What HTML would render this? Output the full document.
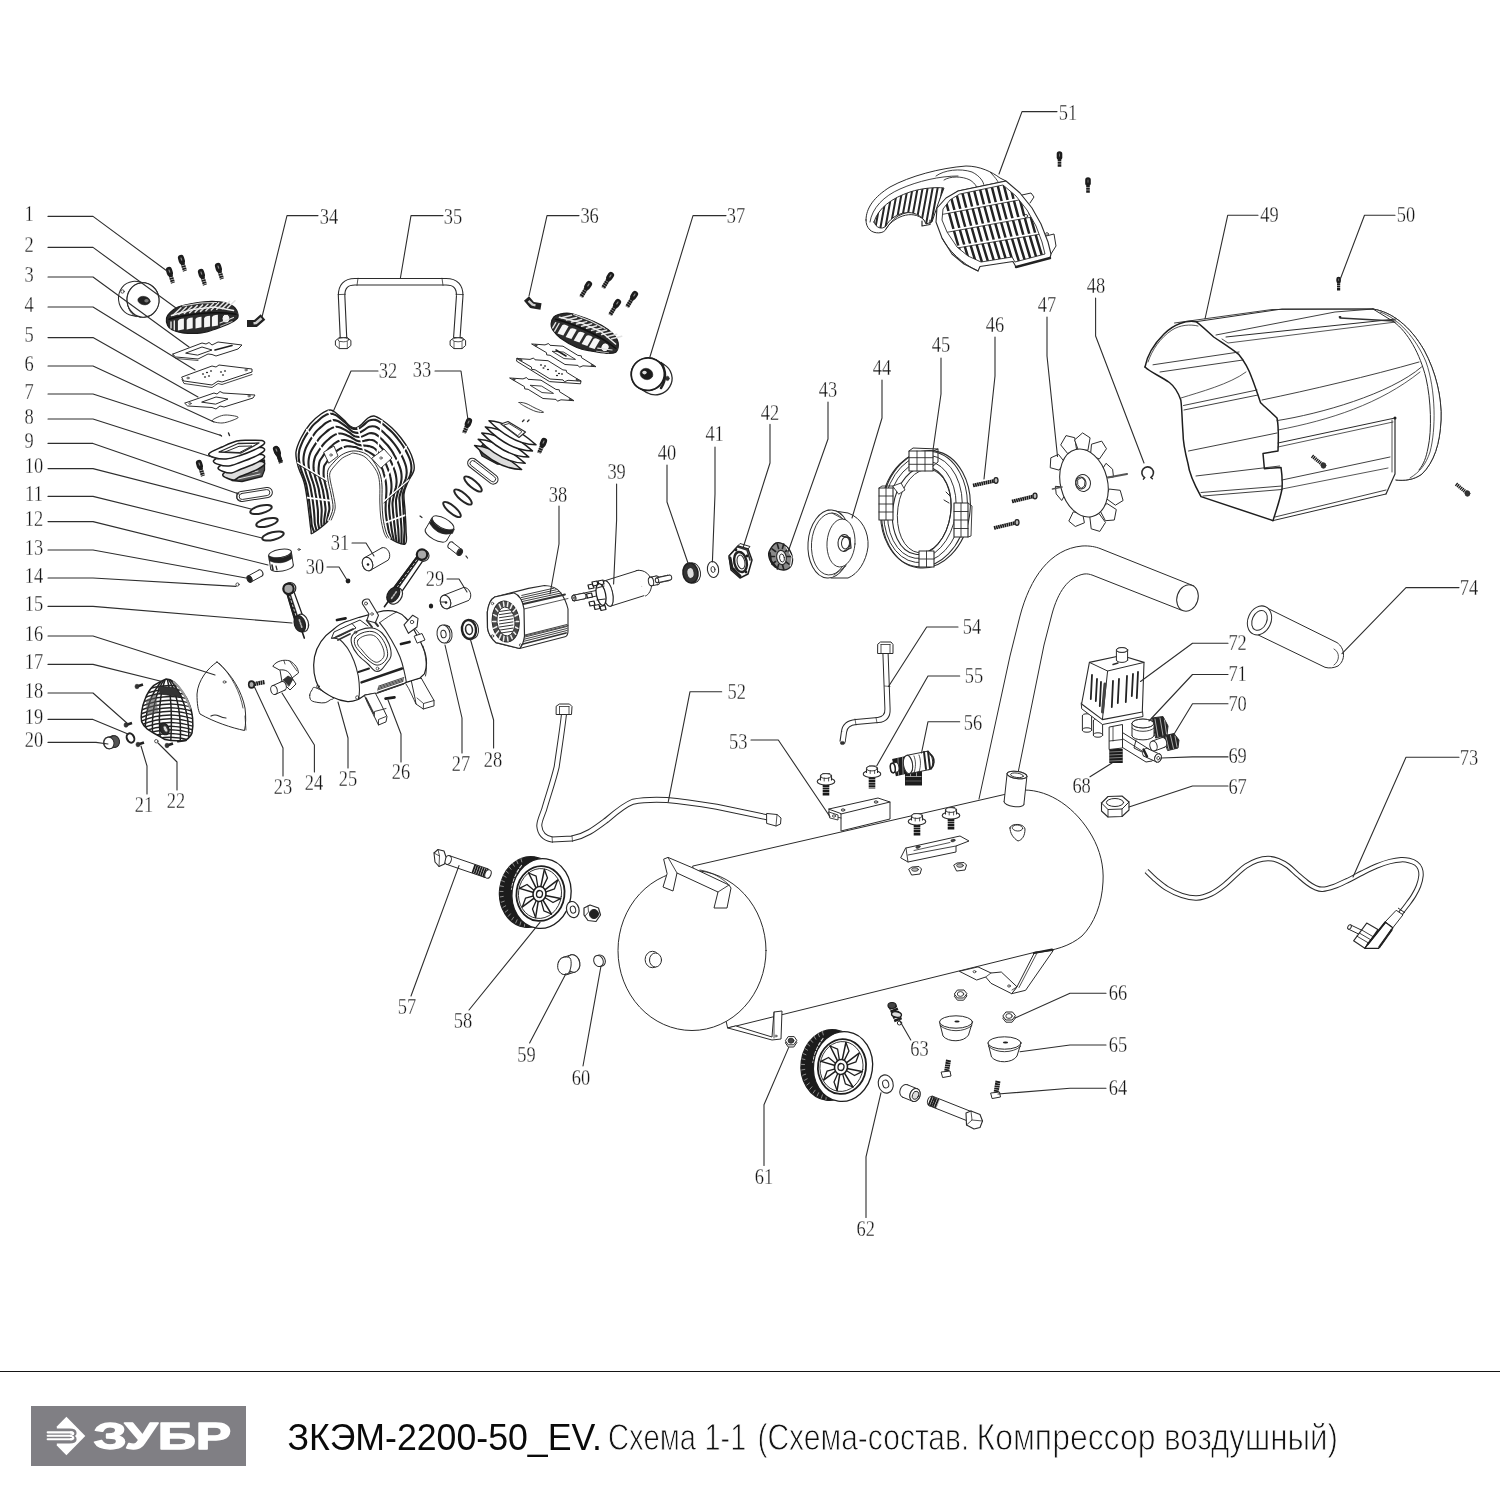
<!DOCTYPE html>
<html lang="ru"><head><meta charset="utf-8"><title>ЗКЭМ-2200-50_EV</title>
<style>
html,body{margin:0;padding:0;background:#fff}
body{width:1500px;height:1500px;position:relative;overflow:hidden;font-family:"Liberation Sans",sans-serif}
svg{position:absolute;left:0;top:0;display:block;will-change:transform}
.n{font-family:"Liberation Serif",serif;fill:#161616;stroke:#fff;stroke-width:0.3px}
.rule{position:absolute;left:0;top:1370.8px;width:1500px;height:1.4px;background:#151515}
.logo{position:absolute;left:31px;top:1406px;width:215.4px;height:60px;background:#807f84}
.title{position:absolute;left:288px;top:1418px;font-size:36px;line-height:44px;color:#111;white-space:nowrap;letter-spacing:-0.6px}
.title span{color:#2a2a2a;}
</style></head><body>
<svg width="1500" height="1500" viewBox="0 0 1500 1500" stroke-linejoin="round" stroke-linecap="round">
<path d="M169.9 273.1 L173 283" stroke="#1c1c1c" stroke-width="4.2" fill="none" stroke-linecap="butt" stroke-dasharray="1.9 0.45"/>
<path d="M169 270 L169.9 273.1" stroke="#1c1c1c" stroke-width="6.2" fill="none" stroke-linecap="round"/>
<path d="M169 270 L169.7 272.1" stroke="#888" stroke-width="1.2000000000000002" fill="none" stroke-linecap="round"/>
<path d="M181.9 261.1 L185 271" stroke="#1c1c1c" stroke-width="4.2" fill="none" stroke-linecap="butt" stroke-dasharray="1.9 0.45"/>
<path d="M181 258 L181.9 261.1" stroke="#1c1c1c" stroke-width="6.2" fill="none" stroke-linecap="round"/>
<path d="M181 258 L181.7 260.1" stroke="#888" stroke-width="1.2000000000000002" fill="none" stroke-linecap="round"/>
<path d="M201.9 275.1 L205 285" stroke="#1c1c1c" stroke-width="4.2" fill="none" stroke-linecap="butt" stroke-dasharray="1.9 0.45"/>
<path d="M201 272 L201.9 275.1" stroke="#1c1c1c" stroke-width="6.2" fill="none" stroke-linecap="round"/>
<path d="M201 272 L201.7 274.1" stroke="#888" stroke-width="1.2000000000000002" fill="none" stroke-linecap="round"/>
<path d="M218.9 269.1 L222 279" stroke="#1c1c1c" stroke-width="4.2" fill="none" stroke-linecap="butt" stroke-dasharray="1.9 0.45"/>
<path d="M218 266 L218.9 269.1" stroke="#1c1c1c" stroke-width="6.2" fill="none" stroke-linecap="round"/>
<path d="M218 266 L218.7 268.1" stroke="#888" stroke-width="1.2000000000000002" fill="none" stroke-linecap="round"/>
<ellipse cx="134.5" cy="298.5" rx="16" ry="17.2" transform="rotate(-6 134.5 298.5)" fill="#fff" stroke="#2b2b2b" stroke-width="1.0" />
<path d="M140.6 317 L132.1 315.5 L136.9 281.5 L145.4 283 Z" fill="#fff" stroke="none" stroke-width="0" />
<path d="M140.6 317 L132.1 315.5" fill="none" stroke="#2b2b2b" stroke-width="1.0" />
<path d="M136.9 281.5 L145.4 283" fill="none" stroke="#2b2b2b" stroke-width="1.0" />
<ellipse cx="143" cy="300" rx="16" ry="17.2" transform="rotate(-6 143 300)" fill="#fff" stroke="#2b2b2b" stroke-width="1.0" />
<path d="M140.5 283 C132 286 127 294 127.5 302 C128 310 132 315 136 316.5" fill="none" stroke="#2b2b2b" stroke-width="0.9" />
<ellipse cx="143" cy="300" rx="16" ry="17.2" transform="rotate(-6 143 300)" fill="#fff" stroke="#2b2b2b" stroke-width="1.1" />
<ellipse cx="122.5" cy="291.5" rx="1.7" ry="1.7" fill="none" stroke="#2b2b2b" stroke-width="0.8" />
<ellipse cx="144" cy="300.6" rx="6.2" ry="4.2" transform="rotate(10 144 300.6)" fill="#222" stroke="#2b2b2b" stroke-width="0.6" />
<ellipse cx="146.5" cy="300.8" rx="2.2" ry="1.8" fill="#777" stroke="#2b2b2b" stroke-width="0" />
<g transform="translate(202.5 318) rotate(0)" stroke-linejoin="round">
<path d="M-36 0 C-35.6 -2.1 -34.7 -3.2 -32.8 -5 C-30.9 -6.8 -28.7 -9.3 -24.5 -11 C-20.3 -12.7 -13.2 -14.1 -7.5 -15 C-1.8 -15.9 4.3 -16.6 9.5 -16.6 C14.7 -16.6 19.7 -16.1 23.5 -15 C27.3 -13.9 30.5 -12.3 32.5 -10 C34.5 -7.7 36.2 -3.5 35.5 -1 C34.8 1.5 31.6 3.1 28 5 C24.4 6.9 19 8.9 14.2 10.6 C9.4 12.2 4.9 14.2 -0.8 14.9 C-6.5 15.6 -15.1 15.4 -20 14.9 C-24.9 14.4 -28 12.9 -30.5 11.7 C-33 10.4 -34 9.3 -34.9 7.4 C-35.8 5.5 -36.4 2.1 -36 0 Z" fill="#2c2c2c" stroke="#1c1c1c" stroke-width="1.2"/>
<path d="M-29 -3.1 L-21.5 -10.3" stroke="#e2e2e2" stroke-width="1.5" fill="none"/>
<path d="M-23.6 -3.8 L-16.1 -11" stroke="#e2e2e2" stroke-width="1.5" fill="none"/>
<path d="M-18.2 -4.5 L-10.7 -11.7" stroke="#e2e2e2" stroke-width="1.5" fill="none"/>
<path d="M-12.8 -5.2 L-5.3 -12.4" stroke="#e2e2e2" stroke-width="1.5" fill="none"/>
<path d="M-7.4 -5.9 L0.1 -13.1" stroke="#e2e2e2" stroke-width="1.5" fill="none"/>
<path d="M-2 -6.6 L5.5 -13.8" stroke="#e2e2e2" stroke-width="1.5" fill="none"/>
<path d="M3.4 -7.3 L10.9 -14.5" stroke="#e2e2e2" stroke-width="1.5" fill="none"/>
<path d="M8.8 -8 L16.3 -15.2" stroke="#e2e2e2" stroke-width="1.5" fill="none"/>
<path d="M14.2 -8.7 L21.7 -15.9" stroke="#e2e2e2" stroke-width="1.5" fill="none"/>
<path d="M19.6 -9.4 L27.1 -16.6" stroke="#e2e2e2" stroke-width="1.5" fill="none"/>
<path d="M25 -10.1 L32.5 -17.3" stroke="#e2e2e2" stroke-width="1.5" fill="none"/>
<path d="M-31 -2.5 L-10 -8.5 L12 -11 L31 -7.5" stroke="#efefef" stroke-width="1.5" fill="none"/>
<path d="M-20 -12 L-2 -15 L14 -15.5" stroke="#ddd" stroke-width="1.1" fill="none"/>
<path d="M-33.5 1.2 C-20 -2.8 8 -7.8 33.5 -3.8" stroke="#111" stroke-width="1.5" fill="none"/>
<path d="M-24.6 12.4 L-24.6 3 Q-24 1 -21 0.8 L-18.6 0.6 L-18.6 11.2 Z" fill="#f6f6f6" stroke="none"/>
<path d="M-15.8 11.4 L-15.8 2 Q-15.2 0.1 -12.2 -0.2 L-9.8 -0.4 L-9.8 10.2 Z" fill="#f6f6f6" stroke="none"/>
<path d="M-7 10.5 L-7 1.1 Q-6.4 -0.9 -3.4 -1.1 L-1 -1.3 L-1 9.3 Z" fill="#f6f6f6" stroke="none"/>
<path d="M1.6 9.6 L1.6 0.2 Q2.2 -1.8 5.2 -2 L7.6 -2.2 L7.6 8.4 Z" fill="#f6f6f6" stroke="none"/>
<path d="M9.4 8.6 L9.4 -0.8 Q10 -2.8 13 -3 L15.4 -3.2 L15.4 7.4 Z" fill="#f6f6f6" stroke="none"/>
<path d="M-31.5 4 L-31.5 10 M-28.2 3 L-28.2 11.8" stroke="#e4e4e4" stroke-width="1.4" fill="none"/>
<ellipse cx="23.5" cy="0.6" rx="4" ry="4.4" fill="#f4f4f4" stroke="#1c1c1c" stroke-width="1"/>
<path d="M17.5 5 L31 -0.6" stroke="#e0e0e0" stroke-width="1.1" fill="none"/>
<path d="M18 8.2 L29.5 3.6" stroke="#ccc" stroke-width="0.9" fill="none"/>
</g>
<path d="M247 323.5 L255.5 323.5 L263 317" fill="none" stroke="#222" stroke-width="7" stroke-linecap="butt"/>
<path d="M253.5 323.3 L256 323 L261.5 318.3" fill="none" stroke="#d0d0d0" stroke-width="2.6" stroke-linecap="butt"/>
<path d="M173 354 L202 343 L206 344 L209 342.5 L212 345 L218 342 L242 345 L238 349 L216 356 L212 354.5 L208 354 L198 359 L176 357 Z" fill="#fff" stroke="#2b2b2b" stroke-width="1.0" />
<path d="M186 353 L202 347 L212 350 L198 355 Z" fill="none" stroke="#2b2b2b" stroke-width="1.0" />
<path d="M173 354 L173 356 L176 358.5 L198 360.5" fill="none" stroke="#2b2b2b" stroke-width="0.8" />
<path d="M215 350 L232 345.5" fill="none" stroke="#1e1e1e" stroke-width="1.6" />
<path d="M182 377 L212 366 L216 367 L219 365 L252 369 L252 372 L222 382 L218 381 L212 385 L184 381 Z" fill="#fff" stroke="#2b2b2b" stroke-width="1.0" />
<path d="M182 379.5 L184 383.5 L212 387.5 L218 383.5 L222 384.5 L252 374.5" fill="none" stroke="#2b2b2b" stroke-width="0.9" />
<ellipse cx="203" cy="374" rx="1.1" ry="0.8" fill="#1e1e1e" stroke="#2b2b2b" stroke-width="0" />
<ellipse cx="207" cy="372.5" rx="1.1" ry="0.8" fill="#1e1e1e" stroke="#2b2b2b" stroke-width="0" />
<ellipse cx="211" cy="371" rx="1.1" ry="0.8" fill="#1e1e1e" stroke="#2b2b2b" stroke-width="0" />
<ellipse cx="205" cy="377" rx="1.1" ry="0.8" fill="#1e1e1e" stroke="#2b2b2b" stroke-width="0" />
<ellipse cx="209" cy="376" rx="1.1" ry="0.8" fill="#1e1e1e" stroke="#2b2b2b" stroke-width="0" />
<ellipse cx="221" cy="372" rx="1.1" ry="0.8" fill="#1e1e1e" stroke="#2b2b2b" stroke-width="0" />
<ellipse cx="225" cy="371" rx="1.1" ry="0.8" fill="#1e1e1e" stroke="#2b2b2b" stroke-width="0" />
<ellipse cx="223" cy="375" rx="1.1" ry="0.8" fill="#1e1e1e" stroke="#2b2b2b" stroke-width="0" />
<ellipse cx="188" cy="378" rx="1.2" ry="0.9" fill="none" stroke="#2b2b2b" stroke-width="0.7" />
<ellipse cx="246" cy="370" rx="1.2" ry="0.9" fill="none" stroke="#2b2b2b" stroke-width="0.7" />
<path d="M185 403 L214 393 L217 394 L220 391.5 L223 393 L255 395 L253 398 L224 407 L220 406 L216 409 L212 407.5 L188 406 Z" fill="#fff" stroke="#2b2b2b" stroke-width="1.0" />
<path d="M202 402 L216 397 L228 399 L216 404 Z" fill="none" stroke="#2b2b2b" stroke-width="1.0" />
<ellipse cx="190" cy="403.5" rx="1.2" ry="0.9" fill="none" stroke="#2b2b2b" stroke-width="0.7" />
<ellipse cx="249" cy="396" rx="1.2" ry="0.9" fill="none" stroke="#2b2b2b" stroke-width="0.7" />
<path d="M212 421 C211.3 420 215.7 418 218 417 C220.3 416 222.7 415 226 415 C229.3 415 237 416.1 238 417 C239 417.9 234.7 419.5 232 420.5 C229.3 421.5 225.3 422.9 222 423 C218.7 423.1 212.7 422 212 421 Z" fill="#fff" stroke="#2b2b2b" stroke-width="0.9" />
<path d="M220 435 L221.5 436" fill="none" stroke="#2b2b2b" stroke-width="1.4" />
<path d="M228.5 433 L229.5 435.5" fill="none" stroke="#2b2b2b" stroke-width="1.4" />
<path d="M229 474 L232 480.5 L242 481.5 L262 476.5 L264.5 470 L264.5 460 L232 466 Z" fill="#555" stroke="#1e1e1e" stroke-width="1.3" />
<path d="M236 476 L258 471 M238 479 L260 474" fill="none" stroke="#ddd" stroke-width="1.0" />
<path d="M222.8 474.6 C223.4 472.9 228.6 470.1 231.7 468 C234.7 465.9 237.9 463.1 240.9 462 C244 460.9 246.5 461.4 250 461.3 C253.5 461.2 259.7 461 262 461.6 C264.3 462.2 265.3 463.4 264 465 C262.7 466.6 258 469.1 254 471 C250 472.9 243.3 475 240 476.5 C236.7 478 236.3 479.7 234.3 480 C232.2 480.3 229.7 479.4 227.8 478.5 C225.9 477.6 222.2 476.4 222.8 474.6 Z" fill="#ddd" stroke="#1e1e1e" stroke-width="1.5" />
<path d="M218.2 467.6 C219.1 465.9 224.9 463.1 228.4 461 C232 458.9 236 456.1 239.6 455 C243.2 453.9 246.3 454.4 250 454.3 C253.7 454.2 259.7 454 262 454.6 C264.3 455.2 265.3 456.4 264 458 C262.7 459.6 258 462.1 254 464 C250 465.9 243.7 468 240 469.5 C236.3 471 234.3 472.7 231.5 473 C228.7 473.3 225.4 472.4 223.2 471.5 C221 470.6 217.3 469.4 218.2 467.6 Z" fill="#fff" stroke="#1e1e1e" stroke-width="1.5" />
<path d="M213.6 460.6 C214.7 458.9 221.1 456.1 225.2 454 C229.3 451.9 234.1 449.1 238.2 448 C242.3 446.9 246 447.4 250 447.3 C254 447.2 259.7 447 262 447.6 C264.3 448.2 265.3 449.4 264 451 C262.7 452.6 258 455.1 254 457 C250 458.9 244.2 461 240 462.5 C235.8 464 232.3 465.7 228.8 466 C225.2 466.3 221.1 465.4 218.6 464.5 C216.1 463.6 212.5 462.4 213.6 460.6 Z" fill="#fff" stroke="#1e1e1e" stroke-width="1.5" />
<path d="M209 453.6 C210.3 451.9 217.4 449.1 222 447 C226.6 444.9 232.1 442.1 236.8 441 C241.5 439.9 245.8 440.4 250 440.3 C254.2 440.2 259.7 440 262 440.6 C264.3 441.2 265.3 442.4 264 444 C262.7 445.6 258 448.1 254 450 C250 451.9 244.7 454 240 455.5 C235.3 457 230.3 458.7 226 459 C221.7 459.3 216.8 458.4 214 457.5 C211.2 456.6 207.7 455.4 209 453.6 Z" fill="#fff" stroke="#1e1e1e" stroke-width="1.5" />
<path d="M219 452 L238 443.5 L259 443 L241 453 Z" fill="#fff" stroke="#2b2b2b" stroke-width="1.3" />
<path d="M225 452 L239 446.3 L252 446 L240 452.3 Z" fill="none" stroke="#2b2b2b" stroke-width="1.0" />
<path d="M199.9 466.1 L203 476" stroke="#1c1c1c" stroke-width="4.2" fill="none" stroke-linecap="butt" stroke-dasharray="1.9 0.45"/>
<path d="M199 463 L199.9 466.1" stroke="#1c1c1c" stroke-width="6.2" fill="none" stroke-linecap="round"/>
<path d="M199 463 L199.7 465.1" stroke="#888" stroke-width="1.2000000000000002" fill="none" stroke-linecap="round"/>
<path d="M277.9 453.1 L281 463" stroke="#1c1c1c" stroke-width="4.2" fill="none" stroke-linecap="butt" stroke-dasharray="1.9 0.45"/>
<path d="M277 450 L277.9 453.1" stroke="#1c1c1c" stroke-width="6.2" fill="none" stroke-linecap="round"/>
<path d="M277 450 L277.7 452.1" stroke="#888" stroke-width="1.2000000000000002" fill="none" stroke-linecap="round"/>
<g transform="rotate(-9 254.5 494.5)"><rect x="236.5" y="489.5" width="36" height="10" rx="5" fill="#fff" stroke="#2b2b2b" stroke-width="1"/><rect x="239" y="491.5" width="31" height="6" rx="3" fill="none" stroke="#2b2b2b" stroke-width="0.9"/></g>
<path d="M237 492.5 L237 499 L241 501" fill="none" stroke="#2b2b2b" stroke-width="0.9" />
<ellipse cx="261" cy="509.5" rx="11" ry="3.8" transform="rotate(-14 261 509.5)" fill="none" stroke="#262626" stroke-width="2.0" />
<ellipse cx="267" cy="522.5" rx="11" ry="3.8" transform="rotate(-14 267 522.5)" fill="none" stroke="#262626" stroke-width="2.0" />
<ellipse cx="273" cy="536" rx="11" ry="3.8" transform="rotate(-14 273 536)" fill="none" stroke="#262626" stroke-width="2.0" />
<ellipse cx="282" cy="567" rx="11.5" ry="4" transform="rotate(-10 282 567)" fill="#fff" stroke="#2b2b2b" stroke-width="1.0" />
<path d="M291.3 551.5 L293.3 565 L270.7 569 L268.7 555.5 Z" fill="#fff" stroke="none" stroke-width="0" />
<path d="M291.3 551.5 L293.3 565" fill="none" stroke="#2b2b2b" stroke-width="1.0" />
<path d="M270.7 569 L268.7 555.5" fill="none" stroke="#2b2b2b" stroke-width="1.0" />
<ellipse cx="280" cy="553.5" rx="11.5" ry="4" transform="rotate(-10 280 553.5)" fill="#fff" stroke="#2b2b2b" stroke-width="1.0" />
<path d="M268.7 556 Q280 561 291.5 553.5 L292 558.5 Q281 566 269.5 561 Z" fill="#222" stroke="#2b2b2b" stroke-width="0.5" />
<path d="M272 565 L273 570" fill="none" stroke="#2b2b2b" stroke-width="1.6" />
<path d="M276 566 L277 570" fill="none" stroke="#2b2b2b" stroke-width="1.2" />
<ellipse cx="299" cy="549.5" rx="1.2" ry="0.8" fill="none" stroke="#2b2b2b" stroke-width="0.8" />
<ellipse cx="260.5" cy="573" rx="2.2" ry="3.4" transform="rotate(-25 260.5 573)" fill="#fff" stroke="#2b2b2b" stroke-width="1.0" />
<path d="M248 576 L259 570 L262 576 L251 582 Z" fill="#fff" stroke="none" stroke-width="0" />
<path d="M248 576 L259 570" fill="none" stroke="#2b2b2b" stroke-width="1.0" />
<path d="M262 576 L251 582" fill="none" stroke="#2b2b2b" stroke-width="1.0" />
<ellipse cx="249.5" cy="579" rx="2.2" ry="3.4" transform="rotate(-25 249.5 579)" fill="#fff" stroke="#2b2b2b" stroke-width="1.0" />
<ellipse cx="249.5" cy="579" rx="2.2" ry="3.4" transform="rotate(-25 249.5 579)" fill="#222" stroke="#2b2b2b" stroke-width="1.0" />
<ellipse cx="237.5" cy="584.5" rx="1.6" ry="1.6" fill="none" stroke="#2b2b2b" stroke-width="0.8" />
<path d="M286.1 591.1 L295.3 622.1 L303.9 619.3 L292.9 588.9 Z" fill="#fff" stroke="#1e1e1e" stroke-width="1.3" />
<path d="M286.1 591.1 L295.3 622.1 L299.3 620.8 L289.2 590.1 Z" fill="#1e1e1e" stroke="#1e1e1e" stroke-width="0.6" />
<path d="M289.7 596.3 L296.5 617.5" stroke="#ccc" stroke-width="1" stroke-dasharray="2 2.5" fill="none"/>
<ellipse cx="302.1" cy="623" rx="9" ry="6.2" transform="rotate(71.8 302.1 623)" fill="#fff" stroke="#2b2b2b" stroke-width="1.2" />
<ellipse cx="299.8" cy="623.8" rx="8.4" ry="5.4" transform="rotate(71.8 299.8 623.8)" fill="#2a2a2a" stroke="#1e1e1e" stroke-width="1.2" />
<path d="M299.3 619.8 L301.8 627.3" stroke="#bbb" stroke-width="1.6" stroke-dasharray="1.6 1.6" fill="none"/>
<path d="M302.1 631.5 L304.3 638.1" stroke="#1e1e1e" stroke-width="1.6" fill="none"/>
<ellipse cx="290.2" cy="588.2" rx="5.6" ry="5.6" fill="#fff" stroke="#2b2b2b" stroke-width="1.2" />
<ellipse cx="288.5" cy="588.8" rx="5.2" ry="5.2" fill="#aaa" stroke="#1e1e1e" stroke-width="2.2" />
<path d="M217 662 C208 668 198 680 197 694 C197 704 198 710 200 714 C214 722 232 728 244.5 730.5 C246 724 246 716 245 708 C242 692 232 674 217 662 Z" fill="#fff" stroke="#2b2b2b" stroke-width="1.0" />
<path d="M219 663 C232 676 240 692 243 708" fill="none" stroke="#2b2b2b" stroke-width="0.8" />
<path d="M245 716 L246 730" fill="none" stroke="#2b2b2b" stroke-width="0.8" />
<ellipse cx="224.5" cy="682" rx="1.5" ry="1.1" fill="none" stroke="#2b2b2b" stroke-width="0.8" />
<path d="M211 716 q4 -2 8 0 q4 2 7 2" fill="none" stroke="#2b2b2b" stroke-width="1.2" />
<clipPath id="c17"><path d="M166.2 679 C161 681 157 683.5 153.6 685.6 C149 690 147 694 145.2 698.8 C143 704 142 708 141.6 712 C141 716 141 719 141.6 721.6 C143 725 145 727 147 728.8 C151 731.5 155 734 159 736 L165 739.6 C172 741 180 741 186 740.2 C189 738 191 736 192 733 C193 728 193 722 192.6 718 C192 713 191 708 189 703.6 C187.5 699.5 185.5 696 183 692.8 C180 688.5 177.5 685 174 682 C171.5 680 169 679 166.2 679 Z"/></clipPath>
<path d="M166.2 679 C161 681 157 683.5 153.6 685.6 C149 690 147 694 145.2 698.8 C143 704 142 708 141.6 712 C141 716 141 719 141.6 721.6 C143 725 145 727 147 728.8 C151 731.5 155 734 159 736 L165 739.6 C172 741 180 741 186 740.2 C189 738 191 736 192 733 C193 728 193 722 192.6 718 C192 713 191 708 189 703.6 C187.5 699.5 185.5 696 183 692.8 C180 688.5 177.5 685 174 682 C171.5 680 169 679 166.2 679 Z" fill="#fff" stroke="#1e1e1e" stroke-width="1.5" />
<g clip-path="url(#c17)" fill="none" stroke="#222">
<path d="M138 693 Q168 679 198 691" stroke-width="1.5"/>
<path d="M138 696.7 Q168 682.7 198 694.7" stroke-width="1.5"/>
<path d="M138 700.4 Q168 686.4 198 698.4" stroke-width="1.5"/>
<path d="M138 704.1 Q168 690.1 198 702.1" stroke-width="1.5"/>
<path d="M138 707.8 Q168 693.8 198 705.8" stroke-width="1.5"/>
<path d="M138 711.5 Q168 697.5 198 709.5" stroke-width="1.5"/>
<path d="M138 715.2 Q168 701.2 198 713.2" stroke-width="1.5"/>
<path d="M138 718.9 Q168 704.9 198 716.9" stroke-width="1.5"/>
<path d="M138 722.6 Q168 708.6 198 720.6" stroke-width="1.5"/>
<path d="M138 726.3 Q168 712.3 198 724.3" stroke-width="1.5"/>
<path d="M138 730 Q168 716 198 728" stroke-width="1.5"/>
<path d="M138 733.7 Q168 719.7 198 731.7" stroke-width="1.5"/>
<path d="M138 737.4 Q168 723.4 198 735.4" stroke-width="1.5"/>
<path d="M138 741.1 Q168 727.1 198 739.1" stroke-width="1.5"/>
<path d="M138 744.8 Q168 730.8 198 742.8" stroke-width="1.5"/>
<path d="M166.5 676 Q141 700 146 746" stroke-width="1.5"/>
<path d="M166.5 676 Q148.5 700 153.5 746" stroke-width="1.5"/>
<path d="M166.5 676 Q156 700 161 746" stroke-width="1.5"/>
<path d="M166.5 676 Q173.5 700 170.5 746" stroke-width="1.5"/>
<path d="M166.5 676 Q183 700 180 746" stroke-width="1.5"/>
<path d="M166.5 676 Q191.5 700 188.5 746" stroke-width="1.5"/>
<path d="M158 686 L176 688 L182 697 L160 694 Z" fill="#333" stroke-width="0.8"/>
<path d="M146 700 L156 694 L158 712 L147 716 Z" fill="#555" fill-opacity="0.6" stroke="none"/>
</g>
<path d="M174 682 C180 687 187 697 190 708" fill="none" stroke="#999" stroke-width="2.2" />
<ellipse cx="164.5" cy="729" rx="4.4" ry="6" transform="rotate(-25 164.5 729)" fill="#2a2a2a" stroke="#1e1e1e" stroke-width="1.2" />
<ellipse cx="165.5" cy="729" rx="1.8" ry="3.4" transform="rotate(-25 165.5 729)" fill="#ddd" stroke="#2b2b2b" stroke-width="0.6" />
<path d="M186 740.2 L178 741.5" fill="none" stroke="#222" stroke-width="2.0" />
<path d="M137 686.5 L143 684.5" fill="none" stroke="#222" stroke-width="2.6" stroke-linecap="butt"/>
<ellipse cx="137" cy="686.5" rx="2" ry="2.3" fill="#333" stroke="#2b2b2b" stroke-width="0.6" />
<path d="M126 725 L132 723" fill="none" stroke="#222" stroke-width="2.6" stroke-linecap="butt"/>
<ellipse cx="126" cy="725" rx="2" ry="2.3" fill="#333" stroke="#2b2b2b" stroke-width="0.6" />
<path d="M167 745.5 L173 743.5" fill="none" stroke="#222" stroke-width="2.6" stroke-linecap="butt"/>
<ellipse cx="167" cy="745.5" rx="2" ry="2.3" fill="#333" stroke="#2b2b2b" stroke-width="0.6" />
<path d="M138 744.5 L144 742.5" fill="none" stroke="#222" stroke-width="2.6" stroke-linecap="butt"/>
<ellipse cx="138" cy="744.5" rx="2" ry="2.3" fill="#333" stroke="#2b2b2b" stroke-width="0.6" />
<ellipse cx="130.5" cy="738" rx="3.6" ry="4.8" transform="rotate(-25 130.5 738)" fill="none" stroke="#222" stroke-width="2.0" />
<ellipse cx="114" cy="741.5" rx="5" ry="5.8" transform="rotate(-10 114 741.5)" fill="#fff" stroke="#2b2b2b" stroke-width="1.0" />
<path d="M107.1 737.4 L112.6 735.9 L115.4 747.1 L109.9 748.6 Z" fill="#fff" stroke="none" stroke-width="0" />
<path d="M107.1 737.4 L112.6 735.9" fill="none" stroke="#2b2b2b" stroke-width="1.0" />
<path d="M115.4 747.1 L109.9 748.6" fill="none" stroke="#2b2b2b" stroke-width="1.0" />
<ellipse cx="108.5" cy="743" rx="5" ry="5.8" transform="rotate(-10 108.5 743)" fill="#fff" stroke="#2b2b2b" stroke-width="1.0" />
<ellipse cx="114.5" cy="741.5" rx="5" ry="5.8" transform="rotate(-10 114.5 741.5)" fill="#555" stroke="#2b2b2b" stroke-width="1" />
<ellipse cx="109" cy="743" rx="5" ry="5.8" transform="rotate(-10 109 743)" fill="#fff" stroke="#2b2b2b" stroke-width="1" />
<ellipse cx="156.3" cy="741.2" rx="1.7" ry="1.7" fill="none" stroke="#2b2b2b" stroke-width="0.8" />
<path d="M252 684.5 L265 682" fill="none" stroke="#1c1c1c" stroke-width="4.2" stroke-linecap="butt" stroke-dasharray="1.7 0.5"/>
<ellipse cx="251.5" cy="684.5" rx="2.8" ry="3.4" fill="#aaa" stroke="#222" stroke-width="1.6" />
<path d="M273 666 C276 661 284 659 290 661 C295 664 298 668 298.5 673 L292 678 C290 672 286 669 280 670 Z" fill="#fff" stroke="#2b2b2b" stroke-width="1.0" />
<path d="M280 670 L282 682 L290 690 L296 684 L292 678" fill="#fff" stroke="#2b2b2b" stroke-width="1.0" />
<path d="M284 661 L285 664 M290 661.5 L297 671" fill="none" stroke="#2b2b2b" stroke-width="0.8" />
<path d="M283 680 L288 676 L293 679 L289 686 Z" fill="#333" stroke="#2b2b2b" stroke-width="0.8" />
<ellipse cx="283" cy="686" rx="3.2" ry="4.6" transform="rotate(-15 283 686)" fill="#fff" stroke="#2b2b2b" stroke-width="1.0" />
<path d="M272.5 685.7 L281.5 681.7 L284.5 690.3 L275.5 694.3 Z" fill="#fff" stroke="none" stroke-width="0" />
<path d="M272.5 685.7 L281.5 681.7" fill="none" stroke="#2b2b2b" stroke-width="1.0" />
<path d="M284.5 690.3 L275.5 694.3" fill="none" stroke="#2b2b2b" stroke-width="1.0" />
<ellipse cx="274" cy="690" rx="3.2" ry="4.6" transform="rotate(-15 274 690)" fill="#fff" stroke="#2b2b2b" stroke-width="1.0" />
<path d="M343.5 338 L341.6 296 Q341.2 281.8 355 281.8 L446 281.8 Q460.2 281.8 459.7 296 L456.8 338" fill="none" stroke="#2b2b2b" stroke-width="7.6" stroke-linecap="butt"/>
<path d="M343.5 338 L341.6 296 Q341.2 281.8 355 281.8 L446 281.8 Q460.2 281.8 459.7 296 L456.8 338" fill="none" stroke="#fff" stroke-width="5.4" stroke-linecap="butt"/>
<path d="M358 278.2 L357 285.4" fill="none" stroke="#2b2b2b" stroke-width="0.8" />
<path d="M442 278.2 L443 285.4" fill="none" stroke="#2b2b2b" stroke-width="0.8" />
<path d="M338 294.6 L345.3 294.3" fill="none" stroke="#2b2b2b" stroke-width="0.8" />
<path d="M456 294.3 L463.4 294.6" fill="none" stroke="#2b2b2b" stroke-width="0.8" />
<path d="M335.7 340.5 L339.3 337.6 L347.3 337.6 L350.9 340.5 L350.9 345.5 L347.3 348.6 L339.3 348.6 L335.7 345.5 Z" fill="#fff" stroke="#2b2b2b" stroke-width="1.0" />
<path d="M339.3 337.6 L339.3 348.6" fill="none" stroke="#2b2b2b" stroke-width="0.7" />
<path d="M347.3 337.6 L347.3 348.6" fill="none" stroke="#2b2b2b" stroke-width="0.7" />
<ellipse cx="343.3" cy="339.8" rx="5.4" ry="2" fill="#fff" stroke="#2b2b2b" stroke-width="0.8" />
<path d="M450.4 340.5 L454 337.6 L462 337.6 L465.6 340.5 L465.6 345.5 L462 348.6 L454 348.6 L450.4 345.5 Z" fill="#fff" stroke="#2b2b2b" stroke-width="1.0" />
<path d="M454 337.6 L454 348.6" fill="none" stroke="#2b2b2b" stroke-width="0.7" />
<path d="M462 337.6 L462 348.6" fill="none" stroke="#2b2b2b" stroke-width="0.7" />
<ellipse cx="458" cy="339.8" rx="5.4" ry="2" fill="#fff" stroke="#2b2b2b" stroke-width="0.8" />
<clipPath id="c32"><path d="M313 533 C310 534.7 311.7 533.2 311 530 C310.3 526.8 309.7 519.3 309 514 C308.3 508.7 307.8 503.3 307 498 C306.2 492.7 305.5 487.3 304 482 C302.5 476.7 299.3 471 298 466 C296.7 461 295.5 456.7 296 452 C296.5 447.3 298.7 442.7 301 438 C303.3 433.3 306.7 428 310 424 C313.3 420 317.7 416.3 321 414 C324.3 411.7 327.5 410.2 330 410 C332.5 409.8 333.7 411.3 336 413 C338.3 414.7 341.7 417.8 344 420 C346.3 422.2 348 424.7 350 426 C352 427.3 354 428.3 356 428 C358 427.7 360 425.7 362 424 C364 422.3 366 419.3 368 418 C370 416.7 371.7 415.7 374 416 C376.3 416.3 379 418 382 420 C385 422 388.8 425 392 428 C395.2 431 398.2 434.3 401 438 C403.8 441.7 407 446.3 409 450 C411 453.7 412.2 456.7 413 460 C413.8 463.3 414.8 466.3 414 470 C413.2 473.7 409.7 478 408 482 C406.3 486 404.5 489.3 404 494 C403.5 498.7 404.7 504 405 510 C405.3 516 406 524.3 406 530 C406 535.7 407.8 542.7 405 544 C402.2 545.3 392.2 540 389 538 C385.8 536 387 535.3 386 532 C385 528.7 383.7 523 383 518 C382.3 513 382.2 507.3 382 502 C381.8 496.7 382.3 490.7 382 486 C381.7 481.3 381.3 478 380 474 C378.7 470 376.3 465.3 374 462 C371.7 458.7 369 455.8 366 454 C363 452.2 359 451.3 356 451 C353 450.7 350.7 451.2 348 452 C345.3 452.8 342.3 454.3 340 456 C337.7 457.7 336 459.7 334 462 C332 464.3 329 467 328 470 C327 473 327.5 476 328 480 C328.5 484 330.2 489.3 331 494 C331.8 498.7 333.3 503.7 333 508 C332.7 512.3 332.3 515.8 329 520 C325.7 524.2 316 531.3 313 533 Z"/></clipPath>
<path d="M313 533 C310 534.7 311.7 533.2 311 530 C310.3 526.8 309.7 519.3 309 514 C308.3 508.7 307.8 503.3 307 498 C306.2 492.7 305.5 487.3 304 482 C302.5 476.7 299.3 471 298 466 C296.7 461 295.5 456.7 296 452 C296.5 447.3 298.7 442.7 301 438 C303.3 433.3 306.7 428 310 424 C313.3 420 317.7 416.3 321 414 C324.3 411.7 327.5 410.2 330 410 C332.5 409.8 333.7 411.3 336 413 C338.3 414.7 341.7 417.8 344 420 C346.3 422.2 348 424.7 350 426 C352 427.3 354 428.3 356 428 C358 427.7 360 425.7 362 424 C364 422.3 366 419.3 368 418 C370 416.7 371.7 415.7 374 416 C376.3 416.3 379 418 382 420 C385 422 388.8 425 392 428 C395.2 431 398.2 434.3 401 438 C403.8 441.7 407 446.3 409 450 C411 453.7 412.2 456.7 413 460 C413.8 463.3 414.8 466.3 414 470 C413.2 473.7 409.7 478 408 482 C406.3 486 404.5 489.3 404 494 C403.5 498.7 404.7 504 405 510 C405.3 516 406 524.3 406 530 C406 535.7 407.8 542.7 405 544 C402.2 545.3 392.2 540 389 538 C385.8 536 387 535.3 386 532 C385 528.7 383.7 523 383 518 C382.3 513 382.2 507.3 382 502 C381.8 496.7 382.3 490.7 382 486 C381.7 481.3 381.3 478 380 474 C378.7 470 376.3 465.3 374 462 C371.7 458.7 369 455.8 366 454 C363 452.2 359 451.3 356 451 C353 450.7 350.7 451.2 348 452 C345.3 452.8 342.3 454.3 340 456 C337.7 457.7 336 459.7 334 462 C332 464.3 329 467 328 470 C327 473 327.5 476 328 480 C328.5 484 330.2 489.3 331 494 C331.8 498.7 333.3 503.7 333 508 C332.7 512.3 332.3 515.8 329 520 C325.7 524.2 316 531.3 313 533 Z" fill="#fff" stroke="#1e1e1e" stroke-width="1.4" />
<g clip-path="url(#c32)" fill="none">
<path d="M326.8 521.8 C326.9 521.1 327.2 519.1 327.5 517.6 C327.8 516.2 328.1 514.8 328.5 513.4 C328.8 512 329.3 510.6 329.4 509.1 C329.5 507.7 329.2 506.2 329.1 504.8 C328.9 503.3 328.7 501.8 328.5 500.4 C328.3 498.9 328 497.5 327.8 496 C327.6 494.5 327.4 493.1 327.1 491.6 C326.8 490.2 326.4 488.8 326 487.3 C325.7 485.9 325.3 484.5 325 483 C324.6 481.6 324.2 480.2 324 478.7 C323.7 477.3 323.6 475.8 323.6 474.3 C323.5 472.8 323.6 471.4 323.7 469.9 C323.8 468.5 323.8 467 324.3 465.6 C324.9 464.3 326 463.2 326.8 462 C327.7 460.8 328.5 459.6 329.4 458.4 C330.3 457.2 331.3 456.1 332.3 455 C333.3 454 334.3 452.9 335.5 451.9 C336.6 451 337.7 450.1 339 449.3 C340.2 448.5 341.6 447.9 343 447.4 C344.3 446.9 345.6 446.5 347 446.3 C348.4 446.2 349.8 446.4 351.2 446.5 C352.6 446.7 354 446.8 355.3 447.1 C356.7 447.5 358 448.3 359.4 448.8 C360.7 449.2 362.3 449.4 363.6 449.8 C364.9 450.2 366 450.6 367.1 451.1 C368.2 451.6 369.2 452.1 370.3 452.8 C371.4 453.5 372.7 454.2 373.7 455.1 C374.7 456 375.5 457.3 376.3 458.5 C377.1 459.6 377.9 460.9 378.6 462.2 C379.4 463.4 380.2 464.6 380.9 465.9 C381.6 467.2 382.2 468.5 382.7 469.8 C383.2 471.2 383.6 472.6 383.9 474 C384.3 475.4 384.7 476.8 385.1 478.2 C385.4 479.6 385.7 481 385.9 482.5 C386.1 483.9 386.2 485.4 386.3 486.8 C386.4 488.3 386.4 489.8 386.4 491.3 C386.4 492.7 386.3 494.2 386.2 495.6 C386.2 497.1 385.9 498.5 385.9 500 C385.8 501.4 385.8 502.9 385.7 504.3 C385.7 505.8 385.6 507.2 385.6 508.7 C385.6 510.2 385.7 511.7 385.8 513.1 C386 514.6 386.1 516.1 386.3 517.5 C386.5 519 386.8 520.4 387 521.9 C387.3 523.3 387.5 524.8 387.8 526.2 C388.1 527.7 388.2 529.2 388.6 530.6 C388.9 532 389.3 533.4 389.8 534.8 C390.2 536.1 391 538.2 391.2 538.8" stroke="#222" stroke-width="2.1"/>
<path d="M324.2 523.9 C324.2 523.1 324.2 520.8 324.3 519.3 C324.5 517.7 324.8 516.1 325 514.5 C325.2 512.9 325.5 511.3 325.6 509.7 C325.6 508.1 325.3 506.4 325.1 504.8 C324.9 503.2 324.7 501.5 324.5 499.9 C324.2 498.2 323.9 496.6 323.7 495 C323.4 493.4 323.2 491.7 322.8 490.1 C322.5 488.5 322 486.9 321.6 485.3 C321.1 483.7 320.6 482.2 320.2 480.6 C319.8 479 319.3 477.4 319.1 475.8 C318.8 474.1 318.6 472.5 318.6 470.8 C318.5 469.2 318.6 467.6 318.8 466 C319 464.4 319.1 462.7 319.7 461.2 C320.3 459.7 321.4 458.4 322.3 457 C323.2 455.7 324.2 454.3 325.2 453 C326.2 451.7 327.2 450.3 328.3 449.1 C329.4 447.9 330.6 446.8 331.9 445.7 C333.1 444.6 334.3 443.5 335.7 442.7 C337.1 441.8 338.7 441 340.2 440.6 C341.7 440.1 343.2 439.9 344.7 440 C346.2 440.1 347.7 440.6 349.2 441 C350.7 441.4 352.1 441.8 353.5 442.4 C355 443 356.3 444.1 357.8 444.6 C359.3 445.1 361 445.4 362.5 445.5 C363.9 445.7 365.2 445.6 366.4 445.8 C367.7 445.9 368.8 445.9 370 446.3 C371.3 446.7 372.8 447.1 374 448 C375.2 448.8 376.3 450.1 377.4 451.3 C378.4 452.5 379.3 453.9 380.3 455.2 C381.3 456.5 382.3 457.7 383.2 459.1 C384.1 460.4 384.9 461.8 385.6 463.3 C386.3 464.7 386.8 466.2 387.4 467.7 C388 469.2 388.6 470.7 389.1 472.3 C389.6 473.8 390.1 475.3 390.4 476.9 C390.8 478.5 391 480.1 391.2 481.7 C391.4 483.3 391.5 485 391.5 486.7 C391.5 488.3 391.3 489.9 391.1 491.5 C390.9 493.1 390.4 494.6 390.2 496.2 C389.9 497.8 389.8 499.4 389.6 501 C389.4 502.6 389.1 504.2 389.1 505.9 C389 507.5 389.2 509.2 389.3 510.8 C389.4 512.4 389.5 514.1 389.7 515.7 C389.9 517.4 390.2 519 390.4 520.6 C390.7 522.3 390.9 523.9 391.1 525.5 C391.3 527.1 391.5 528.8 391.8 530.4 C392.1 532 392.4 533.6 392.7 535.1 C393 536.7 393.6 539 393.8 539.8" stroke="#222" stroke-width="2.1"/>
<path d="M321.6 526 C321.6 525.1 321.2 522.6 321.2 520.9 C321.2 519.2 321.4 517.3 321.5 515.6 C321.5 513.8 321.8 512 321.7 510.2 C321.7 508.4 321.4 506.6 321.2 504.8 C321 503 320.7 501.2 320.5 499.4 C320.2 497.6 319.9 495.8 319.5 494 C319.2 492.2 319 490.3 318.6 488.6 C318.2 486.8 317.6 485.1 317.1 483.3 C316.6 481.6 315.9 479.9 315.5 478.1 C315 476.3 314.5 474.6 314.1 472.8 C313.8 471 313.6 469.2 313.5 467.4 C313.5 465.6 313.6 463.8 313.8 462 C314.1 460.2 314.5 458.4 315.1 456.8 C315.8 455.1 316.9 453.6 317.9 452.1 C318.8 450.5 319.9 449 320.9 447.6 C322 446.1 323.1 444.6 324.3 443.2 C325.5 441.9 326.9 440.7 328.3 439.5 C329.6 438.3 331 437 332.5 436.1 C334 435.1 335.8 434.2 337.5 433.8 C339.1 433.4 340.8 433.4 342.4 433.7 C344.1 434 345.6 434.8 347.2 435.5 C348.7 436.1 350.2 436.8 351.7 437.7 C353.3 438.5 354.7 439.8 356.3 440.4 C357.9 441 359.8 441.3 361.4 441.3 C363 441.3 364.4 440.7 365.8 440.4 C367.2 440.2 368.3 439.7 369.7 439.8 C371.2 439.8 372.9 440.1 374.4 440.8 C375.8 441.6 377.2 442.9 378.4 444.2 C379.7 445.4 380.8 446.8 382 448.2 C383.2 449.5 384.4 450.8 385.5 452.3 C386.5 453.7 387.5 455.2 388.4 456.7 C389.3 458.3 390.1 459.9 390.9 461.5 C391.6 463.1 392.4 464.7 393.1 466.3 C393.7 468 394.4 469.7 394.9 471.4 C395.4 473.1 395.9 474.8 396.1 476.6 C396.4 478.4 396.6 480.3 396.6 482.1 C396.5 483.8 396.3 485.6 396 487.3 C395.6 489.1 394.9 490.7 394.5 492.5 C394.1 494.2 393.8 496 393.4 497.7 C393.1 499.5 392.6 501.2 392.5 503 C392.4 504.8 392.6 506.7 392.8 508.5 C392.9 510.3 393 512.1 393.2 513.9 C393.4 515.7 393.6 517.6 393.8 519.4 C394 521.2 394.2 523 394.4 524.8 C394.6 526.6 394.8 528.4 395 530.2 C395.2 532 395.4 533.8 395.6 535.5 C395.9 537.3 396.2 539.9 396.4 540.8" stroke="#222" stroke-width="2.1"/>
<path d="M319.1 528.1 C318.9 527.1 318.2 524.4 318 522.5 C317.9 520.6 318 518.6 318 516.6 C317.9 514.7 318 512.7 317.9 510.7 C317.8 508.8 317.5 506.8 317.2 504.8 C317 502.8 316.8 500.8 316.5 498.9 C316.1 496.9 315.8 494.9 315.4 492.9 C315.1 491 314.8 489 314.3 487 C313.9 485.1 313.2 483.2 312.6 481.3 C312 479.4 311.3 477.6 310.7 475.6 C310.1 473.7 309.6 471.8 309.2 469.9 C308.9 467.9 308.5 465.9 308.5 463.9 C308.4 461.9 308.6 460 308.9 458.1 C309.2 456.1 309.8 454.2 310.5 452.4 C311.3 450.5 312.3 448.8 313.4 447.1 C314.4 445.4 315.6 443.8 316.7 442.1 C317.8 440.5 318.9 438.8 320.3 437.3 C321.6 435.9 323.2 434.6 324.7 433.3 C326.2 431.9 327.6 430.5 329.3 429.5 C330.9 428.4 332.9 427.3 334.7 427 C336.5 426.6 338.4 426.9 340.1 427.4 C341.9 427.9 343.5 429 345.1 429.9 C346.8 430.9 348.3 431.9 349.9 432.9 C351.5 434 353 435.6 354.7 436.3 C356.5 436.9 358.6 437.2 360.3 437 C362 436.8 363.6 435.8 365.1 435.1 C366.6 434.5 367.9 433.5 369.5 433.2 C371.1 433 373.1 433.1 374.7 433.7 C376.4 434.4 378 435.8 379.5 437 C381 438.3 382.3 439.8 383.7 441.2 C385.1 442.6 386.5 444 387.8 445.5 C389 447 390.2 448.6 391.3 450.2 C392.4 451.8 393.4 453.5 394.3 455.2 C395.3 456.9 396.2 458.6 397.1 460.4 C397.9 462.2 398.7 464 399.4 465.8 C400.1 467.7 400.7 469.6 401.1 471.5 C401.4 473.4 401.7 475.5 401.6 477.5 C401.6 479.4 401.3 481.3 400.8 483.2 C400.3 485.1 399.4 486.9 398.8 488.7 C398.2 490.6 397.8 492.5 397.3 494.4 C396.8 496.3 396.2 498.2 396 500.2 C395.8 502.1 396.1 504.2 396.2 506.2 C396.3 508.1 396.5 510.1 396.6 512.1 C396.8 514.1 397 516.1 397.2 518.1 C397.4 520.1 397.6 522.1 397.7 524.1 C397.9 526 398.2 528 398.3 530 C398.4 532 398.5 533.9 398.6 535.9 C398.7 537.8 398.9 540.7 398.9 541.7" stroke="#222" stroke-width="2.1"/>
<path d="M316.5 530.1 C316.2 529.1 315.2 526.2 314.9 524.2 C314.5 522.1 314.6 519.9 314.5 517.7 C314.3 515.6 314.2 513.4 314 511.3 C313.8 509.1 313.6 507 313.3 504.8 C313 502.7 312.8 500.5 312.4 498.4 C312.1 496.2 311.7 494.1 311.3 491.9 C310.9 489.8 310.6 487.6 310.1 485.5 C309.6 483.4 308.8 481.4 308.1 479.3 C307.4 477.3 306.6 475.2 306 473.2 C305.3 471.1 304.7 469 304.3 466.9 C303.9 464.8 303.5 462.6 303.4 460.4 C303.4 458.3 303.6 456.2 304 454.1 C304.4 452 305.1 449.9 305.9 447.9 C306.8 445.9 307.8 444 308.9 442.2 C310 440.3 311.2 438.5 312.5 436.7 C313.7 434.9 314.8 433.1 316.3 431.4 C317.7 429.8 319.4 428.5 321 427 C322.7 425.6 324.2 424 326 422.8 C327.8 421.7 330 420.5 332 420.2 C333.9 419.9 336 420.3 337.8 421 C339.7 421.8 341.4 423.2 343.1 424.4 C344.8 425.6 346.5 426.9 348.2 428.2 C349.8 429.5 351.4 431.3 353.2 432.1 C355 432.8 357.3 433.1 359.2 432.7 C361.1 432.3 362.8 430.8 364.4 429.8 C366.1 428.8 367.4 427.2 369.2 426.7 C371 426.2 373.2 426.1 375.1 426.6 C377 427.1 378.9 428.6 380.6 429.9 C382.3 431.1 383.8 432.7 385.4 434.2 C387 435.6 388.6 437.1 390 438.7 C391.5 440.2 392.8 442 394.1 443.7 C395.4 445.4 396.6 447.1 397.8 448.9 C398.9 450.7 400 452.6 401.1 454.5 C402.1 456.4 403.1 458.3 403.9 460.3 C404.7 462.3 405.5 464.3 406 466.4 C406.4 468.5 406.7 470.7 406.7 472.8 C406.6 475 406.2 477 405.7 479 C405.1 481.1 403.9 483 403.1 485 C402.4 487 401.8 489 401.2 491.1 C400.5 493.2 399.7 495.2 399.4 497.3 C399.2 499.5 399.6 501.7 399.7 503.8 C399.8 506 400 508.2 400.1 510.3 C400.3 512.5 400.4 514.7 400.6 516.8 C400.8 519 400.9 521.2 401.1 523.3 C401.2 525.5 401.5 527.7 401.5 529.8 C401.6 532 401.5 534.1 401.5 536.3 C401.5 538.4 401.5 541.6 401.5 542.7" stroke="#222" stroke-width="2.1"/>
<path d="M314.1 532.1 C313.8 531 312.4 527.9 311.9 525.7 C311.4 523.5 311.4 521 311.2 518.7 C310.9 516.4 310.7 514.1 310.4 511.8 C310.2 509.5 309.9 507.1 309.6 504.8 C309.3 502.5 309.1 500.2 308.7 497.9 C308.3 495.6 307.8 493.3 307.4 491 C307 488.7 306.7 486.3 306.1 484.1 C305.5 481.8 304.7 479.6 303.9 477.4 C303.2 475.2 302.2 473.1 301.5 470.9 C300.8 468.6 300.2 466.4 299.7 464.1 C299.2 461.8 298.8 459.5 298.7 457.2 C298.7 454.9 298.9 452.6 299.3 450.4 C299.8 448.2 300.8 445.9 301.6 443.8 C302.5 441.6 303.5 439.5 304.7 437.5 C305.8 435.5 307.2 433.6 308.5 431.6 C309.8 429.7 311 427.7 312.5 425.9 C314 424.2 315.9 422.7 317.7 421.2 C319.4 419.6 321 417.9 323 416.6 C324.9 415.4 327.3 414 329.4 413.8 C331.5 413.5 333.7 414.2 335.7 415.1 C337.7 416 339.4 417.8 341.2 419.2 C343 420.7 344.7 422.3 346.5 423.8 C348.2 425.3 349.8 427.4 351.8 428.2 C353.7 429 356.2 429.3 358.2 428.7 C360.2 428.2 362 426.2 363.8 424.8 C365.6 423.5 367 421.4 368.9 420.6 C370.9 419.8 373.3 419.5 375.4 419.9 C377.5 420.3 379.7 421.9 381.6 423.2 C383.5 424.5 385.2 426.1 387 427.6 C388.7 429.1 390.5 430.6 392.2 432.3 C393.8 433.9 395.3 435.7 396.8 437.5 C398.2 439.3 399.7 441.2 401 443 C402.4 444.9 403.6 446.9 404.8 448.9 C406 450.9 407.1 453 408.1 455.1 C409.1 457.2 410 459.3 410.6 461.6 C411.1 463.8 411.5 466.3 411.4 468.5 C411.4 470.8 410.9 473 410.2 475.2 C409.5 477.3 408.1 479.3 407.2 481.5 C406.3 483.6 405.5 485.8 404.8 488 C404 490.2 403 492.4 402.7 494.7 C402.4 496.9 402.8 499.3 402.9 501.6 C403 504 403.2 506.3 403.4 508.6 C403.5 511 403.6 513.3 403.8 515.6 C403.9 518 404 520.3 404.2 522.6 C404.3 525 404.5 527.3 404.6 529.6 C404.6 532 404.3 534.3 404.2 536.6 C404.1 538.9 403.9 542.4 403.9 543.6" stroke="#222" stroke-width="2.1"/>
<path d="M332 500.8 L306.9 497.7" stroke="#fff" stroke-width="1.7"/>
<path d="M328.3 481.3 L297.5 462.8" stroke="#fff" stroke-width="1.7"/>
<path d="M333.1 463.1 L306.6 429.3" stroke="#fff" stroke-width="1.7"/>
<path d="M345.4 453.3 L328.2 410.8" stroke="#fff" stroke-width="1.7"/>
<path d="M364.5 453.6 L357.7 426.9" stroke="#fff" stroke-width="1.7"/>
<path d="M375.4 464.7 L382.1 420" stroke="#fff" stroke-width="1.7"/>
<path d="M381.6 483.4 L406.6 446.3" stroke="#fff" stroke-width="1.7"/>
<path d="M382.1 503.2 L409.1 479.8" stroke="#fff" stroke-width="1.7"/>
<path d="M384.1 523 L405.3 515.1" stroke="#fff" stroke-width="1.7"/>
<path d="M328.3 482.5 L297.5 464" stroke="#222" stroke-width="0.9"/>
<path d="M382.1 504.4 L409.1 481" stroke="#222" stroke-width="0.9"/>
</g>
<path d="M329 520 C329.7 518 332.7 512.3 333 508 C333.3 503.7 331.8 498.7 331 494 C330.2 489.3 328.5 484 328 480 C327.5 476 327 473 328 470 C329 467 332 464.3 334 462 C336 459.7 337.7 457.7 340 456 C342.3 454.3 345.3 452.8 348 452 C350.7 451.2 353 450.7 356 451 C359 451.3 363 452.2 366 454 C369 455.8 371.7 458.7 374 462 C376.3 465.3 378.7 470 380 474 C381.3 478 381.7 481.3 382 486 C382.3 490.7 381.8 496.7 382 502 C382.2 507.3 382.3 513 383 518 C383.7 523 385 528.7 386 532 C387 535.3 388.5 537 389 538" fill="none" stroke="#fff" stroke-width="3.2" />
<path d="M329 520 C329.7 518 332.7 512.3 333 508 C333.3 503.7 331.8 498.7 331 494 C330.2 489.3 328.5 484 328 480 C327.5 476 327 473 328 470 C329 467 332 464.3 334 462 C336 459.7 337.7 457.7 340 456 C342.3 454.3 345.3 452.8 348 452 C350.7 451.2 353 450.7 356 451 C359 451.3 363 452.2 366 454 C369 455.8 371.7 458.7 374 462 C376.3 465.3 378.7 470 380 474 C381.3 478 381.7 481.3 382 486 C382.3 490.7 381.8 496.7 382 502 C382.2 507.3 382.3 513 383 518 C383.7 523 385 528.7 386 532 C387 535.3 388.5 537 389 538" fill="none" stroke="#2b2b2b" stroke-width="1.0" />
<path d="M331.2 520 C331.9 518 334.9 512.3 335.2 508 C335.5 503.7 334 498.7 333.2 494 C332.4 489.3 330.7 483.6 330.2 480 C329.7 476.4 329.2 474.8 330.2 472.2 C331.2 469.6 334.2 466.5 336.2 464.2 C338.2 461.9 339.9 459.9 342.2 458.2 C344.5 456.5 348.3 455 350.2 454.2 C352.1 453.4 351.5 452.9 353.8 453.2 C356.1 453.5 360.8 454.4 363.8 456.2 C366.8 458 369.5 461.2 371.8 464.2 C374.1 467.2 376.5 470.4 377.8 474 C379.1 477.6 379.5 481.3 379.8 486 C380.1 490.7 379.6 496.7 379.8 502 C380 507.3 380.1 513 380.8 518 C381.5 523 382.8 528.7 383.8 532 C384.8 535.3 386.3 537 386.8 538" fill="none" stroke="#2b2b2b" stroke-width="0.9" />
<path d="M372 458 L384 449 L392 458 L381 468 Z" fill="#fff" stroke="#2b2b2b" stroke-width="0.9" />
<path d="M324 452 L334 446 L338 456 L329 463 Z" fill="#fff" stroke="#2b2b2b" stroke-width="0.9" />
<ellipse cx="381" cy="458" rx="1.2" ry="1.2" fill="none" stroke="#2b2b2b" stroke-width="0.7" />
<ellipse cx="331" cy="455" rx="1.2" ry="1.2" fill="none" stroke="#2b2b2b" stroke-width="0.7" />
<path d="M467.8 424 L464 433" stroke="#1c1c1c" stroke-width="4.2" fill="none" stroke-linecap="butt" stroke-dasharray="1.9 0.45"/>
<path d="M469 421 L467.8 424" stroke="#1c1c1c" stroke-width="6.2" fill="none" stroke-linecap="round"/>
<path d="M469 421 L468.1 423.1" stroke="#888" stroke-width="1.2000000000000002" fill="none" stroke-linecap="round"/>
<path d="M542.8 444 L539 453" stroke="#1c1c1c" stroke-width="4.2" fill="none" stroke-linecap="butt" stroke-dasharray="1.9 0.45"/>
<path d="M544 441 L542.8 444" stroke="#1c1c1c" stroke-width="6.2" fill="none" stroke-linecap="round"/>
<path d="M544 441 L543.1 443.1" stroke="#888" stroke-width="1.2000000000000002" fill="none" stroke-linecap="round"/>
<path d="M277.1 452 L281 462" stroke="#1c1c1c" stroke-width="4.2" fill="none" stroke-linecap="butt" stroke-dasharray="1.9 0.45"/>
<path d="M276 449 L277.1 452" stroke="#1c1c1c" stroke-width="6.2" fill="none" stroke-linecap="round"/>
<path d="M276 449 L276.8 451.1" stroke="#888" stroke-width="1.2000000000000002" fill="none" stroke-linecap="round"/>
<path d="M587.3 286.7 L581 297" stroke="#1c1c1c" stroke-width="4.2" fill="none" stroke-linecap="butt" stroke-dasharray="1.9 0.45"/>
<path d="M589 284 L587.3 286.7" stroke="#1c1c1c" stroke-width="6.2" fill="none" stroke-linecap="round"/>
<path d="M589 284 L587.8 285.9" stroke="#888" stroke-width="1.2000000000000002" fill="none" stroke-linecap="round"/>
<path d="M609.3 277.7 L603 288" stroke="#1c1c1c" stroke-width="4.2" fill="none" stroke-linecap="butt" stroke-dasharray="1.9 0.45"/>
<path d="M611 275 L609.3 277.7" stroke="#1c1c1c" stroke-width="6.2" fill="none" stroke-linecap="round"/>
<path d="M611 275 L609.8 276.9" stroke="#888" stroke-width="1.2000000000000002" fill="none" stroke-linecap="round"/>
<path d="M616.3 304.7 L610 315" stroke="#1c1c1c" stroke-width="4.2" fill="none" stroke-linecap="butt" stroke-dasharray="1.9 0.45"/>
<path d="M618 302 L616.3 304.7" stroke="#1c1c1c" stroke-width="6.2" fill="none" stroke-linecap="round"/>
<path d="M618 302 L616.8 303.9" stroke="#888" stroke-width="1.2000000000000002" fill="none" stroke-linecap="round"/>
<path d="M633.3 296.7 L627 307" stroke="#1c1c1c" stroke-width="4.2" fill="none" stroke-linecap="butt" stroke-dasharray="1.9 0.45"/>
<path d="M635 294 L633.3 296.7" stroke="#1c1c1c" stroke-width="6.2" fill="none" stroke-linecap="round"/>
<path d="M635 294 L633.8 295.9" stroke="#888" stroke-width="1.2000000000000002" fill="none" stroke-linecap="round"/>
<path d="M526.5 298.5 L532 305 L541 306.5" fill="none" stroke="#222" stroke-width="6.6" stroke-linecap="butt"/>
<path d="M528.5 300.8 L532.5 304.6 L535.5 305.3" fill="none" stroke="#d0d0d0" stroke-width="2.4" stroke-linecap="butt"/>
<g transform="translate(585 335) rotate(30)" stroke-linejoin="round">
<path d="M-36 0 C-35.6 -2.1 -34.7 -3.2 -32.8 -5 C-30.9 -6.8 -28.7 -9.3 -24.5 -11 C-20.3 -12.7 -13.2 -14.1 -7.5 -15 C-1.8 -15.9 4.3 -16.6 9.5 -16.6 C14.7 -16.6 19.7 -16.1 23.5 -15 C27.3 -13.9 30.5 -12.3 32.5 -10 C34.5 -7.7 36.2 -3.5 35.5 -1 C34.8 1.5 31.6 3.1 28 5 C24.4 6.9 19 8.9 14.2 10.6 C9.4 12.2 4.9 14.2 -0.8 14.9 C-6.5 15.6 -15.1 15.4 -20 14.9 C-24.9 14.4 -28 12.9 -30.5 11.7 C-33 10.4 -34 9.3 -34.9 7.4 C-35.8 5.5 -36.4 2.1 -36 0 Z" fill="#2c2c2c" stroke="#1c1c1c" stroke-width="1.2"/>
<path d="M-29 -3.1 L-21.5 -10.3" stroke="#e2e2e2" stroke-width="1.5" fill="none"/>
<path d="M-23.6 -3.8 L-16.1 -11" stroke="#e2e2e2" stroke-width="1.5" fill="none"/>
<path d="M-18.2 -4.5 L-10.7 -11.7" stroke="#e2e2e2" stroke-width="1.5" fill="none"/>
<path d="M-12.8 -5.2 L-5.3 -12.4" stroke="#e2e2e2" stroke-width="1.5" fill="none"/>
<path d="M-7.4 -5.9 L0.1 -13.1" stroke="#e2e2e2" stroke-width="1.5" fill="none"/>
<path d="M-2 -6.6 L5.5 -13.8" stroke="#e2e2e2" stroke-width="1.5" fill="none"/>
<path d="M3.4 -7.3 L10.9 -14.5" stroke="#e2e2e2" stroke-width="1.5" fill="none"/>
<path d="M8.8 -8 L16.3 -15.2" stroke="#e2e2e2" stroke-width="1.5" fill="none"/>
<path d="M14.2 -8.7 L21.7 -15.9" stroke="#e2e2e2" stroke-width="1.5" fill="none"/>
<path d="M19.6 -9.4 L27.1 -16.6" stroke="#e2e2e2" stroke-width="1.5" fill="none"/>
<path d="M25 -10.1 L32.5 -17.3" stroke="#e2e2e2" stroke-width="1.5" fill="none"/>
<path d="M-31 -2.5 L-10 -8.5 L12 -11 L31 -7.5" stroke="#efefef" stroke-width="1.5" fill="none"/>
<path d="M-20 -12 L-2 -15 L14 -15.5" stroke="#ddd" stroke-width="1.1" fill="none"/>
<path d="M-33.5 1.2 C-20 -2.8 8 -7.8 33.5 -3.8" stroke="#111" stroke-width="1.5" fill="none"/>
<path d="M-24.6 12.4 L-24.6 3 Q-24 1 -21 0.8 L-18.6 0.6 L-18.6 11.2 Z" fill="#f6f6f6" stroke="none"/>
<path d="M-15.8 11.4 L-15.8 2 Q-15.2 0.1 -12.2 -0.2 L-9.8 -0.4 L-9.8 10.2 Z" fill="#f6f6f6" stroke="none"/>
<path d="M-7 10.5 L-7 1.1 Q-6.4 -0.9 -3.4 -1.1 L-1 -1.3 L-1 9.3 Z" fill="#f6f6f6" stroke="none"/>
<path d="M1.6 9.6 L1.6 0.2 Q2.2 -1.8 5.2 -2 L7.6 -2.2 L7.6 8.4 Z" fill="#f6f6f6" stroke="none"/>
<path d="M9.4 8.6 L9.4 -0.8 Q10 -2.8 13 -3 L15.4 -3.2 L15.4 7.4 Z" fill="#f6f6f6" stroke="none"/>
<path d="M-31.5 4 L-31.5 10 M-28.2 3 L-28.2 11.8" stroke="#e4e4e4" stroke-width="1.4" fill="none"/>
<ellipse cx="23.5" cy="0.6" rx="4" ry="4.4" fill="#f4f4f4" stroke="#1c1c1c" stroke-width="1"/>
<path d="M17.5 5 L31 -0.6" stroke="#e0e0e0" stroke-width="1.1" fill="none"/>
<path d="M18 8.2 L29.5 3.6" stroke="#ccc" stroke-width="0.9" fill="none"/>
</g>
<path d="M532 344 L545 344.9 L548.5 343.5 L550 345.3 L563 346.2 L577.9 355.4 L581.3 355.8 L581.5 357.7 L596 366.7 L583 365.8 L579.5 367.2 L578 365.4 L565 364.5 L550.1 355.3 L546.7 354.9 L546.5 353 Z" fill="#fff" stroke="#2b2b2b" stroke-width="1.0" />
<path d="M552.5 351.3 L563.6 352.1 L575.5 359.4 L564.4 358.6 Z" fill="none" stroke="#2b2b2b" stroke-width="0.9" />
<ellipse cx="535.8" cy="345.4" rx="1.3" ry="0.9" transform="rotate(20 535.8 345.4)" fill="#555" stroke="#2b2b2b" stroke-width="0.5" />
<ellipse cx="592.2" cy="365.3" rx="1.3" ry="0.9" transform="rotate(20 592.2 365.3)" fill="#555" stroke="#2b2b2b" stroke-width="0.5" />
<path d="M556 350 L566 356" fill="none" stroke="#1e1e1e" stroke-width="1.5" />
<path d="M517 358.5 L516.5 361.1 L549.5 381.6 L580.5 383.8 L581 381.2 Z" fill="#fff" stroke="#2b2b2b" stroke-width="1.0" />
<path d="M517 358.5 L530 359.4 L533.5 358 L535 359.8 L548 360.7 L562.9 369.9 L566.3 370.3 L566.5 372.2 L581 381.2 L568 380.3 L564.5 381.7 L563 379.9 L550 379 L535.1 369.8 L531.7 369.4 L531.5 367.5 Z" fill="#fff" stroke="#2b2b2b" stroke-width="1.0" />
<ellipse cx="520.8" cy="359.9" rx="1.3" ry="0.9" transform="rotate(20 520.8 359.9)" fill="#555" stroke="#2b2b2b" stroke-width="0.5" />
<ellipse cx="577.2" cy="379.8" rx="1.3" ry="0.9" transform="rotate(20 577.2 379.8)" fill="#555" stroke="#2b2b2b" stroke-width="0.5" />
<ellipse cx="541" cy="365" rx="1.1" ry="0.8" fill="#1e1e1e" stroke="#2b2b2b" stroke-width="0" />
<ellipse cx="545" cy="366" rx="1.1" ry="0.8" fill="#1e1e1e" stroke="#2b2b2b" stroke-width="0" />
<ellipse cx="543.5" cy="368" rx="1.1" ry="0.8" fill="#1e1e1e" stroke="#2b2b2b" stroke-width="0" />
<ellipse cx="548" cy="369.5" rx="1.1" ry="0.8" fill="#1e1e1e" stroke="#2b2b2b" stroke-width="0" />
<ellipse cx="556" cy="371" rx="1.1" ry="0.8" fill="#1e1e1e" stroke="#2b2b2b" stroke-width="0" />
<ellipse cx="559" cy="373.5" rx="1.1" ry="0.8" fill="#1e1e1e" stroke="#2b2b2b" stroke-width="0" />
<ellipse cx="562" cy="374" rx="1.1" ry="0.8" fill="#1e1e1e" stroke="#2b2b2b" stroke-width="0" />
<ellipse cx="557" cy="375.5" rx="1.1" ry="0.8" fill="#1e1e1e" stroke="#2b2b2b" stroke-width="0" />
<path d="M510 378 L523 378.9 L526.5 377.5 L528 379.3 L541 380.2 L555.9 389.4 L559.3 389.8 L559.5 391.7 L574 400.7 L561 399.8 L557.5 401.2 L556 399.4 L543 398.5 L528.1 389.3 L524.7 388.9 L524.5 387 Z" fill="#fff" stroke="#2b2b2b" stroke-width="1.0" />
<path d="M530.5 385.3 L541.6 386.1 L553.5 393.4 L542.4 392.6 Z" fill="none" stroke="#2b2b2b" stroke-width="0.9" />
<ellipse cx="513.8" cy="379.4" rx="1.3" ry="0.9" transform="rotate(20 513.8 379.4)" fill="#555" stroke="#2b2b2b" stroke-width="0.5" />
<ellipse cx="570.2" cy="399.3" rx="1.3" ry="0.9" transform="rotate(20 570.2 399.3)" fill="#555" stroke="#2b2b2b" stroke-width="0.5" />
<path d="M519 402.5 C519 401.9 523.3 402.6 526 403.5 C528.7 404.4 532.1 406.6 535 408 C537.9 409.4 543.4 411.6 543.6 412.2 C543.8 412.8 538.9 412.4 536 411.5 C533.1 410.6 528.8 408.5 526 407 C523.2 405.5 519 403.1 519 402.5 Z" fill="#fff" stroke="#2b2b2b" stroke-width="0.9" />
<path d="M522.5 421.5 L524 420" fill="none" stroke="#2b2b2b" stroke-width="1.4" />
<path d="M527.5 421.5 L529 420" fill="none" stroke="#2b2b2b" stroke-width="1.4" />
<path d="M479 449 L482 456 L497 464 L510 464.5 L515 458 L486 441 Z" fill="#4a4a4a" stroke="#1e1e1e" stroke-width="1.3" />
<path d="M485 453 L501 460.5 M483 449.5 L499 457.5" fill="none" stroke="#ddd" stroke-width="1.0" />
<path d="M474.6 445.5 Q494.9 446.4 521.6 469.5 Q498.1 469.2 474.6 445.5 Z" fill="#ddd" stroke="#1e1e1e" stroke-width="1.5" />
<path d="M478.2 439.3 Q498.5 440.2 525.2 463.3 Q501.7 463 478.2 439.3 Z" fill="#fff" stroke="#1e1e1e" stroke-width="1.5" />
<path d="M481.8 433.1 Q502.1 434 528.8 457.1 Q505.3 456.8 481.8 433.1 Z" fill="#fff" stroke="#1e1e1e" stroke-width="1.5" />
<path d="M485.4 426.9 Q505.7 427.8 532.4 450.9 Q508.9 450.6 485.4 426.9 Z" fill="#fff" stroke="#1e1e1e" stroke-width="1.5" />
<path d="M489 420.7 Q509.3 421.6 536 444.7 Q512.5 444.4 489 420.7 Z" fill="#fff" stroke="#1e1e1e" stroke-width="1.5" />
<path d="M501 424 L508 421.5 L525.5 432 L519 437.5 Z" fill="#fff" stroke="#2b2b2b" stroke-width="1.2" />
<path d="M504 425 L509 423.5 L522 431.5 L518 435.5 Z" fill="none" stroke="#2b2b2b" stroke-width="0.9" />
<g transform="rotate(38 483 471)"><rect x="465" y="466.5" width="36" height="9.5" rx="4.7" fill="#fff" stroke="#2b2b2b" stroke-width="1"/><rect x="467.5" y="468.5" width="31" height="5.5" rx="2.7" fill="none" stroke="#2b2b2b" stroke-width="0.9"/></g>
<ellipse cx="473" cy="484" rx="11" ry="3.6" transform="rotate(40 473 484)" fill="none" stroke="#262626" stroke-width="2.0" />
<ellipse cx="463" cy="497" rx="11" ry="3.6" transform="rotate(40 463 497)" fill="none" stroke="#262626" stroke-width="2.0" />
<ellipse cx="452" cy="509.5" rx="11" ry="3.6" transform="rotate(40 452 509.5)" fill="none" stroke="#262626" stroke-width="2.0" />
<ellipse cx="436" cy="535" rx="12" ry="5" transform="rotate(28 436 535)" fill="#fff" stroke="#2b2b2b" stroke-width="1.0" />
<path d="M453.6 528.7 L446.6 540.7 L425.4 529.3 L432.4 517.3 Z" fill="#fff" stroke="none" stroke-width="0" />
<path d="M453.6 528.7 L446.6 540.7" fill="none" stroke="#2b2b2b" stroke-width="1.0" />
<path d="M425.4 529.3 L432.4 517.3" fill="none" stroke="#2b2b2b" stroke-width="1.0" />
<ellipse cx="443" cy="523" rx="12" ry="5" transform="rotate(28 443 523)" fill="#fff" stroke="#2b2b2b" stroke-width="1.0" />
<path d="M431.5 519 Q440 533 454.5 529 L452.5 533.5 Q438 537 429.5 523.5 Z" fill="#222" stroke="#2b2b2b" stroke-width="0.5" />
<path d="M420 516 L422 517.5" fill="none" stroke="#2b2b2b" stroke-width="1.2" />
<ellipse cx="450.5" cy="545" rx="2.2" ry="3.4" transform="rotate(30 450.5 545)" fill="#fff" stroke="#2b2b2b" stroke-width="1.0" />
<path d="M457.6 554.8 L448.6 547.8 L452.4 542.2 L461.4 549.2 Z" fill="#fff" stroke="none" stroke-width="0" />
<path d="M457.6 554.8 L448.6 547.8" fill="none" stroke="#2b2b2b" stroke-width="1.0" />
<path d="M452.4 542.2 L461.4 549.2" fill="none" stroke="#2b2b2b" stroke-width="1.0" />
<ellipse cx="459.5" cy="552" rx="2.2" ry="3.4" transform="rotate(30 459.5 552)" fill="#fff" stroke="#2b2b2b" stroke-width="1.0" />
<ellipse cx="460" cy="552.5" rx="2.2" ry="3.2" transform="rotate(30 460 552.5)" fill="#222" stroke="#2b2b2b" stroke-width="1.0" />
<path d="M466 556 L467.5 558" fill="none" stroke="#2b2b2b" stroke-width="1.2" />
<path d="M418.7 554.1 L392 590 L399.4 595.2 L424.5 558.3 Z" fill="#fff" stroke="#1e1e1e" stroke-width="1.3" />
<path d="M418.7 554.1 L392 590 L395.5 592.4 L421.4 556 Z" fill="#1e1e1e" stroke="#1e1e1e" stroke-width="0.6" />
<path d="M416.7 560 L396.4 588.2" stroke="#ccc" stroke-width="1" stroke-dasharray="2 2.5" fill="none"/>
<ellipse cx="395.3" cy="596" rx="9" ry="6.2" transform="rotate(125.4 395.3 596)" fill="#fff" stroke="#2b2b2b" stroke-width="1.2" />
<ellipse cx="393.3" cy="594.6" rx="8.4" ry="5.4" transform="rotate(125.4 393.3 594.6)" fill="#2a2a2a" stroke="#1e1e1e" stroke-width="1.2" />
<path d="M396.3 591.8 L391.6 598.3" stroke="#bbb" stroke-width="1.6" stroke-dasharray="1.6 1.6" fill="none"/>
<path d="M388.5 601 L384.4 606.7" stroke="#1e1e1e" stroke-width="1.6" fill="none"/>
<ellipse cx="423.4" cy="555.7" rx="5.6" ry="5.6" fill="#fff" stroke="#2b2b2b" stroke-width="1.2" />
<ellipse cx="422" cy="554.6" rx="5.2" ry="5.2" fill="#aaa" stroke="#1e1e1e" stroke-width="2.2" />
<path d="M364.6 557.7 L382.1 547.7 L387.9 560.3 L370.4 570.3 Z" fill="#fff" stroke="none" stroke-width="0" />
<path d="M364.6 557.7 L382.1 547.7" fill="none" stroke="#2b2b2b" stroke-width="1.0" />
<path d="M387.9 560.3 L370.4 570.3" fill="none" stroke="#2b2b2b" stroke-width="1.0" />
<ellipse cx="367.5" cy="564" rx="5" ry="7" transform="rotate(-20 367.5 564)" fill="#fff" stroke="#2b2b2b" stroke-width="1.0" />
<path d="M382.1 547.7 A5 7 -20 0 1 387.9 560.3" fill="#fff" stroke="#2b2b2b" stroke-width="1.0" />
<ellipse cx="367.5" cy="564" rx="5" ry="7" transform="rotate(-20 367.5 564)" fill="#fff" stroke="#2b2b2b" stroke-width="1.0" />
<ellipse cx="368" cy="564.5" rx="1.3" ry="1.3" fill="#1e1e1e" stroke="#2b2b2b" stroke-width="0" />
<path d="M443 595.5 L463.5 587.5 L468.5 600.5 L448 608.5 Z" fill="#fff" stroke="none" stroke-width="0" />
<path d="M443 595.5 L463.5 587.5" fill="none" stroke="#2b2b2b" stroke-width="1.0" />
<path d="M468.5 600.5 L448 608.5" fill="none" stroke="#2b2b2b" stroke-width="1.0" />
<ellipse cx="445.5" cy="602" rx="5" ry="7" transform="rotate(-20 445.5 602)" fill="#fff" stroke="#2b2b2b" stroke-width="1.0" />
<path d="M463.5 587.5 A5 7 -20 0 1 468.5 600.5" fill="#fff" stroke="#2b2b2b" stroke-width="1.0" />
<ellipse cx="445.5" cy="602" rx="5" ry="7" transform="rotate(-20 445.5 602)" fill="#fff" stroke="#2b2b2b" stroke-width="1.0" />
<ellipse cx="446" cy="602.5" rx="1.3" ry="1.3" fill="#1e1e1e" stroke="#2b2b2b" stroke-width="0" />
<path d="M441 602 L445 602" fill="none" stroke="#2b2b2b" stroke-width="1.2" />
<ellipse cx="348" cy="581" rx="2.4" ry="2.4" fill="#1e1e1e" stroke="#2b2b2b" stroke-width="0" />
<ellipse cx="431" cy="606" rx="2.2" ry="2.6" fill="#1e1e1e" stroke="#2b2b2b" stroke-width="0" />
<ellipse cx="445.5" cy="634" rx="6.5" ry="9" transform="rotate(-8 445.5 634)" fill="#fff" stroke="#2b2b2b" stroke-width="1.0" />
<ellipse cx="443.5" cy="634" rx="6.5" ry="9" transform="rotate(-8 443.5 634)" fill="#fff" stroke="#2b2b2b" stroke-width="1.0" />
<ellipse cx="443.5" cy="634" rx="2.6" ry="3.8" transform="rotate(-8 443.5 634)" fill="#fff" stroke="#2b2b2b" stroke-width="1.0" />
<path d="M447 642.5 L449 642 M447.5 626 L449.5 626.5" fill="none" stroke="#2b2b2b" stroke-width="0.8" />
<ellipse cx="471.5" cy="629.5" rx="7" ry="9.5" transform="rotate(-8 471.5 629.5)" fill="#fff" stroke="#2b2b2b" stroke-width="1.0" />
<ellipse cx="469" cy="629.5" rx="7" ry="9.5" transform="rotate(-8 469 629.5)" fill="#fff" stroke="#222" stroke-width="2.4" />
<ellipse cx="469" cy="629.5" rx="3.4" ry="5" transform="rotate(-8 469 629.5)" fill="#fff" stroke="#2b2b2b" stroke-width="1.6" />
<path d="M309.7 695.2 C309.8 693.5 311 691.2 312 690 C313 688.8 312.2 686.5 315.6 687.7 C319.1 688.9 330.3 695.2 332.7 697.3 C335.1 699.3 331.2 699.1 330 700 C328.8 700.9 327.2 702.3 325.2 702.7 C323.2 703.1 320.3 702.9 318 702.5 C315.7 702.1 312.7 701.7 311.3 700.5 C309.9 699.3 309.6 697 309.7 695.2 Z" fill="#fff" stroke="#2b2b2b" stroke-width="1.0" />
<path d="M411.6 680.3 L421.2 678 L428 690 L434 700.5 L434 705.9 L423.3 709 L416 704 L414.8 697.3 Z" fill="#fff" stroke="#2b2b2b" stroke-width="1.0" />
<path d="M423.3 709 L423.5 703.5 L434 700.5" fill="none" stroke="#2b2b2b" stroke-width="0.9" />
<path d="M423.5 703.5 L417 698" fill="none" stroke="#2b2b2b" stroke-width="0.8" />
<path d="M406 684 C410 690 413 698 416 704" fill="none" stroke="#2b2b2b" stroke-width="0.9" />
<path d="M318.8 687.7 C314 678 312.5 668 314.5 656.8 C317 645 324 636 332.7 630 C338 625 344 622 349.7 620.5 L359.3 617.3 L378.5 612 C386 610 392 610.5 396.7 612 C401 613.5 403 615 405 617.3 C410 622 413 628 415.9 633.3 C419 638 421.5 643 423.3 648.3 C425.5 653 426.5 658 426.5 663.2 C426.5 668 425.5 671 424.4 673.9 L420 678 L406.3 682.4 L403 684 L377.5 693 L364.7 695.2 L358.3 699.5 C354 701 350 701.8 347.6 701.6 C342 701 337 699.5 332.7 697.3 C327 694.5 322 691 318.8 687.7 Z" fill="#fff" stroke="#1e1e1e" stroke-width="1.2" />
<path d="M358.3 699.5 C360 694 359.8 686 358.3 676 C357 670 356 666 354 661 C352 656 350 652 347.6 648.3 C345 645 343 642 340 639.7 C337 638 334 638 331.6 638" fill="none" stroke="#2b2b2b" stroke-width="1.1" />
<path d="M331.6 638 L334 632 L352 623.5 L356 628 L340 636 Z" fill="#fff" stroke="#2b2b2b" stroke-width="1.0" />
<path d="M336 637 L353 629 M338 640 L350 634" fill="none" stroke="#333" stroke-width="1.8" />
<path d="M352 623.5 L360 620 L368 626" fill="none" stroke="#2b2b2b" stroke-width="1.0" />
<path d="M379.6 622.7 C384 628 388 634 391.3 639.7 C395 646 398 652 399.9 656.8 C402 662 403 666 404 670.7 C405 675 406 679 406.3 682.4" fill="none" stroke="#2b2b2b" stroke-width="1.1" />
<path d="M396.7 612 C392 614 386 618 379.6 622.7" fill="none" stroke="#2b2b2b" stroke-width="0.9" />
<path d="M361.5 682.4 L402 668.5" fill="none" stroke="#222" stroke-width="2.4" />
<path d="M358.5 672 L369 668.5" fill="none" stroke="#222" stroke-width="2.0" />
<path d="M377.5 690 L403 681.4" fill="none" stroke="#333" stroke-width="0.9" />
<path d="M377.9 688.7 L403.3 680.1" fill="none" stroke="#333" stroke-width="0.9" />
<path d="M378.3 687.4 L403.6 678.8" fill="none" stroke="#333" stroke-width="0.9" />
<path d="M378.7 686.1 L403.9 677.5" fill="none" stroke="#333" stroke-width="0.9" />
<path d="M378 692.5 L403 684" fill="none" stroke="#333" stroke-width="1.8" />
<path d="M352 636 C353.3 633.5 356.7 631.3 360 630 C363.3 628.7 368.3 627.5 372 628 C375.7 628.5 379.2 630.3 382 633 C384.8 635.7 387.5 640.2 389 644 C390.5 647.8 391.5 652.7 391 656 C390.5 659.3 387.7 661.7 386 664 C384.3 666.3 382.8 668.8 381 670 C379.2 671.2 377.2 672 375 671 C372.8 670 370.8 666.7 368 664 C365.2 661.3 360.7 658.2 358 655 C355.3 651.8 353 648.2 352 645 C351 641.8 350.7 638.5 352 636 Z" fill="#fff" stroke="#2b2b2b" stroke-width="1.1" />
<path d="M355 638 C356.2 636 359.2 634.1 362 633 C364.8 631.9 369 631 372 631.5 C375 632 377.7 633.6 380 636 C382.3 638.4 384.8 642.7 386 646 C387.2 649.3 388 653.2 387.5 656 C387 658.8 384.9 661.5 383 663 C381.1 664.5 378.5 665.5 376 665 C373.5 664.5 370.7 662.2 368 660 C365.3 657.8 362.2 654.5 360 652 C357.8 649.5 355.8 647.3 355 645 C354.2 642.7 353.8 640 355 638 Z" fill="#fff" stroke="#2b2b2b" stroke-width="1.0" />
<path d="M358 640 C359 638.5 361.7 636.8 364 636 C366.3 635.2 369.7 634.5 372 635 C374.3 635.5 376.2 636.8 378 639 C379.8 641.2 382 645.2 383 648 C384 650.8 384.5 653.8 384 656 C383.5 658.2 381.5 660 380 661 C378.5 662 377 662.7 375 662 C373 661.3 370.2 659 368 657 C365.8 655 363.7 652 362 650 C360.3 648 358.7 646.7 358 645 C357.3 643.3 357 641.5 358 640 Z" fill="#fff" stroke="#2b2b2b" stroke-width="0.9" />
<ellipse cx="355.5" cy="632.5" rx="1.3" ry="1.3" fill="none" stroke="#2b2b2b" stroke-width="0.7" />
<ellipse cx="377.5" cy="668.5" rx="1.4" ry="1.4" fill="none" stroke="#2b2b2b" stroke-width="0.7" />
<path d="M364.7 695.2 L375.3 693 L381 704 L387 716.5 L386 721.9 L378.5 725 L374.3 716.5 L368 704 Z" fill="#fff" stroke="#2b2b2b" stroke-width="1.0" />
<path d="M374.3 716.5 L374.5 711.5 L386 708.5" fill="none" stroke="#2b2b2b" stroke-width="0.9" />
<path d="M378.5 725 L378.5 719.5 L386 716.5" fill="none" stroke="#2b2b2b" stroke-width="0.9" />
<path d="M366 698 L374 714" fill="none" stroke="#333" stroke-width="1.6" stroke-dasharray="1 1"/>
<ellipse cx="318" cy="686.5" rx="1.5" ry="1.5" fill="none" stroke="#2b2b2b" stroke-width="0.7" />
<ellipse cx="357.3" cy="697.5" rx="1.7" ry="1.7" fill="none" stroke="#2b2b2b" stroke-width="0.8" />
<path d="M362.5 604 C361.5 600.5 365 598.5 368.9 599.2 L378.5 615.2 L375.3 622.7 L366.8 620.5 L369 614 Z" fill="#fff" stroke="#2b2b2b" stroke-width="1.1" />
<ellipse cx="366" cy="603.5" rx="1.5" ry="1.5" fill="none" stroke="#2b2b2b" stroke-width="0.8" />
<ellipse cx="372" cy="614" rx="1.3" ry="1.3" fill="none" stroke="#2b2b2b" stroke-width="0.7" />
<path d="M366.8 620.5 L372 627 M375.3 622.7 L378 626" fill="none" stroke="#333" stroke-width="2.0" />
<path d="M404 624.8 L412.7 615.2 L418 618.4 L417 627 L408.4 633.3 Z" fill="#fff" stroke="#2b2b2b" stroke-width="1.1" />
<ellipse cx="412" cy="622" rx="1.7" ry="1.7" fill="none" stroke="#2b2b2b" stroke-width="0.8" />
<path d="M415 628.5 C419 633 422 637 423.5 640 M423 646 C426 656 427.5 668 425.5 676" fill="none" stroke="#2b2b2b" stroke-width="0.9" />
<path d="M414.5 636 L422 633.5 L425 640 L417.5 643 Z" fill="#fff" stroke="#2b2b2b" stroke-width="1.0" />
<path d="M337 620 L345.5 618.3" fill="none" stroke="#1c1c1c" stroke-width="2.8" />
<path d="M401 644 L409.5 642" fill="none" stroke="#1c1c1c" stroke-width="2.8" />
<path d="M385.5 698.6 L394.5 697.4" fill="none" stroke="#1c1c1c" stroke-width="2.6" />
<ellipse cx="655.5" cy="378.6" rx="16.6" ry="16.2" transform="rotate(-15 655.5 378.6)" fill="#fff" stroke="#2b2b2b" stroke-width="1.3" />
<path d="M656.3 360.2 L664 364.6 L647 392.6 L639.3 388.2 Z" fill="#fff" stroke="none" stroke-width="0" />
<path d="M656.3 360.2 L664 364.6" fill="none" stroke="#2b2b2b" stroke-width="1.3" />
<path d="M647 392.6 L639.3 388.2" fill="none" stroke="#2b2b2b" stroke-width="1.3" />
<ellipse cx="647.8" cy="374.2" rx="16.6" ry="16.2" transform="rotate(-15 647.8 374.2)" fill="#fff" stroke="#2b2b2b" stroke-width="1.3" />
<path d="M661 363 C666 370 666.5 380 661 388" fill="none" stroke="#222" stroke-width="2.6" />
<ellipse cx="647.8" cy="374.2" rx="16.6" ry="16.2" transform="rotate(-15 647.8 374.2)" fill="#fff" stroke="#1e1e1e" stroke-width="1.7" />
<ellipse cx="667.5" cy="378.4" rx="1.7" ry="2.2" fill="#333" stroke="#2b2b2b" stroke-width="0.6" />
<ellipse cx="646.5" cy="374" rx="6.5" ry="5.6" transform="rotate(20 646.5 374)" fill="#1c1c1c" stroke="#2b2b2b" stroke-width="0.5" />
<ellipse cx="644.5" cy="372.6" rx="2.2" ry="1.8" fill="#ddd" stroke="#2b2b2b" stroke-width="0" />
<path d="M494.7 597 L528.4 588.4 L544.5 585.5 Q556 586 560.7 592.8 Q566 600 568 609 L568 631 Q568 636 565 636.8 L519.6 648.5 L496 642.7 Q488.5 636 487.5 628 L487.3 612 Q489 600 494.7 597 Z" fill="#fff" stroke="#2b2b2b" stroke-width="1.1" />
<path d="M520 602 L561 593" fill="none" stroke="#2b2b2b" stroke-width="0.9" />
<path d="M520.6 599.8 L558.6 591.4" fill="none" stroke="#2b2b2b" stroke-width="0.9" />
<path d="M521.2 597.6 L556.2 589.8" fill="none" stroke="#2b2b2b" stroke-width="0.9" />
<path d="M521.8 595.4 L553.8 588.2" fill="none" stroke="#2b2b2b" stroke-width="0.9" />
<path d="M521 604.5 L565 594.5" fill="none" stroke="#333" stroke-width="1.8" />
<path d="M523 641.5 L567 630.5" fill="none" stroke="#2b2b2b" stroke-width="0.9" />
<path d="M523 639.5 L567 628.5" fill="none" stroke="#2b2b2b" stroke-width="0.9" />
<path d="M523 637.5 L567 626.5" fill="none" stroke="#2b2b2b" stroke-width="0.9" />
<path d="M523 635.5 L567 624.5" fill="none" stroke="#2b2b2b" stroke-width="0.9" />
<path d="M523 644 L566 633" fill="none" stroke="#333" stroke-width="1.8" />
<path d="M524 609 L568 598.5" fill="none" stroke="#2b2b2b" stroke-width="0.8" />
<path d="M524.5 636 L568 625.5" fill="none" stroke="#2b2b2b" stroke-width="0.8" />
<path d="M494.7 597 L513.7 592.8 Q522 596 524 609 L524.5 636 Q523 646 519.6 648.5 L496 642.7 Q488.5 636 487.5 628 L487.3 612 Q489 600 494.7 597 Z" fill="#fff" stroke="#2b2b2b" stroke-width="1.2" />
<ellipse cx="505.7" cy="621.5" rx="13.5" ry="20.5" transform="rotate(-6 505.7 621.5)" fill="#4a4a4a" stroke="#2b2b2b" stroke-width="1.0" />
<path d="M514.7 621.5 L518.7 621.5" fill="none" stroke="#eee" stroke-width="1.5" />
<path d="M514.2 626.5 L517.9 628.3" fill="none" stroke="#eee" stroke-width="1.5" />
<path d="M512.6 630.8 L515.7 634.2" fill="none" stroke="#eee" stroke-width="1.5" />
<path d="M510.2 634.1 L512.2 638.6" fill="none" stroke="#eee" stroke-width="1.5" />
<path d="M507.3 635.8 L508 641" fill="none" stroke="#eee" stroke-width="1.5" />
<path d="M504.1 635.8 L503.4 641" fill="none" stroke="#eee" stroke-width="1.5" />
<path d="M501.2 634.1 L499.2 638.6" fill="none" stroke="#eee" stroke-width="1.5" />
<path d="M498.8 630.8 L495.7 634.2" fill="none" stroke="#eee" stroke-width="1.5" />
<path d="M497.2 626.5 L493.5 628.3" fill="none" stroke="#eee" stroke-width="1.5" />
<path d="M496.7 621.5 L492.7 621.5" fill="none" stroke="#eee" stroke-width="1.5" />
<path d="M497.2 616.5 L493.5 614.7" fill="none" stroke="#eee" stroke-width="1.5" />
<path d="M498.8 612.2 L495.7 608.8" fill="none" stroke="#eee" stroke-width="1.5" />
<path d="M501.2 608.9 L499.2 604.4" fill="none" stroke="#eee" stroke-width="1.5" />
<path d="M504.1 607.2 L503.4 602" fill="none" stroke="#eee" stroke-width="1.5" />
<path d="M507.3 607.2 L508 602" fill="none" stroke="#eee" stroke-width="1.5" />
<path d="M510.2 608.9 L512.2 604.4" fill="none" stroke="#eee" stroke-width="1.5" />
<path d="M512.6 612.2 L515.7 608.8" fill="none" stroke="#eee" stroke-width="1.5" />
<path d="M514.2 616.5 L517.9 614.7" fill="none" stroke="#eee" stroke-width="1.5" />
<ellipse cx="506" cy="621.5" rx="9" ry="14.5" transform="rotate(-6 506 621.5)" fill="#fff" stroke="#2b2b2b" stroke-width="0.9" />
<path d="M499.5 611.5 L513 609.5" fill="none" stroke="#333" stroke-width="1.0" />
<path d="M499.5 614.6 L513 612.6" fill="none" stroke="#333" stroke-width="1.0" />
<path d="M499.5 617.7 L513 615.7" fill="none" stroke="#333" stroke-width="1.0" />
<path d="M499.5 620.8 L513 618.8" fill="none" stroke="#333" stroke-width="1.0" />
<path d="M499.5 623.9 L513 621.9" fill="none" stroke="#333" stroke-width="1.0" />
<path d="M499.5 627 L513 625" fill="none" stroke="#333" stroke-width="1.0" />
<path d="M499.5 630.1 L513 628.1" fill="none" stroke="#333" stroke-width="1.0" />
<path d="M499.5 633.2 L513 631.2" fill="none" stroke="#333" stroke-width="1.0" />
<ellipse cx="492.5" cy="603.5" rx="1.2" ry="1.2" fill="none" stroke="#2b2b2b" stroke-width="0.7" />
<ellipse cx="492.5" cy="636" rx="1.2" ry="1.2" fill="none" stroke="#2b2b2b" stroke-width="0.7" />
<ellipse cx="520.5" cy="645" rx="1.2" ry="1.2" fill="none" stroke="#2b2b2b" stroke-width="0.7" />
<ellipse cx="668" cy="578" rx="2" ry="2.8" transform="rotate(-10 668 578)" fill="#fff" stroke="#2b2b2b" stroke-width="1.0" />
<path d="M573.5 595.3 L667.5 575.3 L668.5 580.7 L574.5 600.7 Z" fill="#fff" stroke="none" stroke-width="0" />
<path d="M573.5 595.3 L667.5 575.3" fill="none" stroke="#2b2b2b" stroke-width="1.0" />
<path d="M668.5 580.7 L574.5 600.7" fill="none" stroke="#2b2b2b" stroke-width="1.0" />
<ellipse cx="574" cy="598" rx="2" ry="2.8" transform="rotate(-10 574 598)" fill="#fff" stroke="#2b2b2b" stroke-width="1.0" />
<path d="M604.7 580.8 L638.1 570.3 L643.9 595.7 L610.5 606.2 Z" fill="#fff" stroke="none" stroke-width="0" />
<path d="M604.7 580.8 L638.1 570.3" fill="none" stroke="#2b2b2b" stroke-width="1.0" />
<path d="M643.9 595.7 L610.5 606.2" fill="none" stroke="#2b2b2b" stroke-width="1.0" />
<ellipse cx="607.6" cy="593.5" rx="5" ry="13" transform="rotate(-12 607.6 593.5)" fill="#fff" stroke="#2b2b2b" stroke-width="1.0" />
<path d="M636.2 570.5 C645 569 651 575 651.6 583 C652 590 648.5 595 645.5 596" fill="#fff" stroke="#2b2b2b" stroke-width="1.0" />
<ellipse cx="607.6" cy="593.5" rx="5" ry="13" transform="rotate(-12 607.6 593.5)" fill="#fff" stroke="#2b2b2b" stroke-width="1.0" />
<path d="M588 585 L593 584 L594 588 L589 589 Z" fill="#fff" stroke="#1e1e1e" stroke-width="1.2" />
<path d="M592 582 L597 581 L598 585 L593 586 Z" fill="#fff" stroke="#1e1e1e" stroke-width="1.2" />
<path d="M598 581 L603 580 L604 584 L599 585 Z" fill="#fff" stroke="#1e1e1e" stroke-width="1.2" />
<path d="M589 602 L594 601 L595 605 L590 606 Z" fill="#fff" stroke="#1e1e1e" stroke-width="1.2" />
<path d="M594 605.5 L599 604.5 L600 608.5 L595 609.5 Z" fill="#fff" stroke="#1e1e1e" stroke-width="1.2" />
<path d="M600 606.5 L605 605.5 L606 609.5 L601 610.5 Z" fill="#fff" stroke="#1e1e1e" stroke-width="1.2" />
<path d="M586.5 594 L591.5 593 L592.5 597 L587.5 598 Z" fill="#fff" stroke="#1e1e1e" stroke-width="1.2" />
<ellipse cx="601" cy="594.5" rx="4.6" ry="11" transform="rotate(-12 601 594.5)" fill="#fff" stroke="#1e1e1e" stroke-width="1.3" />
<path d="M597 588 L604 586 M597 600 L605 599" fill="none" stroke="#2b2b2b" stroke-width="1.2" />
<ellipse cx="657" cy="580.3" rx="2.6" ry="4.4" transform="rotate(-10 657 580.3)" fill="#fff" stroke="#2b2b2b" stroke-width="1.0" />
<path d="M650.2 577.2 L656.2 576 L657.8 584.6 L651.8 585.8 Z" fill="#fff" stroke="none" stroke-width="0" />
<path d="M650.2 577.2 L656.2 576" fill="none" stroke="#2b2b2b" stroke-width="1.0" />
<path d="M657.8 584.6 L651.8 585.8" fill="none" stroke="#2b2b2b" stroke-width="1.0" />
<ellipse cx="651" cy="581.5" rx="2.6" ry="4.4" transform="rotate(-10 651 581.5)" fill="#fff" stroke="#2b2b2b" stroke-width="1.0" />
<ellipse cx="670" cy="577.5" rx="1.7" ry="2.4" transform="rotate(-10 670 577.5)" fill="#fff" stroke="#2b2b2b" stroke-width="1.0" />
<path d="M656.5 577.9 L669.5 575.1 L670.5 579.9 L657.5 582.7 Z" fill="#fff" stroke="none" stroke-width="0" />
<path d="M656.5 577.9 L669.5 575.1" fill="none" stroke="#2b2b2b" stroke-width="1.0" />
<path d="M670.5 579.9 L657.5 582.7" fill="none" stroke="#2b2b2b" stroke-width="1.0" />
<ellipse cx="657" cy="580.3" rx="1.7" ry="2.4" transform="rotate(-10 657 580.3)" fill="#fff" stroke="#2b2b2b" stroke-width="1.0" />
<ellipse cx="584" cy="596" rx="2" ry="2.8" transform="rotate(-10 584 596)" fill="#fff" stroke="#2b2b2b" stroke-width="1.0" />
<path d="M573.5 595.2 L583.5 593.2 L584.5 598.8 L574.5 600.8 Z" fill="#fff" stroke="none" stroke-width="0" />
<path d="M573.5 595.2 L583.5 593.2" fill="none" stroke="#2b2b2b" stroke-width="1.0" />
<path d="M584.5 598.8 L574.5 600.8" fill="none" stroke="#2b2b2b" stroke-width="1.0" />
<ellipse cx="574" cy="598" rx="2" ry="2.8" transform="rotate(-10 574 598)" fill="#fff" stroke="#2b2b2b" stroke-width="1.0" />
<ellipse cx="574.3" cy="598" rx="1" ry="1.5" transform="rotate(-10 574.3 598)" fill="#999" stroke="#2b2b2b" stroke-width="0.5" />
<ellipse cx="693" cy="573" rx="7.5" ry="10" transform="rotate(-8 693 573)" fill="#fff" stroke="#2b2b2b" stroke-width="1.0" />
<ellipse cx="690.5" cy="573" rx="7.5" ry="10" transform="rotate(-8 690.5 573)" fill="#333" stroke="#1e1e1e" stroke-width="1.6" />
<ellipse cx="690.5" cy="573" rx="3.6" ry="5.4" transform="rotate(-8 690.5 573)" fill="#ddd" stroke="#2b2b2b" stroke-width="1" />
<ellipse cx="713" cy="569.5" rx="5.6" ry="8" transform="rotate(-8 713 569.5)" fill="#fff" stroke="#2b2b2b" stroke-width="1.1" />
<ellipse cx="713" cy="569.5" rx="2" ry="3" transform="rotate(-8 713 569.5)" fill="#fff" stroke="#2b2b2b" stroke-width="0.9" />
<path d="M729 556 L738 546 L748 549 L752 560 L748 574 L740 578 L731 570 Z" fill="#fff" stroke="#1e1e1e" stroke-width="1.5" />
<path d="M729 556 L731 553 L740 543.5 L750 546.5 L748 549" fill="none" stroke="#2b2b2b" stroke-width="1.0" />
<ellipse cx="740.5" cy="562" rx="6.2" ry="10.2" transform="rotate(-12 740.5 562)" fill="#fff" stroke="#222" stroke-width="2.4" />
<ellipse cx="741" cy="562" rx="3.8" ry="7" transform="rotate(-12 741 562)" fill="#fff" stroke="#2b2b2b" stroke-width="1.0" />
<path d="M730 558 L732 568 L740 576" fill="none" stroke="#222" stroke-width="3.0" />
<path d="M738 547 L747 550 L750 560" fill="none" stroke="#333" stroke-width="1.6" />
<ellipse cx="736" cy="550" rx="1.4" ry="1.4" fill="#1e1e1e" stroke="#2b2b2b" stroke-width="0" />
<ellipse cx="747" cy="556" rx="1.4" ry="1.4" fill="#1e1e1e" stroke="#2b2b2b" stroke-width="0" />
<ellipse cx="746" cy="572" rx="1.4" ry="1.4" fill="#1e1e1e" stroke="#2b2b2b" stroke-width="0" />
<ellipse cx="734" cy="570" rx="1.4" ry="1.4" fill="#1e1e1e" stroke="#2b2b2b" stroke-width="0" />
<path d="M769 552 C770 549.2 773.2 544 776 543 C778.8 542 783.3 543.8 786 546 C788.7 548.2 791.2 552.7 792 556 C792.8 559.3 792.3 563.7 791 566 C789.7 568.3 786.7 569.8 784 570 C781.3 570.2 777.3 568.7 775 567 C772.7 565.3 771 562.5 770 560 C769 557.5 768 554.8 769 552 Z" fill="#8a8a8a" stroke="#1e1e1e" stroke-width="1.4" />
<path d="M786.5 556.5 L791 556.5" fill="none" stroke="#222" stroke-width="1.6" />
<path d="M785.4 561.5 L789 564.1" fill="none" stroke="#222" stroke-width="1.6" />
<path d="M782.4 564.6 L783.7 568.9" fill="none" stroke="#222" stroke-width="1.6" />
<path d="M778.6 564.6 L777.3 568.9" fill="none" stroke="#222" stroke-width="1.6" />
<path d="M775.6 561.5 L772 564.1" fill="none" stroke="#222" stroke-width="1.6" />
<path d="M774.5 556.5 L770 556.5" fill="none" stroke="#222" stroke-width="1.6" />
<path d="M775.6 551.5 L772 548.9" fill="none" stroke="#222" stroke-width="1.6" />
<path d="M778.6 548.4 L777.3 544.1" fill="none" stroke="#222" stroke-width="1.6" />
<path d="M782.4 548.4 L783.7 544.1" fill="none" stroke="#222" stroke-width="1.6" />
<path d="M785.4 551.5 L789 548.9" fill="none" stroke="#222" stroke-width="1.6" />
<ellipse cx="781.5" cy="557.5" rx="4.8" ry="7.2" transform="rotate(-10 781.5 557.5)" fill="#eee" stroke="#2b2b2b" stroke-width="1.2" />
<ellipse cx="782" cy="558" rx="2.4" ry="4" transform="rotate(-10 782 558)" fill="#fff" stroke="#2b2b2b" stroke-width="0.9" />
<path d="M786 547 L792 557 L790.5 566" fill="none" stroke="#eee" stroke-width="1.0" />
<path d="M770 553 L771 561 L776 567" fill="none" stroke="#222" stroke-width="2.0" />
<path d="M828 510 L848 513 C862 518 869 532 868 547 C866 562 858 574 848 578 L831 578" fill="#fff" stroke="#2b2b2b" stroke-width="1.0" />
<ellipse cx="829.5" cy="544" rx="21.5" ry="34" transform="rotate(4 829.5 544)" fill="#fff" stroke="#2b2b2b" stroke-width="1.0" />
<ellipse cx="830.5" cy="544" rx="19" ry="31" transform="rotate(4 830.5 544)" fill="none" stroke="#2b2b2b" stroke-width="0.9" />
<ellipse cx="841" cy="543" rx="14" ry="24" transform="rotate(4 841 543)" fill="#fff" stroke="#2b2b2b" stroke-width="0.9" />
<path d="M832 513 L843 519 M834 575 L846 566" fill="none" stroke="#2b2b2b" stroke-width="0.8" />
<ellipse cx="844" cy="543" rx="6" ry="8.5" transform="rotate(4 844 543)" fill="#fff" stroke="#2b2b2b" stroke-width="1.1" />
<ellipse cx="845.5" cy="543" rx="4" ry="6" transform="rotate(4 845.5 543)" fill="#fff" stroke="#2b2b2b" stroke-width="1.0" />
<path d="M842 536 L850 538 L851 548 L844 551" fill="none" stroke="#2b2b2b" stroke-width="1.3" />
<g transform="rotate(8 924 509)">
<ellipse cx="926" cy="509" rx="44" ry="59" fill="#fff" stroke="#2b2b2b" stroke-width="1.1"/>
<ellipse cx="924" cy="509" rx="43" ry="58" fill="none" stroke="#2b2b2b" stroke-width="1.0"/>
<ellipse cx="923" cy="509" rx="39" ry="54" fill="none" stroke="#2b2b2b" stroke-width="0.9"/>
<ellipse cx="922" cy="510" rx="34" ry="49" fill="none" stroke="#2b2b2b" stroke-width="0.9"/>
<ellipse cx="922" cy="511" rx="29" ry="44" fill="#fff" stroke="#2b2b2b" stroke-width="1.1"/>
<ellipse cx="924.5" cy="511" rx="26.5" ry="42" fill="none" stroke="#2b2b2b" stroke-width="0.9"/>
</g>
<path d="M909 451 L933 451 L933 471 L909 471 Z" fill="#fff" stroke="#2b2b2b" stroke-width="1.1" />
<path d="M917 451 L917 471" fill="none" stroke="#2b2b2b" stroke-width="0.9" />
<path d="M925 451 L925 471" fill="none" stroke="#2b2b2b" stroke-width="0.9" />
<path d="M909 457.7 L933 457.7" fill="none" stroke="#2b2b2b" stroke-width="0.9" />
<path d="M909 464.3 L933 464.3" fill="none" stroke="#2b2b2b" stroke-width="0.9" />
<path d="M909 451 L913 448 L938 449 L933 451" fill="none" stroke="#2b2b2b" stroke-width="1.0" />
<path d="M938 449 L938 462 L933 466" fill="none" stroke="#2b2b2b" stroke-width="1.0" />
<path d="M879 488 L893 488 L893 520 L879 520 Z" fill="#fff" stroke="#2b2b2b" stroke-width="1.1" />
<path d="M886 488 L886 520" fill="none" stroke="#2b2b2b" stroke-width="0.9" />
<path d="M879 496 L893 496" fill="none" stroke="#2b2b2b" stroke-width="0.9" />
<path d="M879 504 L893 504" fill="none" stroke="#2b2b2b" stroke-width="0.9" />
<path d="M879 512 L893 512" fill="none" stroke="#2b2b2b" stroke-width="0.9" />
<path d="M879 488 L882 486 L894 486" fill="none" stroke="#2b2b2b" stroke-width="0.9" />
<path d="M954 503 L968 503 L968 537 L954 537 Z" fill="#fff" stroke="#2b2b2b" stroke-width="1.1" />
<path d="M961 503 L961 537" fill="none" stroke="#2b2b2b" stroke-width="0.9" />
<path d="M954 511.5 L968 511.5" fill="none" stroke="#2b2b2b" stroke-width="0.9" />
<path d="M954 520 L968 520" fill="none" stroke="#2b2b2b" stroke-width="0.9" />
<path d="M954 528.5 L968 528.5" fill="none" stroke="#2b2b2b" stroke-width="0.9" />
<path d="M968 503 L972 506 L971 536 L968 537" fill="none" stroke="#2b2b2b" stroke-width="0.9" />
<path d="M919 551 L934 551 L934 567 L919 567 Z" fill="#fff" stroke="#2b2b2b" stroke-width="1.1" />
<path d="M926.5 551 L926.5 567" fill="none" stroke="#2b2b2b" stroke-width="0.9" />
<path d="M919 559 L934 559" fill="none" stroke="#2b2b2b" stroke-width="0.9" />
<path d="M893 486 L901 483 L905 490 L899 494 Z" fill="#fff" stroke="#2b2b2b" stroke-width="0.9" />
<path d="M946 492 L950 496 M944 500 L949 503" fill="none" stroke="#2b2b2b" stroke-width="1.0" />
<path d="M973 485.5 L996 480.5" fill="none" stroke="#1a1a1a" stroke-width="3.8" stroke-linecap="butt" stroke-dasharray="1.7 0.45"/>
<ellipse cx="996" cy="480.5" rx="2" ry="2.8" fill="#bbb" stroke="#222" stroke-width="1.3" />
<path d="M1012 501.5 L1035 496" fill="none" stroke="#1a1a1a" stroke-width="3.8" stroke-linecap="butt" stroke-dasharray="1.7 0.45"/>
<ellipse cx="1035" cy="496" rx="2" ry="2.8" fill="#bbb" stroke="#222" stroke-width="1.3" />
<path d="M994 528 L1017 522.5" fill="none" stroke="#1a1a1a" stroke-width="3.8" stroke-linecap="butt" stroke-dasharray="1.7 0.45"/>
<ellipse cx="1017" cy="522.5" rx="2" ry="2.8" fill="#bbb" stroke="#222" stroke-width="1.3" />
<path d="M1067.4 453.2 L1060.7 444.9 L1066 435.6 L1074.7 437.7 L1076.6 449.7 Z" fill="#fff" stroke="#2b2b2b" stroke-width="1.0" />
<path d="M1078.2 450 L1074.6 439.9 L1082.6 432.9 L1090.1 437.8 L1088 449.8 Z" fill="#fff" stroke="#2b2b2b" stroke-width="1.0" />
<path d="M1090.5 454.9 L1091.5 444.2 L1101.7 441.1 L1106.5 448.7 L1099.6 458.7 Z" fill="#fff" stroke="#2b2b2b" stroke-width="1.0" />
<path d="M1102.8 468.5 L1106 463.3 L1112.6 469.2 L1113.5 477 L1107.1 477.3 Z" fill="#fff" stroke="#2b2b2b" stroke-width="1.0" />
<path d="M1109.6 489.1 L1120.2 490.3 L1123.1 500.5 L1115.4 505.2 L1105.6 498.1 Z" fill="#fff" stroke="#2b2b2b" stroke-width="1.0" />
<path d="M1107.3 503.7 L1116.3 509.5 L1114.3 520 L1105.4 520.7 L1099.7 510 Z" fill="#fff" stroke="#2b2b2b" stroke-width="1.0" />
<path d="M1099.2 513.7 L1105.5 522.4 L1099.8 531.4 L1091.2 528.8 L1089.8 516.8 Z" fill="#fff" stroke="#2b2b2b" stroke-width="1.0" />
<path d="M1082.8 514.2 L1084.4 522.8 L1075.3 526.5 L1068.8 521.1 L1073.1 512.2 Z" fill="#fff" stroke="#2b2b2b" stroke-width="1.0" />
<path d="M1064.3 496 L1061.7 500.5 L1056.2 493.9 L1055.4 486.3 L1060.7 486.8 Z" fill="#fff" stroke="#2b2b2b" stroke-width="1.0" />
<path d="M1058.6 470 L1050.2 467.7 L1050.8 457.8 L1058.5 454.4 L1064.6 462.1 Z" fill="#fff" stroke="#2b2b2b" stroke-width="1.0" />
<ellipse cx="1084" cy="483" rx="23.5" ry="34.5" transform="rotate(-14 1084 483)" fill="#fff" stroke="#2b2b2b" stroke-width="1.1" />
<path d="M1108 477.5 L1127 474" fill="none" stroke="#555" stroke-width="2.2" />
<path d="M1052.5 489 L1062 487" fill="none" stroke="#555" stroke-width="1.6" />
<ellipse cx="1083" cy="483" rx="7.5" ry="8.5" transform="rotate(-14 1083 483)" fill="#fff" stroke="#2b2b2b" stroke-width="1.0" />
<ellipse cx="1081" cy="483" rx="5" ry="6" transform="rotate(-14 1081 483)" fill="#fff" stroke="#2b2b2b" stroke-width="1.0" />
<path d="M1078 479.5 L1082 477.5 L1085 481 L1084.5 486 L1081 488.5 L1078 485 Z" fill="none" stroke="#2b2b2b" stroke-width="0.9" />
<path d="M1144.6 477.6 A5.8 5.8 0 1 1 1151 477.4" fill="none" stroke="#2b2b2b" stroke-width="1.6" />
<path d="M1144.6 477.6 l-1.2 1.6 M1151 477.4 l1.4 1.4" fill="none" stroke="#2b2b2b" stroke-width="1.4" />
<path d="M866 220 C866 208 874 197 890 187 C910 176 940 168 966 166 C980 166 992 172 1000 178 L1006 181 L958 191 C950 196 940 204 936 212 C930 207 910 210 898 216 C892 220 888 226 886 229 C884 234 874 234 870 230 C867 227 866 224 866 220 Z" fill="#fff" stroke="#2b2b2b" stroke-width="1.0" />
<path d="M870 222 C872 208 884 196 900 189 C918 181 940 176 958 176" fill="none" stroke="#2b2b2b" stroke-width="0.9" />
<path d="M936 176 C944 170 960 168 972 172 C980 176 984 182 984 186" fill="none" stroke="#2b2b2b" stroke-width="0.9" />
<path d="M944 180 C950 176 962 176 970 180 C976 184 978 188 976 190" fill="none" stroke="#2b2b2b" stroke-width="0.9" />
<path d="M990 172 C996 178 1000 184 1000 186" fill="none" stroke="#2b2b2b" stroke-width="0.9" />
<clipPath id="c51a"><path d="M874 222 C878 208 892 198 910 192 C922 188 936 187 944 188 L938 204 C936 210 934 216 932 222 L926 224 L924 220 C912 206 892 214 886 226 C882 230 876 228 874 222 Z"/></clipPath>
<path d="M874 222 C878 208 892 198 910 192 C922 188 936 187 944 188 L938 204 C936 210 934 216 932 222 L926 224 L924 220 C912 206 892 214 886 226 C882 230 876 228 874 222 Z" fill="#fff" stroke="#2b2b2b" stroke-width="1.0" />
<g clip-path="url(#c51a)" stroke="#262626" stroke-width="2.0" fill="none">
<path d="M883 186 L875 230"/>
<path d="M888 186 L880 230"/>
<path d="M893 186 L885 230"/>
<path d="M898 186 L890 230"/>
<path d="M903 186 L895 230"/>
<path d="M908 186 L900 230"/>
<path d="M913 186 L905 230"/>
<path d="M918 186 L910 230"/>
<path d="M923 186 L915 230"/>
<path d="M928 186 L920 230"/>
<path d="M933 186 L925 230"/>
<path d="M938 186 L930 230"/>
<path d="M943 186 L935 230"/>
<path d="M948 186 L940 230"/>
</g>
<path d="M922 221 L922 226 L930 224.5 L930 220" fill="none" stroke="#2b2b2b" stroke-width="1.2" />
<path d="M886 229 C892 218 912 208 924 220" fill="none" stroke="#2b2b2b" stroke-width="1.0" />
<path d="M958 191 L1006 181 L1020 193 L1032 208 L1041 224 L1048 242 L1051 254 L1050 258 L1016 267 L1013 261.5 L980 266.5 L978 271 L964 264 L952 254 L942 238 L936 222 L937 208 L946 198 Z" fill="#fff" stroke="#2b2b2b" stroke-width="1.1" />
<clipPath id="c51b"><path d="M960 194 L1003 185 L1016 196 L1027 210 L1036 226 L1042 242 L1045 254 L1015 262 L1012 257 L981 262 L968 256 L957 247 L947 232 L942 220 L943 209 L950 200 Z"/></clipPath>
<g clip-path="url(#c51b)" stroke="#222" fill="none">
<path d="M942 186 C948 210 956 240 966 270" stroke-width="2.5"/>
<path d="M948.2 186 C954.2 210 962.2 240 972.2 270" stroke-width="2.5"/>
<path d="M954.4 186 C960.4 210 968.4 240 978.4 270" stroke-width="2.5"/>
<path d="M960.6 186 C966.6 210 974.6 240 984.6 270" stroke-width="2.5"/>
<path d="M966.8 186 C972.8 210 980.8 240 990.8 270" stroke-width="2.5"/>
<path d="M973 186 C979 210 987 240 997 270" stroke-width="2.5"/>
<path d="M979.2 186 C985.2 210 993.2 240 1003.2 270" stroke-width="2.5"/>
<path d="M985.4 186 C991.4 210 999.4 240 1009.4 270" stroke-width="2.5"/>
<path d="M991.6 186 C997.6 210 1005.6 240 1015.6 270" stroke-width="2.5"/>
<path d="M997.8 186 C1003.8 210 1011.8 240 1021.8 270" stroke-width="2.5"/>
<path d="M1004 186 C1010 210 1018 240 1028 270" stroke-width="2.5"/>
<path d="M1010.2 186 C1016.2 210 1024.2 240 1034.2 270" stroke-width="2.5"/>
<path d="M1016.4 186 C1022.4 210 1030.4 240 1040.4 270" stroke-width="2.5"/>
<path d="M1022.6 186 C1028.6 210 1036.6 240 1046.6 270" stroke-width="2.5"/>
<path d="M1028.8 186 C1034.8 210 1042.8 240 1052.8 270" stroke-width="2.5"/>
<path d="M1035 186 C1041 210 1049 240 1059 270" stroke-width="2.5"/>
<path d="M938 214 L1034 196" stroke="#fff" stroke-width="2.2"/>
<path d="M938 215.2 L1034 197.2" stroke-width="0.8"/>
<path d="M942 232 L1042 214" stroke="#fff" stroke-width="2.2"/>
<path d="M942 233.2 L1042 215.2" stroke-width="0.8"/>
<path d="M950 248 L1046 232" stroke="#fff" stroke-width="2.2"/>
<path d="M950 249.2 L1046 233.2" stroke-width="0.8"/>
</g>
<path d="M960 194 L1003 185 L1016 196 L1027 210 L1036 226 L1042 242 L1045 254 L1015 262 L1012 257 L981 262 L968 256 L957 247 L947 232 L942 220 L943 209 L950 200 Z" fill="none" stroke="#2b2b2b" stroke-width="0.9" />
<path d="M1016 267 L1050 258" fill="none" stroke="#222" stroke-width="2.4" />
<path d="M1022 195 L1031 193 L1034 197 L1030 203" fill="none" stroke="#2b2b2b" stroke-width="1.0" />
<path d="M1046 236 L1054 234 L1056 246 L1051 254" fill="none" stroke="#2b2b2b" stroke-width="1.0" />
<ellipse cx="1026" cy="216" rx="1.6" ry="1.6" fill="#fff" stroke="#2b2b2b" stroke-width="0.8" />
<ellipse cx="1047" cy="234" rx="1.4" ry="1.4" fill="#fff" stroke="#2b2b2b" stroke-width="0.8" />
<path d="M978 271 C962 264 948 250 942 238" fill="none" stroke="#2b2b2b" stroke-width="1.0" />
<path d="M1059.5 157.2 L1059.5 167" stroke="#1c1c1c" stroke-width="3.6" fill="none" stroke-linecap="butt" stroke-dasharray="1.9 0.45"/>
<path d="M1059.5 154 L1059.5 157.2" stroke="#1c1c1c" stroke-width="5.6" fill="none" stroke-linecap="round"/>
<path d="M1059.5 154 L1059.5 156.2" stroke="#888" stroke-width="0.8" fill="none" stroke-linecap="round"/>
<path d="M1088 183.2 L1088 193" stroke="#1c1c1c" stroke-width="3.6" fill="none" stroke-linecap="butt" stroke-dasharray="1.9 0.45"/>
<path d="M1088 180 L1088 183.2" stroke="#1c1c1c" stroke-width="5.6" fill="none" stroke-linecap="round"/>
<path d="M1088 180 L1088 182.2" stroke="#888" stroke-width="0.8" fill="none" stroke-linecap="round"/>
<path d="M1373 309 C1392 312 1410 326 1424 350 C1436 372 1442 398 1441 420 C1440 444 1434 462 1422 474 C1414 480 1404 481 1396 480" fill="none" stroke="#2b2b2b" stroke-width="1.0" />
<path d="M1393.6 321.7 C1408 332 1420 354 1426 378 C1431 400 1432 430 1428 448 C1426 458 1424 463.6 1419 470" fill="none" stroke="#2b2b2b" stroke-width="1.0" />
<path d="M1380 312 C1398 318 1416 338 1426 362 C1436 390 1436 430 1430 452 C1426 464 1420 472 1410 478" fill="none" stroke="#2b2b2b" stroke-width="0.8" />
<path d="M1145 367 C1147 356 1154 344 1164 334 C1174 324 1186 320 1196 321.7 L1282 309 L1373 309 C1392 312 1410 326 1424 350 C1436 372 1442 398 1441 420 C1440 444 1434 462 1422 474 C1414 480 1404 481 1396 480 L1395 474 L1386 494 L1273 520.6 L1201 496.6 C1194 484 1189 472 1188 463.6 C1185 452 1183 442 1183 433 C1182 420 1182 408 1180.8 400 C1178 392 1174 386 1169.4 382.5 C1160 376 1150 372 1145 367 Z" fill="#fff" stroke="none" stroke-width="0" />
<path d="M1373 309 C1392 312 1410 326 1424 350 C1436 372 1442 398 1441 420 C1440 444 1434 462 1422 474 C1414 480 1404 481 1396 480" fill="none" stroke="#2b2b2b" stroke-width="1.0" />
<path d="M1393.6 321.7 C1408 332 1420 354 1426 378 C1431 400 1432 430 1428 448 C1426 458 1424 463.6 1419 470" fill="none" stroke="#2b2b2b" stroke-width="1.0" />
<path d="M1380 312 C1398 318 1416 338 1426 362 C1436 390 1436 430 1430 452 C1426 464 1420 472 1410 478" fill="none" stroke="#2b2b2b" stroke-width="0.8" />
<path d="M1196 321.7 L1282 309 L1373 309 L1393.6 321.7" fill="none" stroke="#2b2b2b" stroke-width="1.0" />
<path d="M1386 494 L1273 520.6" fill="none" stroke="#2b2b2b" stroke-width="1.0" />
<path d="M1145 367 C1147 356 1154 344 1164 334 C1174 324 1186 320 1196 321.7 C1202 326 1208 332 1213.7 337 C1224 344 1232 349 1239 354.7 C1245 362 1249 370 1251.7 377.5 C1255 386 1258 395 1260.6 402.8 C1266 408 1272 413 1277 418 C1279 428 1278.5 440 1278 451 L1263 453.5 L1264.4 468.7 L1281 467.4 C1282 474 1282.5 482 1282 489 C1280 500 1276 511 1273 520.6" fill="none" stroke="#1e1e1e" stroke-width="1.5" />
<path d="M1145 367 C1150 372 1160 376 1169.4 382.5 C1174 386 1178 392 1180.8 400 C1182 408 1182 420 1183 433 C1183 442 1185 452 1188 463.6 C1189 472 1194 484 1201 496.6 L1273 520.6" fill="none" stroke="#1e1e1e" stroke-width="1.5" />
<path d="M1148 362 C1152 350 1160 338 1172 330 C1180 325 1190 324 1198 326" fill="none" stroke="#2b2b2b" stroke-width="0.8" />
<path d="M1174.5 323 L1272 309.5 L1373 309" fill="none" stroke="#2b2b2b" stroke-width="0.9" />
<path d="M1216 335 L1335 312 L1373 309" fill="none" stroke="#2b2b2b" stroke-width="0.9" />
<path d="M1226 337 L1396 319" fill="none" stroke="#2b2b2b" stroke-width="1.0" />
<path d="M1222 339 L1228 343 L1396 322" fill="none" stroke="#2b2b2b" stroke-width="0.8" />
<path d="M1340 318 L1394 321" fill="none" stroke="#333" stroke-width="1.6" />
<ellipse cx="1340" cy="317" rx="1.4" ry="1" fill="#1e1e1e" stroke="#2b2b2b" stroke-width="0" />
<path d="M1153 364.8 L1239 352" fill="none" stroke="#2b2b2b" stroke-width="0.9" />
<path d="M1160 372 L1243 360" fill="none" stroke="#2b2b2b" stroke-width="0.9" />
<path d="M1183.5 405.5 L1257 390" fill="none" stroke="#2b2b2b" stroke-width="0.9" />
<path d="M1184 410 L1258 395" fill="none" stroke="#2b2b2b" stroke-width="0.9" />
<path d="M1188.5 451 L1277 433" fill="none" stroke="#2b2b2b" stroke-width="0.9" />
<path d="M1196 476 L1279.6 466" fill="none" stroke="#2b2b2b" stroke-width="0.9" />
<path d="M1201 492.5 L1282 486" fill="none" stroke="#2b2b2b" stroke-width="0.9" />
<path d="M1203 496 L1282 489.5" fill="none" stroke="#2b2b2b" stroke-width="0.9" />
<path d="M1181 398 C1200 392 1230 384 1246 372" fill="none" stroke="#2b2b2b" stroke-width="0.8" />
<path d="M1262 400 C1310 390 1370 376 1419 362" fill="none" stroke="#2b2b2b" stroke-width="0.9" />
<path d="M1277 420.6 C1320 414 1390 394 1421.5 367" fill="none" stroke="#2b2b2b" stroke-width="0.9" />
<path d="M1278 430 C1330 420 1380 404 1420 372" fill="none" stroke="#2b2b2b" stroke-width="0.8" />
<path d="M1278 443 L1395 418" fill="none" stroke="#2b2b2b" stroke-width="1.0" />
<path d="M1278 447 L1393 422" fill="none" stroke="#2b2b2b" stroke-width="0.8" />
<path d="M1395 418 L1395 474 L1386 494" fill="none" stroke="#2b2b2b" stroke-width="1.2" />
<path d="M1392 420 L1392 472" fill="none" stroke="#2b2b2b" stroke-width="0.8" />
<ellipse cx="1395" cy="418" rx="1.5" ry="1.5" fill="#1e1e1e" stroke="#2b2b2b" stroke-width="0" />
<path d="M1282 480 L1390 457" fill="none" stroke="#2b2b2b" stroke-width="0.9" />
<path d="M1282 489 L1388 468" fill="none" stroke="#2b2b2b" stroke-width="0.8" />
<path d="M1275 517 L1386 490" fill="none" stroke="#2b2b2b" stroke-width="0.9" />
<path d="M1338.6 281 L1338.6 291" stroke="#1c1c1c" stroke-width="3.2" fill="none" stroke-linecap="butt" stroke-dasharray="1.9 0.45"/>
<path d="M1338.6 279 L1338.6 281" stroke="#1c1c1c" stroke-width="4.6" fill="none" stroke-linecap="round"/>
<path d="M1338.6 279 L1338.6 280.4" stroke="#888" stroke-width="0.8" fill="none" stroke-linecap="round"/>
<path d="M1312 456 L1323 465" fill="none" stroke="#1a1a1a" stroke-width="3.6" stroke-linecap="butt" stroke-dasharray="1.4 0.6"/>
<ellipse cx="1323.5" cy="465.5" rx="2.4" ry="2.8" fill="#333" stroke="#2b2b2b" stroke-width="0.8" />
<path d="M1456 484 L1467 493" fill="none" stroke="#1a1a1a" stroke-width="3.6" stroke-linecap="butt" stroke-dasharray="1.4 0.6"/>
<ellipse cx="1467.5" cy="493.5" rx="2.4" ry="2.8" fill="#333" stroke="#2b2b2b" stroke-width="0.8" />
<path d="M979 799 L1010 656 L1020 616 C1030 578 1050 549 1082 546 C1090 545.5 1096 547 1100 548.5 L1194 586 L1181 610 L1092 575 C1090 574.5 1088 573.5 1084 574 C1068 577 1058 592 1052 614 L1044 645 L1018 773 Z" fill="#fff" stroke="none" stroke-width="0" />
<path d="M979 799 L1010 656 L1020 616 C1030 578 1050 549 1082 546 C1090 545.5 1096 547 1100 548.5 L1194 586" fill="none" stroke="#2b2b2b" stroke-width="1.0" />
<path d="M1181 610 L1092 575 C1090 574.5 1088 573.5 1084 574 C1068 577 1058 592 1052 614 L1044 645 L1018 773" fill="none" stroke="#2b2b2b" stroke-width="1.0" />
<ellipse cx="1187.5" cy="598" rx="10.5" ry="13.5" transform="rotate(18 1187.5 598)" fill="#fff" stroke="#2b2b2b" stroke-width="1.0" />
<path d="M693 866 L1024 790 C1050 790 1076 808 1092 836 C1100 850 1104 866 1103 882 C1102 904 1094 924 1082 936 C1070 946 1054 951 1036 952 L728 1028 Z" fill="#fff" stroke="#2b2b2b" stroke-width="1.0" />
<ellipse cx="692" cy="950.5" rx="74" ry="80" fill="#fff" stroke="#2b2b2b" stroke-width="1.0" />
<ellipse cx="652.5" cy="959.5" rx="7.4" ry="8.2" fill="#fff" stroke="#2b2b2b" stroke-width="1.0" />
<ellipse cx="655.5" cy="960" rx="6" ry="7" fill="#fff" stroke="#2b2b2b" stroke-width="1.0" />
<path d="M664 859 L668 857.4 L693 868 L729 885 L731 888 L727 908 L714 908 L718 892 L677 873 L673 891 L663 887 L667 874 Z" fill="#fff" stroke="#2b2b2b" stroke-width="1.0" />
<path d="M668 857.4 L677 873" fill="none" stroke="#2b2b2b" stroke-width="0.9" />
<path d="M729 885 L718 892" fill="none" stroke="#2b2b2b" stroke-width="0.9" />
<path d="M700 870 C712 872 722 878 728 884" fill="none" stroke="#2b2b2b" stroke-width="0.8" />
<path d="M728 1028 L772 1040 L781 1039 L782 1011 L774 1012 L772 1037 L736 1026 Z" fill="#fff" stroke="#2b2b2b" stroke-width="1.0" />
<path d="M774 1012 L774 1038" fill="none" stroke="#2b2b2b" stroke-width="0.8" />
<ellipse cx="776" cy="1036" rx="1" ry="1" fill="none" stroke="#2b2b2b" stroke-width="0.7" />
<path d="M1017 986.8 L1034.3 953 L1053.3 950.4 L1025.6 990.3 L1011.7 993.7 Z" fill="#fff" stroke="#2b2b2b" stroke-width="1.0" />
<path d="M959.7 971.2 L978 966.9 L991 973 L1001.3 972 L1017 986.8 L1011.7 993.7 L991 983.3 L985.7 977 L977 979.9 Z" fill="#fff" stroke="#2b2b2b" stroke-width="1.0" />
<path d="M991 973 L985.7 977" fill="none" stroke="#2b2b2b" stroke-width="0.8" />
<path d="M1017 986.8 L1012 990" fill="none" stroke="#2b2b2b" stroke-width="0.8" />
<path d="M1019 987.5 L1037 953" fill="none" stroke="#2b2b2b" stroke-width="0.8" />
<ellipse cx="974.5" cy="971.7" rx="1.4" ry="1.1" fill="none" stroke="#2b2b2b" stroke-width="0.8" />
<ellipse cx="1009" cy="986" rx="1.4" ry="1.1" fill="none" stroke="#2b2b2b" stroke-width="0.8" />
<path d="M1034 953 L1052 949.5" fill="none" stroke="#222" stroke-width="2.2" />
<ellipse cx="1014" cy="803" rx="10" ry="3.6" transform="rotate(8 1014 803)" fill="#fff" stroke="#2b2b2b" stroke-width="1.0" />
<path d="M1026.9 776.3 L1023.9 804.3 L1004.1 801.7 L1007.1 773.7 Z" fill="#fff" stroke="none" stroke-width="0" />
<path d="M1026.9 776.3 L1023.9 804.3" fill="none" stroke="#2b2b2b" stroke-width="1.0" />
<path d="M1004.1 801.7 L1007.1 773.7" fill="none" stroke="#2b2b2b" stroke-width="1.0" />
<ellipse cx="1017" cy="775" rx="10" ry="3.6" transform="rotate(8 1017 775)" fill="#fff" stroke="#2b2b2b" stroke-width="1.0" />
<ellipse cx="1017" cy="775" rx="10" ry="3.6" transform="rotate(8 1017 775)" fill="#fff" stroke="#2b2b2b" stroke-width="1.0" />
<ellipse cx="1017" cy="775.3" rx="6.5" ry="2.2" transform="rotate(8 1017 775.3)" fill="#fff" stroke="#2b2b2b" stroke-width="0.9" />
<path d="M1010 828 C1010 823 1024 823 1025 829 C1025 836 1022 840 1018 841 C1013 838 1010 833 1010 828 Z" fill="#fff" stroke="#2b2b2b" stroke-width="1.0" />
<ellipse cx="1017.5" cy="828" rx="5.2" ry="3" transform="rotate(5 1017.5 828)" fill="#fff" stroke="#2b2b2b" stroke-width="0.9" />
<path d="M829 809 L878 798 L890 802 L890 819 L841 831 L841 814 Z" fill="#fff" stroke="#2b2b2b" stroke-width="1.0" />
<path d="M841 814 L890 802" fill="none" stroke="#2b2b2b" stroke-width="1.0" />
<path d="M829 809 L829 815 L841 818" fill="none" stroke="#2b2b2b" stroke-width="0.9" />
<path d="M829 812 L838 815 L838 820 L830 818 Z" fill="#fff" stroke="#2b2b2b" stroke-width="0.9" />
<ellipse cx="834" cy="816" rx="1.6" ry="1.2" fill="none" stroke="#2b2b2b" stroke-width="0.8" />
<ellipse cx="843" cy="810" rx="1.8" ry="1.2" fill="#bbb" stroke="#2b2b2b" stroke-width="0.8" />
<ellipse cx="876" cy="802" rx="1.8" ry="1.2" fill="#bbb" stroke="#2b2b2b" stroke-width="0.8" />
<path d="M826 782 L826 796" fill="none" stroke="#1a1a1a" stroke-width="6.6" stroke-linecap="butt" stroke-dasharray="2.2 0.5"/>
<ellipse cx="826" cy="781.5" rx="8.8" ry="3.6" fill="#fff" stroke="#2b2b2b" stroke-width="1.1" />
<path d="M820.5 780 L820.5 775.5 L823.5 773.5 L829 773.5 L831.5 775.5 L831.5 780" fill="#fff" stroke="#2b2b2b" stroke-width="1.1" />
<ellipse cx="826" cy="776" rx="5.3" ry="2.4" fill="#fff" stroke="#2b2b2b" stroke-width="0.9" />
<path d="M824.2 778 L824.2 781" fill="none" stroke="#2b2b2b" stroke-width="0.8" />
<path d="M828.6 778 L828.6 781" fill="none" stroke="#2b2b2b" stroke-width="0.8" />
<path d="M872 774.5 L872 788.5" fill="none" stroke="#1a1a1a" stroke-width="6.6" stroke-linecap="butt" stroke-dasharray="2.2 0.5"/>
<ellipse cx="872" cy="774" rx="8.8" ry="3.6" fill="#fff" stroke="#2b2b2b" stroke-width="1.1" />
<path d="M866.5 772.5 L866.5 768 L869.5 766 L875 766 L877.5 768 L877.5 772.5" fill="#fff" stroke="#2b2b2b" stroke-width="1.1" />
<ellipse cx="872" cy="768.5" rx="5.3" ry="2.4" fill="#fff" stroke="#2b2b2b" stroke-width="0.9" />
<path d="M870.2 770.5 L870.2 773.5" fill="none" stroke="#2b2b2b" stroke-width="0.8" />
<path d="M874.6 770.5 L874.6 773.5" fill="none" stroke="#2b2b2b" stroke-width="0.8" />
<path d="M917 822 L917 836" fill="none" stroke="#1a1a1a" stroke-width="6.6" stroke-linecap="butt" stroke-dasharray="2.2 0.5"/>
<ellipse cx="917" cy="821.5" rx="8.8" ry="3.6" fill="#fff" stroke="#2b2b2b" stroke-width="1.1" />
<path d="M911.5 820 L911.5 815.5 L914.5 813.5 L920 813.5 L922.5 815.5 L922.5 820" fill="#fff" stroke="#2b2b2b" stroke-width="1.1" />
<ellipse cx="917" cy="816" rx="5.3" ry="2.4" fill="#fff" stroke="#2b2b2b" stroke-width="0.9" />
<path d="M915.2 818 L915.2 821" fill="none" stroke="#2b2b2b" stroke-width="0.8" />
<path d="M919.6 818 L919.6 821" fill="none" stroke="#2b2b2b" stroke-width="0.8" />
<path d="M951 816 L951 830" fill="none" stroke="#1a1a1a" stroke-width="6.6" stroke-linecap="butt" stroke-dasharray="2.2 0.5"/>
<ellipse cx="951" cy="815.5" rx="8.8" ry="3.6" fill="#fff" stroke="#2b2b2b" stroke-width="1.1" />
<path d="M945.5 814 L945.5 809.5 L948.5 807.5 L954 807.5 L956.5 809.5 L956.5 814" fill="#fff" stroke="#2b2b2b" stroke-width="1.1" />
<ellipse cx="951" cy="810" rx="5.3" ry="2.4" fill="#fff" stroke="#2b2b2b" stroke-width="0.9" />
<path d="M949.2 812 L949.2 815" fill="none" stroke="#2b2b2b" stroke-width="0.8" />
<path d="M953.6 812 L953.6 815" fill="none" stroke="#2b2b2b" stroke-width="0.8" />
<path d="M906 848 L960 836 L969 841 L956 846 L956 852 L908 862 L901 858 Z" fill="#fff" stroke="#2b2b2b" stroke-width="1.0" />
<path d="M906 848 L908 862" fill="none" stroke="#2b2b2b" stroke-width="0.9" />
<path d="M908 855 L956 846" fill="none" stroke="#2b2b2b" stroke-width="0.9" />
<path d="M914 850.5 L950 842.5" fill="none" stroke="#2b2b2b" stroke-width="0.8" />
<ellipse cx="918" cy="847" rx="2.2" ry="1.3" transform="rotate(-12 918 847)" fill="#444" stroke="#2b2b2b" stroke-width="0.6" />
<ellipse cx="953" cy="840.5" rx="2.2" ry="1.3" transform="rotate(-12 953 840.5)" fill="#444" stroke="#2b2b2b" stroke-width="0.6" />
<path d="M909 869 L912 867 L919 866.5 L921.5 869 L920 874 L912 875 Z" fill="#fff" stroke="#2b2b2b" stroke-width="1.0" />
<ellipse cx="915" cy="869.5" rx="3.4" ry="1.8" fill="#bbb" stroke="#2b2b2b" stroke-width="0.8" />
<path d="M954 865 L957 863 L964 862.5 L966.5 865 L965 870 L957 871 Z" fill="#fff" stroke="#2b2b2b" stroke-width="1.0" />
<ellipse cx="960" cy="865.5" rx="3.4" ry="1.8" fill="#bbb" stroke="#2b2b2b" stroke-width="0.8" />
<path d="M913.5 768 L913.5 785.5" fill="none" stroke="#1c1c1c" stroke-width="17" stroke-linecap="butt"/>
<path d="M906 776.5 L921 776.5" fill="none" stroke="#aaa" stroke-width="0.9" />
<path d="M910.5 771 L910.5 776.5 M916.5 771 L916.5 776.5" fill="none" stroke="#aaa" stroke-width="0.9" />
<path d="M906 781 L921 781" fill="none" stroke="#777" stroke-width="0.7" />
<ellipse cx="928" cy="760.5" rx="4.5" ry="9.2" transform="rotate(-8 928 760.5)" fill="#fff" stroke="#2b2b2b" stroke-width="1.0" />
<path d="M906.6 755.4 L926.6 751.4 L929.4 769.6 L909.4 773.6 Z" fill="#fff" stroke="none" stroke-width="0" />
<path d="M906.6 755.4 L926.6 751.4" fill="none" stroke="#2b2b2b" stroke-width="1.0" />
<path d="M929.4 769.6 L909.4 773.6" fill="none" stroke="#2b2b2b" stroke-width="1.0" />
<ellipse cx="908" cy="764.5" rx="4.5" ry="9.2" transform="rotate(-8 908 764.5)" fill="#fff" stroke="#2b2b2b" stroke-width="1.0" />
<path d="M894 767.6 L908 764.5" fill="none" stroke="#1c1c1c" stroke-width="17.5" stroke-linecap="butt"/>
<path d="M898 758.5 L898.6 775.5 M902.5 757.5 L903.1 774.5" fill="none" stroke="#999" stroke-width="0.9" />
<ellipse cx="908" cy="764.5" rx="4.5" ry="9.2" transform="rotate(-8 908 764.5)" fill="#fff" stroke="#2b2b2b" stroke-width="1.0" />
<path d="M924 752 L926 769 M928 751.5 L930 768.5" fill="none" stroke="#222" stroke-width="2.0" />
<path d="M930 754 C935 757 935 765 931 769" fill="none" stroke="#222" stroke-width="1.6" />
<path d="M914 756 C916 761 916 767 914 773 M919 755 C921 760 921 766 919 772" fill="none" stroke="#2b2b2b" stroke-width="0.8" />
<ellipse cx="896.5" cy="767.2" rx="2.4" ry="4.8" transform="rotate(-8 896.5 767.2)" fill="#fff" stroke="#2b2b2b" stroke-width="1.0" />
<path d="M892 763.3 L895.7 762.5 L897.3 771.9 L893.6 772.7 Z" fill="#fff" stroke="none" stroke-width="0" />
<path d="M892 763.3 L895.7 762.5" fill="none" stroke="#2b2b2b" stroke-width="1.0" />
<path d="M897.3 771.9 L893.6 772.7" fill="none" stroke="#2b2b2b" stroke-width="1.0" />
<ellipse cx="892.8" cy="768" rx="2.4" ry="4.8" transform="rotate(-8 892.8 768)" fill="#fff" stroke="#2b2b2b" stroke-width="1.0" />
<ellipse cx="892.8" cy="768" rx="2.4" ry="4.8" transform="rotate(-8 892.8 768)" fill="#fff" stroke="#222" stroke-width="1.5" />
<path d="M885.5 653 L887.5 709 Q888 719 878 720 L856 722 Q845 723 844 732 L842.5 742" fill="none" stroke="#2b2b2b" stroke-width="6.2" stroke-linecap="butt"/>
<path d="M885.5 653 L887.5 709 Q888 719 878 720 L856 722 Q845 723 844 732 L842.5 743" fill="none" stroke="#fff" stroke-width="4.2" stroke-linecap="butt"/>
<path d="M878 644 L880.5 642 L891 642 L893 644.5 L893 653.5 L878 653.5 Z" fill="#fff" stroke="#2b2b2b" stroke-width="1.0" />
<path d="M881 644.5 L881 653.5" fill="none" stroke="#2b2b2b" stroke-width="0.8" />
<path d="M890 644.5 L890 653.5" fill="none" stroke="#2b2b2b" stroke-width="0.8" />
<path d="M881 644.5 L890 644.5" fill="none" stroke="#2b2b2b" stroke-width="0.8" />
<ellipse cx="842.5" cy="743" rx="2.2" ry="1.6" fill="#333" stroke="#2b2b2b" stroke-width="0.6" />
<path d="M884.5 686 L890 686.5" fill="none" stroke="#2b2b2b" stroke-width="0.7" />
<path d="M876 717.5 L877 723" fill="none" stroke="#2b2b2b" stroke-width="0.7" />
<path d="M855 719 L856 725" fill="none" stroke="#2b2b2b" stroke-width="0.7" />
<path d="M564 714 C562 732 559 750 556.7 766.7 C553 782 548 796 544 810 C541 818 539 822 539.3 826 C540 834 544 838 552 839.5 L572 838.5 C586 836 596 828 606.7 820 C616 812 624 805 633 801.7 C644 799.5 656 799.5 666.7 800 C684 801.5 700 804 716.7 806.7 L768 817.5" fill="none" stroke="#2b2b2b" stroke-width="6.0" stroke-linecap="butt"/>
<path d="M564 714 C562 732 559 750 556.7 766.7 C553 782 548 796 544 810 C541 818 539 822 539.3 826 C540 834 544 838 552 839.5 L572 838.5 C586 836 596 828 606.7 820 C616 812 624 805 633 801.7 C644 799.5 656 799.5 666.7 800 C684 801.5 700 804 716.7 806.7 L768 817.5" fill="none" stroke="#fff" stroke-width="4.0" stroke-linecap="butt"/>
<path d="M556.5 706 L559.5 704 L569.5 704 L572 706.5 L571.5 714.5 L556.5 714.5 Z" fill="#fff" stroke="#2b2b2b" stroke-width="1.0" />
<path d="M559.5 706.5 L559.5 714.5" fill="none" stroke="#2b2b2b" stroke-width="0.8" />
<path d="M569 706.5 L569 714.5" fill="none" stroke="#2b2b2b" stroke-width="0.8" />
<path d="M559.5 706.5 L569 706.5" fill="none" stroke="#2b2b2b" stroke-width="0.8" />
<path d="M767 813.5 L777 814.5 L781 818 L780.5 824 L776 826 L767 823.5 Z" fill="#fff" stroke="#2b2b2b" stroke-width="1.0" />
<path d="M777 814.5 L776 826" fill="none" stroke="#2b2b2b" stroke-width="0.8" />
<path d="M552 836.5 L552.5 842.5" fill="none" stroke="#2b2b2b" stroke-width="0.7" />
<path d="M572 835.5 L572.5 841.5" fill="none" stroke="#2b2b2b" stroke-width="0.7" />
<ellipse cx="486" cy="873" rx="3.2" ry="4.6" transform="rotate(20 486 873)" fill="#fff" stroke="#2b2b2b" stroke-width="1.0" />
<path d="M449.5 855.7 L487.5 868.7 L484.5 877.3 L446.5 864.3 Z" fill="#fff" stroke="none" stroke-width="0" />
<path d="M449.5 855.7 L487.5 868.7" fill="none" stroke="#2b2b2b" stroke-width="1.0" />
<path d="M484.5 877.3 L446.5 864.3" fill="none" stroke="#2b2b2b" stroke-width="1.0" />
<ellipse cx="448" cy="860" rx="3.2" ry="4.6" transform="rotate(20 448 860)" fill="#fff" stroke="#2b2b2b" stroke-width="1.0" />
<path d="M473 868.5 L487 873.5" fill="none" stroke="#1c1c1c" stroke-width="8.8" stroke-linecap="butt" stroke-dasharray="1.8 0.45"/>
<ellipse cx="488" cy="874" rx="3" ry="4.4" transform="rotate(20 488 874)" fill="#fff" stroke="#2b2b2b" stroke-width="1.0" />
<path d="M434 853 L438 849.5 L444 851 L446 857 L444.5 864 L439 866.5 L435 862 Z" fill="#fff" stroke="#2b2b2b" stroke-width="1.1" />
<path d="M438 849.5 L439.5 856 L439 866.5" fill="none" stroke="#2b2b2b" stroke-width="0.8" />
<path d="M434 853 L439.5 856" fill="none" stroke="#2b2b2b" stroke-width="0.8" />
<ellipse cx="529.5" cy="892" rx="30" ry="35.5" transform="rotate(8 529.5 892)" fill="#1c1c1c" stroke="#1e1e1e" stroke-width="1.2" />
<path d="M524.9 923 L524.4 926.5" fill="none" stroke="#999" stroke-width="0.9" />
<path d="M520.9 921.8 L519.9 925.1" fill="none" stroke="#999" stroke-width="0.9" />
<path d="M517.1 919.8 L515.7 922.9" fill="none" stroke="#999" stroke-width="0.9" />
<path d="M513.6 917.2 L511.7 920" fill="none" stroke="#999" stroke-width="0.9" />
<path d="M510.4 913.9 L508.3 916.3" fill="none" stroke="#999" stroke-width="0.9" />
<path d="M507.8 910.1 L505.3 912.1" fill="none" stroke="#999" stroke-width="0.9" />
<path d="M505.7 905.8 L503 907.3" fill="none" stroke="#999" stroke-width="0.9" />
<path d="M504.2 901.2 L501.3 902.2" fill="none" stroke="#999" stroke-width="0.9" />
<path d="M503.3 896.4 L500.3 896.9" fill="none" stroke="#999" stroke-width="0.9" />
<path d="M503 891.5 L500 891.4" fill="none" stroke="#999" stroke-width="0.9" />
<path d="M503.4 886.5 L500.4 885.9" fill="none" stroke="#999" stroke-width="0.9" />
<path d="M504.4 881.7 L501.6 880.6" fill="none" stroke="#999" stroke-width="0.9" />
<path d="M506.1 877.2 L503.5 875.6" fill="none" stroke="#999" stroke-width="0.9" />
<path d="M508.3 873 L505.9 870.9" fill="none" stroke="#999" stroke-width="0.9" />
<path d="M511.1 869.3 L509 866.8" fill="none" stroke="#999" stroke-width="0.9" />
<path d="M514.3 866.2 L512.6 863.3" fill="none" stroke="#999" stroke-width="0.9" />
<path d="M517.9 863.7 L516.6 860.5" fill="none" stroke="#999" stroke-width="0.9" />
<path d="M521.8 861.9 L520.9 858.5" fill="none" stroke="#999" stroke-width="0.9" />
<path d="M521.5 865.5 q-8 10 -10 24" fill="none" stroke="#ddd" stroke-width="1.2" stroke-dasharray="3 2"/>
<ellipse cx="541.5" cy="893.5" rx="29.5" ry="35" transform="rotate(8 541.5 893.5)" fill="#fff" stroke="#1e1e1e" stroke-width="1.3" />
<ellipse cx="540.5" cy="893.5" rx="24" ry="27.5" transform="rotate(8 540.5 893.5)" fill="#fff" stroke="#1e1e1e" stroke-width="1.8" />
<ellipse cx="540" cy="893.5" rx="21.5" ry="25" transform="rotate(8 540 893.5)" fill="#fff" stroke="#2b2b2b" stroke-width="0.9" />
<path d="M545.4 895.5 L560.5 898.6" fill="none" stroke="#1e1e1e" stroke-width="1.5" />
<path d="M544.7 897.5 L553 902.5 L560.5 898.6" fill="none" stroke="#1e1e1e" stroke-width="1.3" />
<path d="M542.8 899.9 L551.4 914" fill="none" stroke="#1e1e1e" stroke-width="1.5" />
<path d="M541.1 900.8 L543.9 910.9 L551.4 914" fill="none" stroke="#1e1e1e" stroke-width="1.3" />
<path d="M538.3 900.8 L535.6 917.5" fill="none" stroke="#1e1e1e" stroke-width="1.5" />
<path d="M536.5 900.1 L532.5 909.1 L535.6 917.5" fill="none" stroke="#1e1e1e" stroke-width="1.3" />
<path d="M534.5 897.8 L522.4 906.8" fill="none" stroke="#1e1e1e" stroke-width="1.5" />
<path d="M533.7 895.8 L525.5 898.2 L522.4 906.8" fill="none" stroke="#1e1e1e" stroke-width="1.3" />
<path d="M533.6 892.5 L519.5 888.4" fill="none" stroke="#1e1e1e" stroke-width="1.5" />
<path d="M534.3 890.5 L527 884.5 L519.5 888.4" fill="none" stroke="#1e1e1e" stroke-width="1.3" />
<path d="M536.2 888.1 L528.6 873" fill="none" stroke="#1e1e1e" stroke-width="1.5" />
<path d="M537.9 887.2 L536.1 876.1 L528.6 873" fill="none" stroke="#1e1e1e" stroke-width="1.3" />
<path d="M540.7 887.2 L544.4 869.5" fill="none" stroke="#1e1e1e" stroke-width="1.5" />
<path d="M542.5 887.9 L547.5 877.9 L544.4 869.5" fill="none" stroke="#1e1e1e" stroke-width="1.3" />
<path d="M544.5 890.2 L557.6 880.2" fill="none" stroke="#1e1e1e" stroke-width="1.5" />
<path d="M545.3 892.2 L554.5 888.8 L557.6 880.2" fill="none" stroke="#1e1e1e" stroke-width="1.3" />
<ellipse cx="539.5" cy="894" rx="6.5" ry="7.5" transform="rotate(8 539.5 894)" fill="#fff" stroke="#1e1e1e" stroke-width="1.6" />
<ellipse cx="539.5" cy="894" rx="3" ry="3.5" transform="rotate(8 539.5 894)" fill="#fff" stroke="#1e1e1e" stroke-width="1.3" />
<ellipse cx="831" cy="1065" rx="30" ry="35.5" transform="rotate(8 831 1065)" fill="#1c1c1c" stroke="#1e1e1e" stroke-width="1.2" />
<path d="M826.4 1096 L825.9 1099.5" fill="none" stroke="#999" stroke-width="0.9" />
<path d="M822.4 1094.8 L821.4 1098.1" fill="none" stroke="#999" stroke-width="0.9" />
<path d="M818.6 1092.8 L817.2 1095.9" fill="none" stroke="#999" stroke-width="0.9" />
<path d="M815.1 1090.2 L813.2 1093" fill="none" stroke="#999" stroke-width="0.9" />
<path d="M811.9 1086.9 L809.8 1089.3" fill="none" stroke="#999" stroke-width="0.9" />
<path d="M809.3 1083.1 L806.8 1085.1" fill="none" stroke="#999" stroke-width="0.9" />
<path d="M807.2 1078.8 L804.5 1080.3" fill="none" stroke="#999" stroke-width="0.9" />
<path d="M805.7 1074.2 L802.8 1075.2" fill="none" stroke="#999" stroke-width="0.9" />
<path d="M804.8 1069.4 L801.8 1069.9" fill="none" stroke="#999" stroke-width="0.9" />
<path d="M804.5 1064.5 L801.5 1064.4" fill="none" stroke="#999" stroke-width="0.9" />
<path d="M804.9 1059.5 L801.9 1058.9" fill="none" stroke="#999" stroke-width="0.9" />
<path d="M805.9 1054.7 L803.1 1053.6" fill="none" stroke="#999" stroke-width="0.9" />
<path d="M807.6 1050.2 L805 1048.6" fill="none" stroke="#999" stroke-width="0.9" />
<path d="M809.8 1046 L807.4 1043.9" fill="none" stroke="#999" stroke-width="0.9" />
<path d="M812.6 1042.3 L810.5 1039.8" fill="none" stroke="#999" stroke-width="0.9" />
<path d="M815.8 1039.2 L814.1 1036.3" fill="none" stroke="#999" stroke-width="0.9" />
<path d="M819.4 1036.7 L818.1 1033.5" fill="none" stroke="#999" stroke-width="0.9" />
<path d="M823.3 1034.9 L822.4 1031.5" fill="none" stroke="#999" stroke-width="0.9" />
<path d="M823 1038.5 q-8 10 -10 24" fill="none" stroke="#ddd" stroke-width="1.2" stroke-dasharray="3 2"/>
<ellipse cx="843" cy="1066.5" rx="29.5" ry="35" transform="rotate(8 843 1066.5)" fill="#fff" stroke="#1e1e1e" stroke-width="1.3" />
<ellipse cx="842" cy="1066.5" rx="24" ry="27.5" transform="rotate(8 842 1066.5)" fill="#fff" stroke="#1e1e1e" stroke-width="1.8" />
<ellipse cx="841.5" cy="1066.5" rx="21.5" ry="25" transform="rotate(8 841.5 1066.5)" fill="#fff" stroke="#2b2b2b" stroke-width="0.9" />
<path d="M846.9 1068.5 L862 1071.6" fill="none" stroke="#1e1e1e" stroke-width="1.5" />
<path d="M846.2 1070.5 L854.5 1075.5 L862 1071.6" fill="none" stroke="#1e1e1e" stroke-width="1.3" />
<path d="M844.3 1072.9 L852.9 1087" fill="none" stroke="#1e1e1e" stroke-width="1.5" />
<path d="M842.6 1073.8 L845.4 1083.9 L852.9 1087" fill="none" stroke="#1e1e1e" stroke-width="1.3" />
<path d="M839.8 1073.8 L837.1 1090.5" fill="none" stroke="#1e1e1e" stroke-width="1.5" />
<path d="M838 1073.1 L834 1082.1 L837.1 1090.5" fill="none" stroke="#1e1e1e" stroke-width="1.3" />
<path d="M836 1070.8 L823.9 1079.8" fill="none" stroke="#1e1e1e" stroke-width="1.5" />
<path d="M835.2 1068.8 L827 1071.2 L823.9 1079.8" fill="none" stroke="#1e1e1e" stroke-width="1.3" />
<path d="M835.1 1065.5 L821 1061.4" fill="none" stroke="#1e1e1e" stroke-width="1.5" />
<path d="M835.8 1063.5 L828.5 1057.5 L821 1061.4" fill="none" stroke="#1e1e1e" stroke-width="1.3" />
<path d="M837.7 1061.1 L830.1 1046" fill="none" stroke="#1e1e1e" stroke-width="1.5" />
<path d="M839.4 1060.2 L837.6 1049.1 L830.1 1046" fill="none" stroke="#1e1e1e" stroke-width="1.3" />
<path d="M842.2 1060.2 L845.9 1042.5" fill="none" stroke="#1e1e1e" stroke-width="1.5" />
<path d="M844 1060.9 L849 1050.9 L845.9 1042.5" fill="none" stroke="#1e1e1e" stroke-width="1.3" />
<path d="M846 1063.2 L859.1 1053.2" fill="none" stroke="#1e1e1e" stroke-width="1.5" />
<path d="M846.8 1065.2 L856 1061.8 L859.1 1053.2" fill="none" stroke="#1e1e1e" stroke-width="1.3" />
<ellipse cx="841" cy="1067" rx="6.5" ry="7.5" transform="rotate(8 841 1067)" fill="#fff" stroke="#1e1e1e" stroke-width="1.6" />
<ellipse cx="841" cy="1067" rx="3" ry="3.5" transform="rotate(8 841 1067)" fill="#fff" stroke="#1e1e1e" stroke-width="1.3" />
<ellipse cx="572.8" cy="909.6" rx="6.2" ry="8.2" transform="rotate(-15 572.8 909.6)" fill="#fff" stroke="#2b2b2b" stroke-width="1.2" />
<ellipse cx="573" cy="909.6" rx="2.6" ry="3.6" transform="rotate(-15 573 909.6)" fill="#fff" stroke="#2b2b2b" stroke-width="1.0" />
<path d="M584 908 L590 905 L598.5 908 L600.5 915 L596 921.5 L588 920.5 L584 915 Z" fill="#fff" stroke="#2b2b2b" stroke-width="1.2" />
<ellipse cx="594" cy="914" rx="4.6" ry="4.6" fill="#222" stroke="#2b2b2b" stroke-width="1.0" />
<path d="M588 906 L588.5 912 L585 916" fill="none" stroke="#2b2b2b" stroke-width="0.8" />
<ellipse cx="573" cy="963.5" rx="6.8" ry="8.8" transform="rotate(-10 573 963.5)" fill="#fff" stroke="#2b2b2b" stroke-width="1.0" />
<path d="M562.8 957.5 L570.8 955 L575.2 972 L567.2 974.5 Z" fill="#fff" stroke="none" stroke-width="0" />
<path d="M562.8 957.5 L570.8 955" fill="none" stroke="#2b2b2b" stroke-width="1.0" />
<path d="M575.2 972 L567.2 974.5" fill="none" stroke="#2b2b2b" stroke-width="1.0" />
<ellipse cx="565" cy="966" rx="6.8" ry="8.8" transform="rotate(-10 565 966)" fill="#fff" stroke="#2b2b2b" stroke-width="1.0" />
<ellipse cx="573" cy="963.5" rx="6.8" ry="8.8" transform="rotate(-10 573 963.5)" fill="#fff" stroke="#2b2b2b" stroke-width="1.0" />
<path d="M558.5 962 C559.3 960.1 561.1 958.2 563 957.5 C564.9 956.8 568.7 956.6 570 958 C571.3 959.4 571.3 963.4 571 966 C570.7 968.6 569.5 972.2 568 973.5 C566.5 974.8 563.7 974.8 562 974 C560.3 973.2 558.6 971 558 969 C557.4 967 557.7 963.9 558.5 962 Z" fill="#fff" stroke="#2b2b2b" stroke-width="1.0" />
<ellipse cx="600.5" cy="960.5" rx="4.6" ry="5.8" transform="rotate(-25 600.5 960.5)" fill="#fff" stroke="#2b2b2b" stroke-width="1.0" />
<ellipse cx="598.5" cy="961" rx="4.6" ry="5.8" transform="rotate(-25 598.5 961)" fill="#fff" stroke="#2b2b2b" stroke-width="1.0" />
<path d="M796.6 1042.9 L793.8 1047 L788.2 1047 L785.4 1042.9 L788.2 1038.8 L793.8 1038.8 Z" fill="#fff" stroke="#2b2b2b" stroke-width="1.0" />
<path d="M796.6 1040.7 L793.8 1044.8 L788.2 1044.8 L785.4 1040.7 L788.2 1036.6 L793.8 1036.6 Z" fill="#fff" stroke="#2b2b2b" stroke-width="1.0" />
<ellipse cx="791" cy="1040.7" rx="2.9" ry="2.5" fill="#444" stroke="#2b2b2b" stroke-width="0.9" />
<ellipse cx="885.7" cy="1084" rx="7.4" ry="9.2" transform="rotate(-15 885.7 1084)" fill="#fff" stroke="#2b2b2b" stroke-width="1.1" />
<ellipse cx="885.7" cy="1084" rx="3" ry="4" transform="rotate(-15 885.7 1084)" fill="#fff" stroke="#2b2b2b" stroke-width="1.0" />
<ellipse cx="905" cy="1091" rx="5" ry="6.6" transform="rotate(20 905 1091)" fill="#fff" stroke="#2b2b2b" stroke-width="1.0" />
<path d="M912.6 1101.2 L902.6 1097.2 L907.4 1084.8 L917.4 1088.8 Z" fill="#fff" stroke="none" stroke-width="0" />
<path d="M912.6 1101.2 L902.6 1097.2" fill="none" stroke="#2b2b2b" stroke-width="1.0" />
<path d="M907.4 1084.8 L917.4 1088.8" fill="none" stroke="#2b2b2b" stroke-width="1.0" />
<ellipse cx="915" cy="1095" rx="5" ry="6.6" transform="rotate(20 915 1095)" fill="#fff" stroke="#2b2b2b" stroke-width="1.0" />
<ellipse cx="915" cy="1095" rx="5" ry="6.6" transform="rotate(20 915 1095)" fill="#fff" stroke="#2b2b2b" stroke-width="1.0" />
<ellipse cx="915.5" cy="1095.3" rx="3" ry="4.2" transform="rotate(20 915.5 1095.3)" fill="#ddd" stroke="#2b2b2b" stroke-width="0.9" />
<ellipse cx="970" cy="1116.5" rx="3.4" ry="5" transform="rotate(20 970 1116.5)" fill="#fff" stroke="#2b2b2b" stroke-width="1.0" />
<path d="M932.8 1096.3 L971.8 1111.8 L968.2 1121.2 L929.2 1105.7 Z" fill="#fff" stroke="none" stroke-width="0" />
<path d="M932.8 1096.3 L971.8 1111.8" fill="none" stroke="#2b2b2b" stroke-width="1.0" />
<path d="M968.2 1121.2 L929.2 1105.7" fill="none" stroke="#2b2b2b" stroke-width="1.0" />
<ellipse cx="931" cy="1101" rx="3.4" ry="5" transform="rotate(20 931 1101)" fill="#fff" stroke="#2b2b2b" stroke-width="1.0" />
<path d="M929.5 1100.5 L938 1104" fill="none" stroke="#1c1c1c" stroke-width="9.6" stroke-linecap="butt" stroke-dasharray="1.8 0.45"/>
<path d="M966 1113 L971 1111 L980 1114.5 L982.5 1121 L980 1127.5 L974 1129 L966.5 1125 Z" fill="#fff" stroke="#2b2b2b" stroke-width="1.1" />
<path d="M971 1111 L972 1120 L966.5 1125" fill="none" stroke="#2b2b2b" stroke-width="0.8" />
<path d="M972 1120 L982.5 1121" fill="none" stroke="#2b2b2b" stroke-width="0.8" />
<path d="M892.5 1006 L898.5 1021" fill="none" stroke="#1c1c1c" stroke-width="8" stroke-linecap="butt" stroke-dasharray="2.6 0.7"/>
<ellipse cx="892" cy="1005.5" rx="4" ry="3" fill="#444" stroke="#1e1e1e" stroke-width="1.2" />
<ellipse cx="896.5" cy="1014.5" rx="5" ry="2.8" transform="rotate(10 896.5 1014.5)" fill="#ddd" stroke="#1e1e1e" stroke-width="1.3" />
<ellipse cx="899.5" cy="1023" rx="2.2" ry="2" fill="#fff" stroke="#2b2b2b" stroke-width="1.0" />
<path d="M966.7 996.2 L963.6 1000.2 L957.4 1000.2 L954.3 996.2 L957.4 992.2 L963.6 992.2 Z" fill="#fff" stroke="#2b2b2b" stroke-width="1.0" />
<path d="M966.7 994 L963.6 998 L957.4 998 L954.3 994 L957.4 990 L963.6 990 Z" fill="#fff" stroke="#2b2b2b" stroke-width="1.0" />
<ellipse cx="960.5" cy="994" rx="3.2" ry="2.4" fill="#fff" stroke="#2b2b2b" stroke-width="0.9" />
<path d="M1015.2 1018.2 L1012.1 1022.2 L1005.9 1022.2 L1002.8 1018.2 L1005.9 1014.2 L1012.1 1014.2 Z" fill="#fff" stroke="#2b2b2b" stroke-width="1.0" />
<path d="M1015.2 1016 L1012.1 1020 L1005.9 1020 L1002.8 1016 L1005.9 1012 L1012.1 1012 Z" fill="#fff" stroke="#2b2b2b" stroke-width="1.0" />
<ellipse cx="1009" cy="1016" rx="3.2" ry="2.4" fill="#fff" stroke="#2b2b2b" stroke-width="0.9" />
<path d="M939.5 1022 L943 1036 C948 1042.5 964 1042.5 968.5 1035 L972.5 1022" fill="#fff" stroke="#2b2b2b" stroke-width="1.0" />
<ellipse cx="956" cy="1022" rx="16.5" ry="6.2" fill="#fff" stroke="#2b2b2b" stroke-width="1.0" />
<path d="M940 1025.5 C948 1032.5 964 1032.5 972 1025.5" fill="none" stroke="#2b2b2b" stroke-width="0.9" />
<ellipse cx="957" cy="1021.5" rx="2.6" ry="1" fill="#1e1e1e" stroke="#2b2b2b" stroke-width="0" />
<path d="M988.0 1043 L991.5 1057 C996.5 1063.5 1012.5 1063.5 1017.0 1056 L1021.0 1043" fill="#fff" stroke="#2b2b2b" stroke-width="1.0" />
<ellipse cx="1004.5" cy="1043" rx="16.5" ry="6.2" fill="#fff" stroke="#2b2b2b" stroke-width="1.0" />
<path d="M988.5 1046.5 C996.5 1053.5 1012.5 1053.5 1020.5 1046.5" fill="none" stroke="#2b2b2b" stroke-width="0.9" />
<ellipse cx="1005.5" cy="1042.5" rx="2.6" ry="1" fill="#1e1e1e" stroke="#2b2b2b" stroke-width="0" />
<path d="M948.5 1060 L946.5 1072" fill="none" stroke="#1c1c1c" stroke-width="5.0" stroke-linecap="butt" stroke-dasharray="1.9 0.4"/>
<path d="M941.5 1072 L950 1071 L951 1076 L943 1077.5 Z" fill="#fff" stroke="#2b2b2b" stroke-width="1.0" />
<path d="M998.0 1081 L996.0 1093" fill="none" stroke="#1c1c1c" stroke-width="5.0" stroke-linecap="butt" stroke-dasharray="1.9 0.4"/>
<path d="M991 1093 L999.5 1092 L1000.5 1097 L992.5 1098.5 Z" fill="#fff" stroke="#2b2b2b" stroke-width="1.0" />
<ellipse cx="1087" cy="716" rx="4.6" ry="2.2" fill="#fff" stroke="#2b2b2b" stroke-width="1.0" />
<path d="M1082.4 730 L1082.4 716 L1091.6 716 L1091.6 730 Z" fill="#fff" stroke="none" stroke-width="0" />
<path d="M1082.4 730 L1082.4 716" fill="none" stroke="#2b2b2b" stroke-width="1.0" />
<path d="M1091.6 716 L1091.6 730" fill="none" stroke="#2b2b2b" stroke-width="1.0" />
<ellipse cx="1087" cy="730" rx="4.6" ry="2.2" fill="#fff" stroke="#2b2b2b" stroke-width="1.0" />
<ellipse cx="1098" cy="721" rx="4.6" ry="2.2" fill="#fff" stroke="#2b2b2b" stroke-width="1.0" />
<path d="M1093.4 735 L1093.4 721 L1102.6 721 L1102.6 735 Z" fill="#fff" stroke="none" stroke-width="0" />
<path d="M1093.4 735 L1093.4 721" fill="none" stroke="#2b2b2b" stroke-width="1.0" />
<path d="M1102.6 721 L1102.6 735" fill="none" stroke="#2b2b2b" stroke-width="1.0" />
<ellipse cx="1098" cy="735" rx="4.6" ry="2.2" fill="#fff" stroke="#2b2b2b" stroke-width="1.0" />
<path d="M1081.5 703 L1102 718 L1142.5 711 L1143 716.5 L1102.5 724.5 L1082 709 Z" fill="#fff" stroke="#2b2b2b" stroke-width="1.0" />
<path d="M1089.4 662.4 L1121.5 655.5 L1144 662.4 L1142.3 712 L1102.4 719.6 L1081.6 704 Z" fill="#fff" stroke="#2b2b2b" stroke-width="1.1" />
<path d="M1089.4 662.4 L1107.6 671 L1144 662.4" fill="none" stroke="#2b2b2b" stroke-width="1.0" />
<path d="M1107.6 671 L1102.4 719.6" fill="none" stroke="#2b2b2b" stroke-width="1.0" />
<path d="M1092 675 L1090.8 699" fill="none" stroke="#222" stroke-width="1.8" />
<path d="M1097 679 L1095.8 701" fill="none" stroke="#222" stroke-width="1.8" />
<path d="M1101 682 L1099.8 706" fill="none" stroke="#222" stroke-width="1.8" />
<path d="M1113 681 L1111.8 707" fill="none" stroke="#222" stroke-width="1.8" />
<path d="M1119 679 L1117.8 703" fill="none" stroke="#222" stroke-width="1.8" />
<path d="M1127 676 L1125.8 702" fill="none" stroke="#222" stroke-width="1.8" />
<path d="M1133 674 L1131.8 696" fill="none" stroke="#222" stroke-width="1.8" />
<path d="M1138 672 L1136.8 698" fill="none" stroke="#222" stroke-width="1.8" />
<path d="M1105 684 L1102.5 712" fill="none" stroke="#444" stroke-width="3.0" />
<ellipse cx="1122" cy="660" rx="5.6" ry="2.4" fill="#fff" stroke="#2b2b2b" stroke-width="1.0" />
<path d="M1127.6 650 L1127.6 660 L1116.4 660 L1116.4 650 Z" fill="#fff" stroke="none" stroke-width="0" />
<path d="M1127.6 650 L1127.6 660" fill="none" stroke="#2b2b2b" stroke-width="1.0" />
<path d="M1116.4 660 L1116.4 650" fill="none" stroke="#2b2b2b" stroke-width="1.0" />
<ellipse cx="1122" cy="650" rx="5.6" ry="2.4" fill="#fff" stroke="#2b2b2b" stroke-width="1.0" />
<ellipse cx="1122" cy="650" rx="5.6" ry="2.4" fill="#fff" stroke="#2b2b2b" stroke-width="1.0" />
<path d="M1113 664.5 L1118 663" fill="none" stroke="#2b2b2b" stroke-width="1.4" />
<path d="M1116 749 L1116 763" fill="none" stroke="#1c1c1c" stroke-width="13.5" stroke-linecap="butt"/>
<path d="M1109.5 752 L1122.5 751.4" fill="none" stroke="#999" stroke-width="0.8" />
<path d="M1109.5 755 L1122.5 754.4" fill="none" stroke="#999" stroke-width="0.8" />
<path d="M1109.5 758 L1122.5 757.4" fill="none" stroke="#999" stroke-width="0.8" />
<path d="M1109.5 761 L1122.5 760.4" fill="none" stroke="#999" stroke-width="0.8" />
<path d="M1152 718 L1163 716.5 L1168 726 L1167 735 L1156 738 Z" fill="#242424" stroke="#2b2b2b" stroke-width="1.0" />
<path d="M1155 719 L1158 737 M1160 718 L1163 735.5 M1164.5 720 L1166.5 734" fill="none" stroke="#bbb" stroke-width="0.9" />
<path d="M1163 736 L1174 733.5 L1179 740 L1178 748 L1168 750.5 Z" fill="#242424" stroke="#2b2b2b" stroke-width="1.0" />
<path d="M1166 737 L1169 749.5 M1170.5 735.5 L1173.5 748.5 M1175 736 L1177 747" fill="none" stroke="#bbb" stroke-width="0.9" />
<path d="M1114 735 L1120 731 L1152 751 L1158 756 L1152 761 L1146 762 L1112 741 Z" fill="#fff" stroke="#2b2b2b" stroke-width="1.0" />
<path d="M1120 737 L1150 756" fill="none" stroke="#2b2b2b" stroke-width="0.9" />
<path d="M1109.5 727 L1122.5 724.5 L1122.5 748 L1109.5 749.5 Z" fill="#fff" stroke="#2b2b2b" stroke-width="1.0" />
<path d="M1109.5 741 L1122.5 739.5" fill="none" stroke="#2b2b2b" stroke-width="0.9" />
<path d="M1113 726.5 L1113 741" fill="none" stroke="#2b2b2b" stroke-width="0.8" />
<ellipse cx="1163" cy="742.5" rx="3.6" ry="5" transform="rotate(-15 1163 742.5)" fill="#fff" stroke="#2b2b2b" stroke-width="1.0" />
<path d="M1152 741.2 L1161.5 737.7 L1164.5 747.3 L1155 750.8 Z" fill="#fff" stroke="none" stroke-width="0" />
<path d="M1152 741.2 L1161.5 737.7" fill="none" stroke="#2b2b2b" stroke-width="1.0" />
<path d="M1164.5 747.3 L1155 750.8" fill="none" stroke="#2b2b2b" stroke-width="1.0" />
<ellipse cx="1153.5" cy="746" rx="3.6" ry="5" transform="rotate(-15 1153.5 746)" fill="#fff" stroke="#2b2b2b" stroke-width="1.0" />
<ellipse cx="1143" cy="735.5" rx="11" ry="4.4" fill="#fff" stroke="#2b2b2b" stroke-width="1.0" />
<path d="M1154 723.5 L1154 735.5 L1132 735.5 L1132 723.5 Z" fill="#fff" stroke="none" stroke-width="0" />
<path d="M1154 723.5 L1154 735.5" fill="none" stroke="#2b2b2b" stroke-width="1.0" />
<path d="M1132 735.5 L1132 723.5" fill="none" stroke="#2b2b2b" stroke-width="1.0" />
<ellipse cx="1143" cy="723.5" rx="11" ry="4.4" fill="#fff" stroke="#2b2b2b" stroke-width="1.0" />
<ellipse cx="1143" cy="723.5" rx="11" ry="4.4" fill="#fff" stroke="#2b2b2b" stroke-width="1.0" />
<path d="M1132 728 C1136 732.5 1150 732.5 1154 728" fill="none" stroke="#2b2b2b" stroke-width="0.9" />
<path d="M1136 740 L1134 748 L1142 752" fill="none" stroke="#2b2b2b" stroke-width="1.0" />
<ellipse cx="1146" cy="752.5" rx="3.2" ry="4.2" transform="rotate(20 1146 752.5)" fill="#fff" stroke="#2b2b2b" stroke-width="1.0" />
<path d="M1156.4 761.9 L1144.4 756.4 L1147.6 748.6 L1159.6 754.1 Z" fill="#fff" stroke="none" stroke-width="0" />
<path d="M1156.4 761.9 L1144.4 756.4" fill="none" stroke="#2b2b2b" stroke-width="1.0" />
<path d="M1147.6 748.6 L1159.6 754.1" fill="none" stroke="#2b2b2b" stroke-width="1.0" />
<ellipse cx="1158" cy="758" rx="3.2" ry="4.2" transform="rotate(20 1158 758)" fill="#fff" stroke="#2b2b2b" stroke-width="1.0" />
<ellipse cx="1158" cy="758" rx="3.2" ry="4.2" transform="rotate(20 1158 758)" fill="#fff" stroke="#2b2b2b" stroke-width="1.0" />
<ellipse cx="1158.3" cy="758.2" rx="1.4" ry="1.8" transform="rotate(20 1158.3 758.2)" fill="#fff" stroke="#2b2b2b" stroke-width="0.8" />
<path d="M1143.5 749.5 L1147 756.5" fill="none" stroke="#222" stroke-width="2.4" />
<path d="M1101.5 803 L1108 796.5 L1122 796 L1129 802 L1129 810 L1122 816.5 L1108 817 L1101.5 811 Z" fill="#fff" stroke="#2b2b2b" stroke-width="1.1" />
<path d="M1101.5 803 L1108 809.5 L1122 809 L1129 802" fill="none" stroke="#2b2b2b" stroke-width="1.0" />
<path d="M1108 809.5 L1108 817" fill="none" stroke="#2b2b2b" stroke-width="0.9" />
<path d="M1122 809 L1122 816.5" fill="none" stroke="#2b2b2b" stroke-width="0.9" />
<ellipse cx="1115" cy="802.5" rx="8.6" ry="4" fill="#fff" stroke="#2b2b2b" stroke-width="1.0" />
<path d="M1267 608 L1337 642.6 C1345 648 1346 660 1338 666 C1334 668 1329 668.5 1325 667.3 L1251 631.5 Z" fill="#fff" stroke="#2b2b2b" stroke-width="1.0" />
<ellipse cx="1259.5" cy="620.4" rx="11.5" ry="15" transform="rotate(24 1259.5 620.4)" fill="#fff" stroke="#2b2b2b" stroke-width="1.0" />
<ellipse cx="1259.5" cy="620.4" rx="7.2" ry="10.4" transform="rotate(24 1259.5 620.4)" fill="#fff" stroke="#2b2b2b" stroke-width="1.0" />
<path d="M1334 649 C1340 652 1340 661 1334 665" fill="none" stroke="#2b2b2b" stroke-width="0.8" />
<path d="M1146.5 871 C1148.1 872.5 1152.6 877.1 1156 880 C1159.4 882.9 1162.7 885.9 1167 888.5 C1171.3 891.1 1177.1 893.9 1182 895.5 C1186.9 897.1 1191.8 898.2 1196.6 898 C1201.4 897.8 1206.5 896.1 1211 894 C1215.5 891.9 1219.5 888.9 1223.7 885.6 C1227.9 882.4 1232.3 877.8 1236 874.5 C1239.7 871.2 1242.5 868.3 1246 866 C1249.5 863.7 1253.3 861.8 1257 860.5 C1260.7 859.2 1264.5 858.5 1268 858.5 C1271.5 858.5 1274.7 859.2 1278 860.5 C1281.3 861.8 1284.7 863.6 1288 866 C1291.3 868.4 1294.7 872.2 1298 875 C1301.3 877.8 1304.8 880.9 1307.6 883 C1310.4 885.1 1312.5 886.5 1315 887.5 C1317.5 888.5 1319.2 889.5 1322.4 889.3 C1325.6 889.1 1329.9 887.9 1334 886.5 C1338.1 885.1 1342.3 883 1347 880.7 C1351.7 878.5 1357 875.5 1362 873 C1367 870.5 1372 867.9 1376.7 866 C1381.4 864.1 1386 862.5 1390 861.5 C1394 860.5 1397.8 859.9 1401 859.7 C1404.2 859.5 1406.5 859.9 1409 860.5 C1411.5 861.1 1414.2 862.1 1416 863.4 C1417.8 864.7 1419.2 866.5 1420 868.5 C1420.8 870.5 1421.2 872.8 1421 875.7 C1420.8 878.6 1419.7 882.7 1418.5 886 C1417.3 889.3 1415.6 892.3 1413.7 895.5 C1411.8 898.7 1409.3 901.9 1407 905 C1404.7 908.1 1401.2 912.5 1400 914" fill="none" stroke="#2b2b2b" stroke-width="5.4" stroke-linecap="butt"/>
<path d="M1146.5 871 C1148.1 872.5 1152.6 877.1 1156 880 C1159.4 882.9 1162.7 885.9 1167 888.5 C1171.3 891.1 1177.1 893.9 1182 895.5 C1186.9 897.1 1191.8 898.2 1196.6 898 C1201.4 897.8 1206.5 896.1 1211 894 C1215.5 891.9 1219.5 888.9 1223.7 885.6 C1227.9 882.4 1232.3 877.8 1236 874.5 C1239.7 871.2 1242.5 868.3 1246 866 C1249.5 863.7 1253.3 861.8 1257 860.5 C1260.7 859.2 1264.5 858.5 1268 858.5 C1271.5 858.5 1274.7 859.2 1278 860.5 C1281.3 861.8 1284.7 863.6 1288 866 C1291.3 868.4 1294.7 872.2 1298 875 C1301.3 877.8 1304.8 880.9 1307.6 883 C1310.4 885.1 1312.5 886.5 1315 887.5 C1317.5 888.5 1319.2 889.5 1322.4 889.3 C1325.6 889.1 1329.9 887.9 1334 886.5 C1338.1 885.1 1342.3 883 1347 880.7 C1351.7 878.5 1357 875.5 1362 873 C1367 870.5 1372 867.9 1376.7 866 C1381.4 864.1 1386 862.5 1390 861.5 C1394 860.5 1397.8 859.9 1401 859.7 C1404.2 859.5 1406.5 859.9 1409 860.5 C1411.5 861.1 1414.2 862.1 1416 863.4 C1417.8 864.7 1419.2 866.5 1420 868.5 C1420.8 870.5 1421.2 872.8 1421 875.7 C1420.8 878.6 1419.7 882.7 1418.5 886 C1417.3 889.3 1415.6 892.3 1413.7 895.5 C1411.8 898.7 1409.3 901.9 1407 905 C1404.7 908.1 1401.2 912.5 1400 914" fill="none" stroke="#fff" stroke-width="3.4" stroke-linecap="butt"/>
<path d="M1396.5 910.5 L1403 914.8 L1392.8 927.8 L1385.4 922.2 Z" fill="#fff" stroke="#2b2b2b" stroke-width="1.0" />
<path d="M1398.3 908.2 L1404.6 912.6" fill="none" stroke="#2b2b2b" stroke-width="1.0" />
<ellipse cx="1362" cy="933" rx="1.6" ry="2.4" transform="rotate(30 1362 933)" fill="#fff" stroke="#2b2b2b" stroke-width="1.0" />
<path d="M1350.6 924.9 L1363.1 930.9 L1360.9 935.1 L1348.4 929.1 Z" fill="#fff" stroke="none" stroke-width="0" />
<path d="M1350.6 924.9 L1363.1 930.9" fill="none" stroke="#2b2b2b" stroke-width="1.0" />
<path d="M1360.9 935.1 L1348.4 929.1" fill="none" stroke="#2b2b2b" stroke-width="1.0" />
<ellipse cx="1349.5" cy="927" rx="1.6" ry="2.4" transform="rotate(30 1349.5 927)" fill="#fff" stroke="#2b2b2b" stroke-width="1.0" />
<path d="M1353.6 940.8 L1366.7 923.1 L1377.9 929.6 L1364.8 948.3 Z" fill="#fff" stroke="#2b2b2b" stroke-width="1.1" />
<path d="M1357 936.2 L1368.5 943" fill="none" stroke="#2b2b2b" stroke-width="0.9" />
<path d="M1359.3 933 L1370.8 939.8" fill="none" stroke="#2b2b2b" stroke-width="0.9" />
<path d="M1361.6 929.9 L1373 936.6" fill="none" stroke="#2b2b2b" stroke-width="0.9" />
<path d="M1385.4 922.2 L1392.8 927.8 L1378.6 948.3 L1364.8 948.3 L1367.6 944.5 Z" fill="#fff" stroke="#1e1e1e" stroke-width="1.3" />
<path d="M1367.6 944.5 L1385.4 922.2" fill="none" stroke="#1e1e1e" stroke-width="2.0" />
<path d="M1391.5 930 L1379 947.5" fill="none" stroke="#222" stroke-width="2.2" stroke-dasharray="1 0.8"/>
<text transform="translate(29 221.2) scale(0.82 1)" text-anchor="middle" font-size="22.5" class="n">1</text>
<path d="M48 216.4 L93 216.4 L167 271" fill="none" stroke="#2e2e2e" stroke-width="1.1" />
<text transform="translate(29 252.2) scale(0.82 1)" text-anchor="middle" font-size="22.5" class="n">2</text>
<path d="M48 247.4 L93 247.4 L176 308" fill="none" stroke="#2e2e2e" stroke-width="1.1" />
<text transform="translate(29 281.8) scale(0.82 1)" text-anchor="middle" font-size="22.5" class="n">3</text>
<path d="M48 277 L93 277 L189 347" fill="none" stroke="#2e2e2e" stroke-width="1.1" />
<text transform="translate(29 311.8) scale(0.82 1)" text-anchor="middle" font-size="22.5" class="n">4</text>
<path d="M48 307 L93 307 L195 370" fill="none" stroke="#2e2e2e" stroke-width="1.1" />
<text transform="translate(29 342.4) scale(0.82 1)" text-anchor="middle" font-size="22.5" class="n">5</text>
<path d="M48 337.6 L93 337.6 L198 397" fill="none" stroke="#2e2e2e" stroke-width="1.1" />
<text transform="translate(29 370.8) scale(0.82 1)" text-anchor="middle" font-size="22.5" class="n">6</text>
<path d="M48 366 L93 366 L214 422" fill="none" stroke="#2e2e2e" stroke-width="1.1" />
<text transform="translate(29 398.8) scale(0.82 1)" text-anchor="middle" font-size="22.5" class="n">7</text>
<path d="M48 394 L93 394 L221 435.6" fill="none" stroke="#2e2e2e" stroke-width="1.1" />
<text transform="translate(29 423.8) scale(0.82 1)" text-anchor="middle" font-size="22.5" class="n">8</text>
<path d="M48 419 L93 419 L218 459" fill="none" stroke="#2e2e2e" stroke-width="1.1" />
<text transform="translate(29 448.2) scale(0.82 1)" text-anchor="middle" font-size="22.5" class="n">9</text>
<path d="M48 443.4 L93 443.4 L239 494" fill="none" stroke="#2e2e2e" stroke-width="1.1" />
<text transform="translate(34 473.4) scale(0.82 1)" text-anchor="middle" font-size="22.5" class="n">10</text>
<path d="M48 468.6 L93 468.6 L251 509" fill="none" stroke="#2e2e2e" stroke-width="1.1" />
<text transform="translate(34 501.2) scale(0.82 1)" text-anchor="middle" font-size="22.5" class="n">11</text>
<path d="M48 496.4 L93 496.4 L262 538" fill="none" stroke="#2e2e2e" stroke-width="1.1" />
<text transform="translate(34 526.4) scale(0.82 1)" text-anchor="middle" font-size="22.5" class="n">12</text>
<path d="M48 521.6 L93 521.6 L268 565" fill="none" stroke="#2e2e2e" stroke-width="1.1" />
<text transform="translate(34 554.8) scale(0.82 1)" text-anchor="middle" font-size="22.5" class="n">13</text>
<path d="M48 550 L93 550 L246 578" fill="none" stroke="#2e2e2e" stroke-width="1.1" />
<text transform="translate(34 582.8) scale(0.82 1)" text-anchor="middle" font-size="22.5" class="n">14</text>
<path d="M48 578 L93 578 L236 586.4" fill="none" stroke="#2e2e2e" stroke-width="1.1" />
<text transform="translate(34 611.2) scale(0.82 1)" text-anchor="middle" font-size="22.5" class="n">15</text>
<path d="M48 606.4 L93 606.4 L292 623" fill="none" stroke="#2e2e2e" stroke-width="1.1" />
<text transform="translate(34 640.8) scale(0.82 1)" text-anchor="middle" font-size="22.5" class="n">16</text>
<path d="M48 636 L93 636 L215 675" fill="none" stroke="#2e2e2e" stroke-width="1.1" />
<text transform="translate(34 669.2) scale(0.82 1)" text-anchor="middle" font-size="22.5" class="n">17</text>
<path d="M48 664.4 L93 664.4 L164 682" fill="none" stroke="#2e2e2e" stroke-width="1.1" />
<text transform="translate(34 697.8) scale(0.82 1)" text-anchor="middle" font-size="22.5" class="n">18</text>
<path d="M48 693 L93 693 L128 724" fill="none" stroke="#2e2e2e" stroke-width="1.1" />
<text transform="translate(34 724.2) scale(0.82 1)" text-anchor="middle" font-size="22.5" class="n">19</text>
<path d="M48 719.4 L93 719.4 L128 734" fill="none" stroke="#2e2e2e" stroke-width="1.1" />
<text transform="translate(34 747.2) scale(0.82 1)" text-anchor="middle" font-size="22.5" class="n">20</text>
<path d="M48 742.4 L96 742.4 L108 744" fill="none" stroke="#2e2e2e" stroke-width="1.1" />
<text transform="translate(144 811.8) scale(0.82 1)" text-anchor="middle" font-size="22.5" class="n">21</text>
<path d="M141 746 L147 766 L147 794" fill="none" stroke="#2e2e2e" stroke-width="1.1" />
<text transform="translate(176 807.8) scale(0.82 1)" text-anchor="middle" font-size="22.5" class="n">22</text>
<path d="M158 743 L177 762 L177 790" fill="none" stroke="#2e2e2e" stroke-width="1.1" />
<text transform="translate(283 793.8) scale(0.82 1)" text-anchor="middle" font-size="22.5" class="n">23</text>
<path d="M254 686 L283 748 L283 776" fill="none" stroke="#2e2e2e" stroke-width="1.1" />
<text transform="translate(314 789.8) scale(0.82 1)" text-anchor="middle" font-size="22.5" class="n">24</text>
<path d="M282 693 L314.4 745 L314.4 772" fill="none" stroke="#2e2e2e" stroke-width="1.1" />
<text transform="translate(348 785.8) scale(0.82 1)" text-anchor="middle" font-size="22.5" class="n">25</text>
<path d="M338 702 L348 738 L348 768" fill="none" stroke="#2e2e2e" stroke-width="1.1" />
<text transform="translate(401 778.8) scale(0.82 1)" text-anchor="middle" font-size="22.5" class="n">26</text>
<path d="M388 700 L401 734 L401 762" fill="none" stroke="#2e2e2e" stroke-width="1.1" />
<text transform="translate(461 770.8) scale(0.82 1)" text-anchor="middle" font-size="22.5" class="n">27</text>
<path d="M445 645 L462 718 L462 753" fill="none" stroke="#2e2e2e" stroke-width="1.1" />
<text transform="translate(493 766.8) scale(0.82 1)" text-anchor="middle" font-size="22.5" class="n">28</text>
<path d="M470 638 L493.6 720 L493.6 748" fill="none" stroke="#2e2e2e" stroke-width="1.1" />
<text transform="translate(435 585.8) scale(0.82 1)" text-anchor="middle" font-size="22.5" class="n">29</text>
<path d="M447 579 L459 579 L467 592" fill="none" stroke="#2e2e2e" stroke-width="1.1" />
<text transform="translate(315 573.8) scale(0.82 1)" text-anchor="middle" font-size="22.5" class="n">30</text>
<path d="M327 567 L339 567 L347 580" fill="none" stroke="#2e2e2e" stroke-width="1.1" />
<text transform="translate(340 549.8) scale(0.82 1)" text-anchor="middle" font-size="22.5" class="n">31</text>
<path d="M352 543 L366 543 L374 556" fill="none" stroke="#2e2e2e" stroke-width="1.1" />
<text transform="translate(388 377.8) scale(0.82 1)" text-anchor="middle" font-size="22.5" class="n">32</text>
<path d="M378 371 L351 371 L333 412" fill="none" stroke="#2e2e2e" stroke-width="1.1" />
<text transform="translate(422 376.8) scale(0.82 1)" text-anchor="middle" font-size="22.5" class="n">33</text>
<path d="M435 371 L461 371 L468 420" fill="none" stroke="#2e2e2e" stroke-width="1.1" />
<text transform="translate(329 223.8) scale(0.82 1)" text-anchor="middle" font-size="22.5" class="n">34</text>
<path d="M318 215.6 L287 215.6 L262 317" fill="none" stroke="#2e2e2e" stroke-width="1.1" />
<text transform="translate(453 223.8) scale(0.82 1)" text-anchor="middle" font-size="22.5" class="n">35</text>
<path d="M443 215.6 L411 215.6 L400.4 278" fill="none" stroke="#2e2e2e" stroke-width="1.1" />
<text transform="translate(589.6 222.8) scale(0.82 1)" text-anchor="middle" font-size="22.5" class="n">36</text>
<path d="M579 215.6 L547 215.6 L529 296" fill="none" stroke="#2e2e2e" stroke-width="1.1" />
<text transform="translate(736 222.8) scale(0.82 1)" text-anchor="middle" font-size="22.5" class="n">37</text>
<path d="M726 215.6 L693 215.6 L649.6 358" fill="none" stroke="#2e2e2e" stroke-width="1.1" />
<text transform="translate(558 501.8) scale(0.82 1)" text-anchor="middle" font-size="22.5" class="n">38</text>
<path d="M559 506 L559 544 L550 594" fill="none" stroke="#2e2e2e" stroke-width="1.1" />
<text transform="translate(616.6 478.8) scale(0.82 1)" text-anchor="middle" font-size="22.5" class="n">39</text>
<path d="M616.6 484 L616.6 520 L613.6 584" fill="none" stroke="#2e2e2e" stroke-width="1.1" />
<text transform="translate(667 459.8) scale(0.82 1)" text-anchor="middle" font-size="22.5" class="n">40</text>
<path d="M667 465 L667 502 L689 566" fill="none" stroke="#2e2e2e" stroke-width="1.1" />
<text transform="translate(714.6 440.8) scale(0.82 1)" text-anchor="middle" font-size="22.5" class="n">41</text>
<path d="M715 447 L715 494 L712.4 562" fill="none" stroke="#2e2e2e" stroke-width="1.1" />
<text transform="translate(770 419.8) scale(0.82 1)" text-anchor="middle" font-size="22.5" class="n">42</text>
<path d="M770 424.4 L770 463 L743 548" fill="none" stroke="#2e2e2e" stroke-width="1.1" />
<text transform="translate(828 396.8) scale(0.82 1)" text-anchor="middle" font-size="22.5" class="n">43</text>
<path d="M828 402 L828 439 L788 552" fill="none" stroke="#2e2e2e" stroke-width="1.1" />
<text transform="translate(882 374.8) scale(0.82 1)" text-anchor="middle" font-size="22.5" class="n">44</text>
<path d="M882 380 L882 418 L852 518" fill="none" stroke="#2e2e2e" stroke-width="1.1" />
<text transform="translate(941 351.8) scale(0.82 1)" text-anchor="middle" font-size="22.5" class="n">45</text>
<path d="M941 358 L941 394 L933 450" fill="none" stroke="#2e2e2e" stroke-width="1.1" />
<text transform="translate(995 331.8) scale(0.82 1)" text-anchor="middle" font-size="22.5" class="n">46</text>
<path d="M995 337 L995 376 L984 479" fill="none" stroke="#2e2e2e" stroke-width="1.1" />
<text transform="translate(1047 311.8) scale(0.82 1)" text-anchor="middle" font-size="22.5" class="n">47</text>
<path d="M1047 317 L1047 356 L1057.5 456.5" fill="none" stroke="#2e2e2e" stroke-width="1.1" />
<text transform="translate(1096 292.8) scale(0.82 1)" text-anchor="middle" font-size="22.5" class="n">48</text>
<path d="M1095.6 298 L1095.6 336 L1144 463" fill="none" stroke="#2e2e2e" stroke-width="1.1" />
<text transform="translate(1269.5 222.1) scale(0.82 1)" text-anchor="middle" font-size="22.5" class="n">49</text>
<path d="M1258 215.3 L1227.7 215.3 L1205 319" fill="none" stroke="#2e2e2e" stroke-width="1.1" />
<text transform="translate(1406 222.1) scale(0.82 1)" text-anchor="middle" font-size="22.5" class="n">50</text>
<path d="M1395 215.3 L1364.5 215.3 L1340.4 278.7" fill="none" stroke="#2e2e2e" stroke-width="1.1" />
<text transform="translate(1068 119.8) scale(0.82 1)" text-anchor="middle" font-size="22.5" class="n">51</text>
<path d="M1057 111.6 L1022 111.6 L999 174" fill="none" stroke="#2e2e2e" stroke-width="1.1" />
<text transform="translate(736.7 698.5) scale(0.82 1)" text-anchor="middle" font-size="22.5" class="n">52</text>
<path d="M721.7 691.7 L690 691.7 L668.3 801.7" fill="none" stroke="#2e2e2e" stroke-width="1.1" />
<text transform="translate(738.3 749.1) scale(0.82 1)" text-anchor="middle" font-size="22.5" class="n">53</text>
<path d="M751 740 L778.3 740 L830 816.7" fill="none" stroke="#2e2e2e" stroke-width="1.1" />
<text transform="translate(972 633.8) scale(0.82 1)" text-anchor="middle" font-size="22.5" class="n">54</text>
<path d="M958 627 L926.7 627 L888.5 686.5" fill="none" stroke="#2e2e2e" stroke-width="1.1" />
<text transform="translate(974 682.8) scale(0.82 1)" text-anchor="middle" font-size="22.5" class="n">55</text>
<path d="M959.7 676 L928 676 L876.8 765.7" fill="none" stroke="#2e2e2e" stroke-width="1.1" />
<text transform="translate(973 729.8) scale(0.82 1)" text-anchor="middle" font-size="22.5" class="n">56</text>
<path d="M959.7 721.7 L928 721.7 L921.5 753" fill="none" stroke="#2e2e2e" stroke-width="1.1" />
<text transform="translate(407 1013.8) scale(0.82 1)" text-anchor="middle" font-size="22.5" class="n">57</text>
<path d="M459 865.6 L411 996" fill="none" stroke="#2e2e2e" stroke-width="1.1" />
<text transform="translate(463 1028.4) scale(0.82 1)" text-anchor="middle" font-size="22.5" class="n">58</text>
<path d="M540 922.4 L469 1010" fill="none" stroke="#2e2e2e" stroke-width="1.1" />
<text transform="translate(526.4 1061.8) scale(0.82 1)" text-anchor="middle" font-size="22.5" class="n">59</text>
<path d="M566 973.6 L529.6 1043" fill="none" stroke="#2e2e2e" stroke-width="1.1" />
<text transform="translate(581 1084.8) scale(0.82 1)" text-anchor="middle" font-size="22.5" class="n">60</text>
<path d="M601 966 L583 1066" fill="none" stroke="#2e2e2e" stroke-width="1.1" />
<text transform="translate(764 1183.5) scale(0.82 1)" text-anchor="middle" font-size="22.5" class="n">61</text>
<path d="M788.6 1047.6 L764 1104.8 L764 1165.5" fill="none" stroke="#2e2e2e" stroke-width="1.1" />
<text transform="translate(865.7 1236.4) scale(0.82 1)" text-anchor="middle" font-size="22.5" class="n">62</text>
<path d="M881 1092.7 L866 1156.8 L866 1217.5" fill="none" stroke="#2e2e2e" stroke-width="1.1" />
<text transform="translate(919.5 1055.8) scale(0.82 1)" text-anchor="middle" font-size="22.5" class="n">63</text>
<path d="M898.7 1019 L910.8 1040" fill="none" stroke="#2e2e2e" stroke-width="1.1" />
<text transform="translate(1118 1094.8) scale(0.82 1)" text-anchor="middle" font-size="22.5" class="n">64</text>
<path d="M998 1094 L1070 1088.3 L1106 1088.3" fill="none" stroke="#2e2e2e" stroke-width="1.1" />
<text transform="translate(1118 1051.8) scale(0.82 1)" text-anchor="middle" font-size="22.5" class="n">65</text>
<path d="M1020 1051.7 L1070 1045 L1106 1045" fill="none" stroke="#2e2e2e" stroke-width="1.1" />
<text transform="translate(1118 999.8) scale(0.82 1)" text-anchor="middle" font-size="22.5" class="n">66</text>
<path d="M1015 1018 L1070 993.3 L1106 993.3" fill="none" stroke="#2e2e2e" stroke-width="1.1" />
<text transform="translate(1237.6 793.8) scale(0.82 1)" text-anchor="middle" font-size="22.5" class="n">67</text>
<path d="M1228 786 L1192.5 786 L1129 807" fill="none" stroke="#2e2e2e" stroke-width="1.1" />
<text transform="translate(1081.6 792.8) scale(0.82 1)" text-anchor="middle" font-size="22.5" class="n">68</text>
<path d="M1090 776.8 L1112 763" fill="none" stroke="#2e2e2e" stroke-width="1.1" />
<text transform="translate(1237.6 762.8) scale(0.82 1)" text-anchor="middle" font-size="22.5" class="n">69</text>
<path d="M1228 756.9 L1192.5 756.9 L1161 758" fill="none" stroke="#2e2e2e" stroke-width="1.1" />
<text transform="translate(1237.6 710.8) scale(0.82 1)" text-anchor="middle" font-size="22.5" class="n">70</text>
<path d="M1228 703.7 L1192.5 703.7 L1173.5 735" fill="none" stroke="#2e2e2e" stroke-width="1.1" />
<text transform="translate(1237.6 681.3) scale(0.82 1)" text-anchor="middle" font-size="22.5" class="n">71</text>
<path d="M1228 674.5 L1192.5 674.5 L1149 721" fill="none" stroke="#2e2e2e" stroke-width="1.1" />
<text transform="translate(1237.6 650.1) scale(0.82 1)" text-anchor="middle" font-size="22.5" class="n">72</text>
<path d="M1228 643.3 L1192.5 643.3 L1140.5 681.5" fill="none" stroke="#2e2e2e" stroke-width="1.1" />
<text transform="translate(1469 765.4) scale(0.82 1)" text-anchor="middle" font-size="22.5" class="n">73</text>
<path d="M1459 757.3 L1406 757.3 L1353 877" fill="none" stroke="#2e2e2e" stroke-width="1.1" />
<text transform="translate(1469 595.2) scale(0.82 1)" text-anchor="middle" font-size="22.5" class="n">74</text>
<path d="M1459 587.6 L1406 587.6 L1342 653.7" fill="none" stroke="#2e2e2e" stroke-width="1.1" />
</svg>
<div class="rule"></div>
<div class="logo"><svg width="216" height="60" viewBox="0 0 216 60">
<path d="M35.4 10.8 L54.3 30 L35.4 49.2 L25.8 39.6 L25.8 20.4 Z" fill="#fff"/>
<path d="M22 22.6 H38.5 Q45.6 22.6 45.6 27 Q45.6 29.4 43.6 30 Q45.6 30.6 45.6 33.2 Q45.6 37.6 38.5 37.6 H22 Z" fill="#807f84"/>
<rect x="15.6" y="25.3" width="26.4" height="2.1" rx="1.05" fill="#fff"/><rect x="15.6" y="28.75" width="25.4" height="2.1" rx="1.05" fill="#fff"/><rect x="15.6" y="32.2" width="26.4" height="2.1" rx="1.05" fill="#fff"/>
<path d="M39 25.3 Q43.4 25.3 43.4 27.6 Q43.4 29.7 40.8 29.8 Q43.4 29.9 43.4 32 Q43.4 34.3 39 34.3 L39 32.2 Q41 32.2 41 31.5 Q41 30.85 39 30.85 L39 28.75 Q41 28.75 41 28.1 Q41 27.4 39 27.4 Z" fill="#fff"/>
<text x="62.4" y="42.9" font-family="Liberation Sans, sans-serif" font-weight="bold" font-size="36.5" fill="#fff" textLength="137.8" lengthAdjust="spacingAndGlyphs" stroke="#fff" stroke-width="1.3" stroke-linejoin="round">ЗУБР</text>
</svg></div>
<svg width="1500" height="80" viewBox="0 1400 1500 80" style="top:1400px" font-family="Liberation Sans, sans-serif" font-size="36"><text x="287.4" y="1450.3" fill="#0a0a0a" textLength="314.5" lengthAdjust="spacingAndGlyphs">ЗКЭМ-2200-50_EV.</text><text x="608" y="1450.3" fill="#111" stroke="#fff" stroke-width="0.95" stroke-linejoin="round" textLength="88" lengthAdjust="spacingAndGlyphs">Схема</text><text x="704.6" y="1450.3" fill="#111" stroke="#fff" stroke-width="0.95" stroke-linejoin="round" textLength="41.6" lengthAdjust="spacingAndGlyphs">1-1</text><text x="757.4" y="1450.3" fill="#111" stroke="#fff" stroke-width="0.95" stroke-linejoin="round" textLength="212" lengthAdjust="spacingAndGlyphs">(Схема-состав.</text><text x="976.6" y="1450.3" fill="#111" stroke="#fff" stroke-width="0.95" stroke-linejoin="round" textLength="178.8" lengthAdjust="spacingAndGlyphs">Компрессор</text><text x="1164" y="1450.3" fill="#111" stroke="#fff" stroke-width="0.95" stroke-linejoin="round" textLength="174" lengthAdjust="spacingAndGlyphs">воздушный)</text></svg>
</body></html>
